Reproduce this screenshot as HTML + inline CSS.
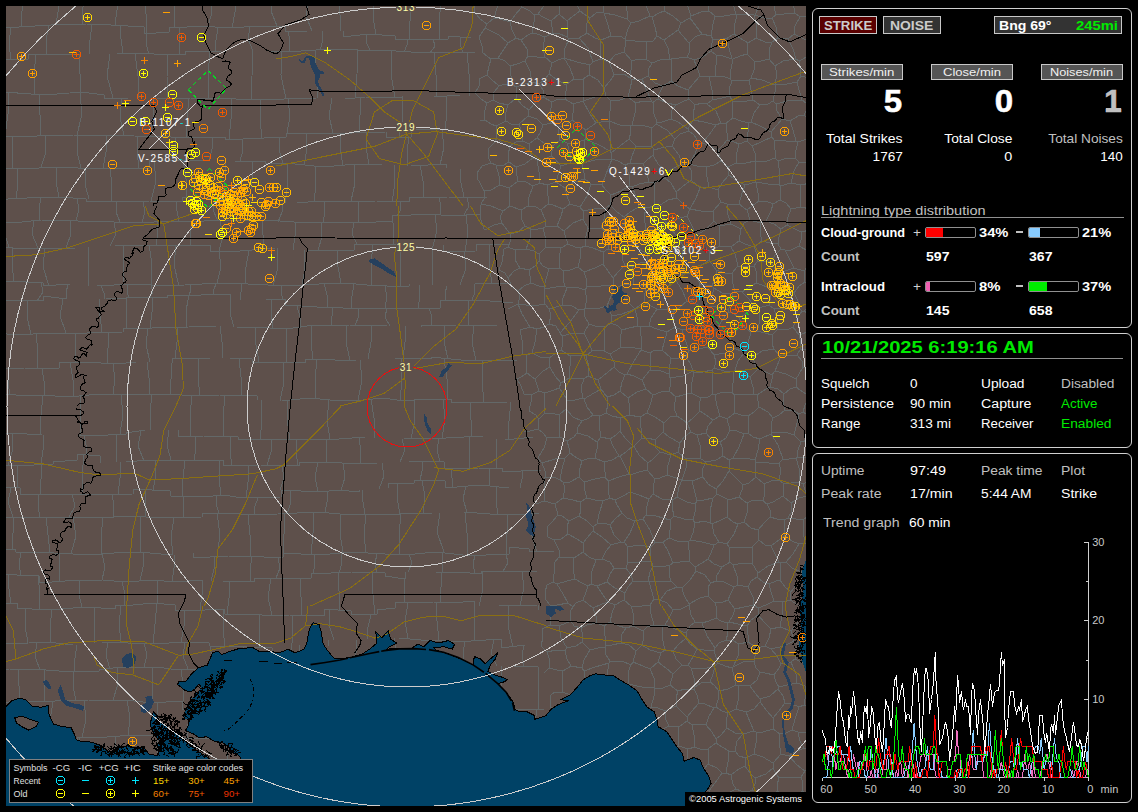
<!DOCTYPE html>
<html><head><meta charset="utf-8"><title>Lightning</title><style>
html,body{margin:0;padding:0;background:#000}
body{width:1138px;height:812px;position:relative;overflow:hidden;font-family:"Liberation Sans",sans-serif}
.t{position:absolute;white-space:nowrap;line-height:normal}
.b{position:absolute;border:1px solid #c8c8c8}
.pn{position:absolute;left:812px;width:318px;border:1px solid #d0d0d0;border-radius:6px}
.hr{position:absolute;height:1px;background:#909090}
.bar{position:absolute;width:49px;height:9px;border:1px solid #909090;border-radius:2px;overflow:hidden}
.bar i{display:block;height:9px}
</style></head><body>
<svg id="map" width="800" height="800" viewBox="6 6 800 800" style="position:absolute;left:6px;top:6px;font-family:'Liberation Sans',sans-serif" shape-rendering="crispEdges">
<defs><path id="p" fill="none" d="M-2.5-4h5M-2.5 4h5M-4-2.5v5M4-2.5v5M-3.5-3h1M2.5-3h1M-3.5 3h1M2.5 3h1M-2.5 0h5M0-2.5v5"/><path id="m" fill="none" d="M-2.5-4h5M-2.5 4h5M-4-2.5v5M4-2.5v5M-3.5-3h1M2.5-3h1M-3.5 3h1M2.5 3h1M-2.5 0h5"/><path id="P" fill="none" d="M-3.5 0h7M0-3.5v7"/><path id="M" fill="none" d="M-3.5 0h7"/></defs>
<rect x="6" y="6" width="800" height="800" fill="#5e504b"/>
<path d="M-10 -3L23 -4M23 -4L49 -5M49 -5L49 -1M49 -1L74 2M74 2L105 1M105 1L105 -5M105 -5L130 -6M130 -6L152 -6M152 -6L181 -4M181 -4L215 -4M215 -4L241 -5M241 -5L272 -5M272 -5L291 -4M291 -4L291 -1M291 -1L310 0M310 0L332 -2M332 -2L354 -1M354 -1L389 -2M389 -2L389 3M389 3L422 4M422 4L422 -1M422 -1L458 -1M-10 30L-10 27M-10 27L19 27M19 27L51 25M51 25L87 24M87 24L111 25M111 25L144 27M144 27L144 34M144 34L169 32M169 32L169 28M169 28L205 26M205 26L225 28M225 28L264 26M264 26L285 26M285 26L285 31M285 31L307 31M343 31L343 37M343 37L368 34M368 34L395 36M395 36L395 39M395 39L427 39M427 39L448 39M448 39L448 36M448 36L471 38M-10 57L9 60M9 60L28 59M28 59L28 55M28 55L56 54M56 54L81 55M116 53L154 54M154 54L185 55M185 55L185 51M185 51L221 52M240 51L240 51M271 51L301 51M301 51L331 49M331 49L358 50M358 50L358 51M358 51L380 50M380 50L411 52M411 52L443 53M443 53L476 52M-10 92L17 92M17 92L17 93M17 93L45 95M45 95L82 92M82 92L104 95M104 95L104 99M104 99L128 98M157 99L191 98M191 98L219 98M219 98L253 100M253 100L284 99M284 99L317 98M345 98L345 99M345 99L365 97M365 97L402 98M402 98L402 96M434 97L460 95M-10 129L-10 137M-10 137L10 136M10 136L37 136M37 136L74 135M74 135L111 135M111 135L134 136M134 136L171 137M171 137L201 137M201 137L225 137M225 137L225 139M225 139L243 139M243 139L264 138M264 138L286 137M286 137L286 133M286 133L325 133M325 133L352 133M352 133L386 132M386 132L386 137M386 137L411 137M411 137L411 129M411 129L449 130M-10 168L20 169M20 169L58 167M58 167L78 168M78 168L115 168M115 168L149 168M149 168L149 161M149 161L171 160M171 160L207 160M235 162L265 161M265 161L265 163M265 163L295 164M295 164L324 167M324 167L355 164M355 164L382 165M411 166L446 164M446 164L446 168M-10 194L-10 200M-10 200L27 198M27 198L59 197M59 197L86 199M86 199L86 201M86 201L111 202M111 202L150 201M150 201L182 202M182 202L182 197M182 197L221 199M221 199L245 200M266 198L266 204M297 203L320 201M320 201L338 202M338 202L376 201M376 201L409 202M409 202L409 198M409 198L448 197M448 197L487 198M-10 221L12 223M12 223L41 220M41 220L78 221M78 221L99 221M99 221L128 223M128 223L154 222M154 222L177 221M177 221L204 221M204 221L242 220M242 220L280 221M280 221L308 223M308 223L330 222M330 222L361 223M361 223L392 221M392 221L392 216M392 216L430 214M430 214L451 216M451 216L481 214M-10 247L13 248M13 248L52 248M52 248L75 248M115 246L147 245M147 245L184 245M184 245L210 245M210 245L210 251M210 251L240 251M240 251L275 248M307 250L335 251M335 251L354 250M354 250L354 244M354 244L385 244M385 244L418 247M443 245L443 252M443 252L476 251M476 251L476 244M476 244L510 245M-10 276L-10 281M-10 281L10 281M10 281L43 283M43 283L43 286M43 286L70 284M97 286L131 284M131 284L151 284M151 284L151 286M151 286L185 285M185 285L219 283M219 283L248 284M248 284L287 286M287 286L319 284M319 284L344 283M344 283L367 285M367 285L387 286M387 286L409 286M409 286L409 284M475 284L510 283M-10 301L22 300M22 300L43 301M43 301L43 296M43 296L67 299M106 299L146 297M146 297L167 298M167 298L167 295M167 295L201 295M201 295L230 294M230 294L230 300M266 300L285 299M285 299L285 305M285 305L317 307M317 307L343 308M343 308L363 308M363 308L387 309M387 309L408 308M408 308L440 308M440 308L440 300M440 300L479 300M479 300L513 303M-10 332L15 335M15 335L52 333M52 333L87 333M87 333L123 332M123 332L123 329M123 329L152 328M152 328L189 327M189 327L216 326M237 327L270 328M270 328L293 328M293 328L314 325M314 325L349 325M349 325L387 326M421 327L421 326M421 326L457 325M457 325L457 325M457 325L497 326M-10 369L25 368M25 368L59 368M59 368L59 362M59 362L85 362M85 362L117 364M117 364L136 362M172 363L172 358M172 358L210 358M230 358L252 359M252 359L252 362M252 362L279 362M279 362L305 363M305 363L305 359M305 359L335 360M335 360L356 360M394 358L431 359M431 359L431 357M431 357L461 360M461 360L461 361M461 361L492 360M492 360L517 360M-10 394L16 395M16 395L41 395M41 395L69 397M69 397L99 394M99 394L131 395M131 395L162 394M162 394L201 396M201 396L219 395M219 395L257 396M257 396L257 400M282 401L309 398M309 398L341 401M341 401L363 400M363 400L383 398M383 398L404 401M404 401L425 399M425 399L451 399M451 399L451 402M451 402L473 403M473 403L508 402M-10 430L-10 434M-10 434L12 433M12 433L42 435M79 436L108 435M108 435L126 434M126 434L126 433M126 433L145 430M178 430L178 436M178 436L203 436M203 436L238 437M238 437L238 440M238 440L265 439M265 439L297 439M297 439L326 440M326 440L365 437M404 439L427 438M427 438L446 438M446 438L446 438M446 438L483 436M505 440L533 437M-10 464L16 466M16 466L53 464M53 464L53 462M53 462L77 460M77 460L77 454M77 454L100 456M100 456L100 463M126 462L149 460M149 460L185 460M185 460L223 460M223 460L223 466M223 466L260 465M260 465L299 466M299 466L299 462M299 462L330 462M330 462L353 464M353 464L377 463M408 461L444 462M444 462L444 469M444 469L479 468M479 468L502 468M502 468L502 472M502 472L541 470M-10 486L20 488M20 488L20 495M20 495L38 494M38 494L72 494M72 494L100 495M100 495L133 494M133 494L133 489M133 489L170 491M170 491L170 496M170 496L203 497M203 497L224 495M224 495L242 498M242 498L281 497M281 497L281 490M281 490L320 492M320 492L338 490M338 490L359 492M359 492L359 490M388 488L388 483M388 483L414 483M414 483L414 480M414 480L445 481M445 481L445 488M445 488L480 485M480 485L509 488M-10 521L-10 517M-10 517L16 517M16 517L39 517M39 517L73 517M73 517L102 518M102 518L127 516M127 516L165 518M165 518L202 517M202 517L202 513M202 513L240 514M240 514L240 515M240 515L278 514M278 514L317 512M317 512L340 514M340 514L366 514M366 514L400 514M400 514L432 513M464 512L490 514M490 514L490 514M490 514L517 514M517 514L517 515M517 515L539 513M-10 550L15 549M15 549L15 552M15 552L54 553M54 553L91 555M91 555L114 553M114 553L139 552M139 552L172 555M193 553L193 558M193 558L228 556M228 556L264 557M264 557L283 557M283 557L283 553M283 553L319 555M319 555L351 552M351 552L385 554M385 554L415 554M415 554L436 552M436 552L463 555M463 555L486 555M486 555L509 554M509 554L509 547M509 547L529 549M529 549L529 552M529 552L554 551M-10 580L-10 574M-10 574L17 575M17 575L39 576M39 576L39 583M39 583L65 581M65 581L103 580M103 580L125 582M125 582L153 580M153 580L175 582M175 582L202 580M223 581L254 582M254 582L254 578M254 578L275 578M275 578L311 578M311 578L311 574M311 574L351 572M351 572L385 573M385 573L385 576M385 576L405 579M405 579L405 572M436 572L459 572M459 572L481 574M481 574L481 571M481 571L503 572M503 572L503 571M503 571L536 571M536 571L536 572M-10 609L-10 605M-10 605L17 603M17 603L17 608M17 608L47 610M47 610L86 607M86 607L115 609M115 609L115 606M115 606L133 605M133 605L153 603M153 603L175 605M175 605L175 610M175 610L205 610M205 610L224 609M224 609L224 614M224 614L262 615M262 615L289 615M289 615L324 616M324 616L324 609M324 609L351 611M351 611L351 615M351 615L377 614M377 614L377 610M377 610L395 608M395 608L395 603M395 603L434 602M434 602L452 603M452 603L474 601M474 601L474 607M499 606L538 605M538 605L538 610M-10 644L29 643M29 643L48 642M48 642L73 645M102 642L128 643M128 643L155 644M155 644L183 642M183 642L209 643M209 643L209 646M209 646L247 647M247 647L272 648M272 648L272 652M272 652L299 652M299 652L299 645M328 646L328 640M399 638L421 640M421 640L449 641M449 641L471 641M471 641L501 639M501 639L501 648M501 648L525 645M-10 676L-10 670M-10 670L9 669M9 669L46 670M46 670L72 672M72 672L99 671M99 671L99 670M99 670L120 667M120 667L156 667M156 667L179 670M179 670L212 669M212 669L248 668M248 668L248 674M248 674L276 673M276 673L276 667M302 667L322 667M322 667L355 665M355 665L387 665M417 667L451 666M451 666L486 666M486 666L486 665M514 666L538 667M-10 702L9 702M9 702L27 701M27 701L55 701M55 701L89 700M89 700L126 700M126 700L151 703M151 703L182 701M182 701L182 710M182 710L211 709M211 709L236 709M236 709L270 707M270 707L306 710M306 710L331 708M331 708L331 705M331 705L350 702M350 702L380 704M380 704L402 701M402 701L429 704M429 704L456 703M456 703L456 705M456 705L474 709M514 707L514 709M514 709L544 709M-10 734L-10 736M-10 736L28 738M28 738L28 742M28 742L52 741M52 741L77 742M77 742L77 738M77 738L107 737M107 737L133 735M133 735L159 736M159 736L178 739M178 739L212 738M212 738L212 741M244 741L244 737M244 737L274 736M274 736L294 737M294 737L294 743M294 743L322 743M358 742L396 742M396 742L432 744M465 743L500 742M500 742L524 742M524 742L524 738M524 738L545 736M-10 772L13 769M13 769L37 772M37 772L67 771M67 771L67 776M67 776L87 777M87 777L119 777M119 777L145 775M145 775L176 776M176 776L176 779M176 779L215 779M215 779L243 779M243 779L280 777M280 777L300 779M332 780L361 778M361 778L361 779M361 779L383 778M383 778L409 779M409 779L436 780M436 780L465 780M465 780L485 778M485 778L485 773M485 773L521 773M521 773L557 772M-10 800L-10 793M-10 793L10 793M10 793L10 798M40 799L67 798M67 798L102 797M102 797L140 799M140 799L176 796M176 796L203 797M203 797L222 797M222 797L258 796M258 796L291 797M291 797L323 798M323 798L343 798M343 798L343 805M343 805L374 802M374 802L406 804M406 804L406 798M429 798L452 798M452 798L452 803M452 803L484 805M484 805L507 804M507 804L507 800M507 800L543 801M-10 826L21 826M21 826L21 831M21 831L60 831M79 832L110 830M110 830L148 832M148 832L170 831M170 831L170 826M170 826L194 825M194 825L213 826M213 826L213 822M244 820L272 820M272 820L310 821M310 821L347 823M347 823L382 821M382 821L419 821M419 821L448 821M448 821L487 822M487 822L487 824M487 824L527 826M-10 857L15 858M15 858L38 857M38 857L38 853M38 853L64 854M64 854L93 855M93 855L127 853M127 853L128 848M128 848L158 848M158 848L195 849M195 849L233 847M233 847L269 850M269 850L297 851M297 851L320 850M320 850L320 853M320 853L356 855M356 855L356 859M356 859L385 860M385 860L424 862M424 862L456 860M456 860L456 858M456 858L479 858M479 858L511 857M511 857L545 857M-7 -3L-5 12L-10 27M23 -4L22 11L21 27M59 0L58 12L56 25M84 2L82 13L83 25M117 -6L117 10L115 25M145 -6L146 14L147 34M175 -4L174 12L174 28M210 -4L212 12L208 27M235 -5L235 12L232 28M274 -5L271 11L277 26M309 0L306 16L312 31M339 -2L340 15L340 31M373 -2L373 17L376 35M412 4L410 21L409 39M442 -1L439 19L439 39M11 27L9 44L11 60M49 25L46 40L46 54M92 25L90 40L89 54M120 26L121 39L123 53M147 34L146 44L149 54M180 27L179 41L180 55M218 28L216 40L215 52M250 27L248 39L253 51M288 31L290 41L289 51M322 31L323 40L320 50M366 35L366 42L370 50M407 39L407 45L404 52M433 39L435 46L430 53M460 37L460 45L463 52M-4 58L-5 75L-1 92M36 55L34 74L35 94M79 55L80 74L80 93M110 54L107 76L113 98M135 54L138 76L138 98M168 55L167 77L167 99M210 52L208 75L208 98M253 51L252 76L251 100M282 51L281 75L286 99M315 50L316 74L318 98M358 50L357 74L355 98M391 51L391 74L395 98M434 53L436 75L437 97M467 52L469 74L469 96M8 92L8 114L5 136M39 94L40 115L40 136M80 93L82 114L77 135M122 98L120 117L124 135M154 99L153 118L150 137M189 98L187 118L186 137M231 99L231 119L229 139M261 100L260 119L262 138M288 99L290 116L287 133M332 98L329 116L333 133M360 98L360 115L359 133M402 96L403 117L399 137M446 96L447 113L445 130M13 136L12 152L13 169M45 136L46 152L41 167M78 135L77 152L81 168M107 135L106 152L103 168M138 136L137 152L139 168M175 137L176 149L174 160M212 137L212 149L209 160M242 139L243 150L240 161M279 137L279 150L283 163M306 133L307 149L304 165M341 133L340 149L343 165M367 132L366 148L369 164M409 137L407 151L408 166M442 130L444 147L440 165M17 169L18 184L16 199M56 167L56 182L59 197M86 168L85 184L89 199M110 168L112 185L111 202M154 161L156 181L151 201M183 160L186 179L187 197M225 161L225 180L223 199M252 161L252 180L250 199M287 163L288 183L285 203M315 166L316 184L314 202M354 164L355 183L351 201M394 165L395 183L392 202M420 165L423 181L423 197M460 169L461 183L464 197M1 199L2 210L1 222M41 198L39 209L39 220M77 198L79 209L76 221M117 202L116 212L120 222M143 201L145 212L142 222M176 201L177 211L179 221M215 199L213 210L218 221M243 200L240 210L240 220M282 203L282 212L278 222M324 202L325 212L323 222M359 201L358 212L358 223M400 202L401 209L397 216M439 197L441 206L440 215M467 197L469 206L464 215M6 222L5 235L9 247M34 221L32 234L38 248M70 220L71 234L66 248M114 222L116 234L110 246M157 222L158 233L156 245M192 221L190 233L191 245M220 221L223 236L219 251M262 221L263 235L264 249M295 222L295 236L293 250M321 222L322 236L318 251M354 223L352 234L357 244M392 216L394 230L393 245M435 215L437 230L433 246M466 215L468 233L465 251M12 248L12 264L14 281M45 248L43 267L49 286M88 247L88 266L89 286M124 246L123 265L124 285M149 245L152 264L151 284M176 245L174 265L179 286M219 251L221 267L217 283M249 250L246 267L245 284M277 248L278 267L273 286M304 250L305 268L302 285M337 251L338 267L341 283M373 244L371 265L371 285M400 245L400 266L401 286M432 246L433 266L432 285M464 251L466 268L460 285M489 244L489 264L492 284M-3 281L-5 291L-6 301M41 282L43 292L37 301M68 285L66 292L67 299M101 286L104 293L105 299M127 285L127 291L129 298M151 286L153 292L150 297M190 285L191 290L189 295M216 284L214 289L213 294M242 284L241 292L240 300M281 286L281 293L283 299M324 283L327 295L328 307M354 284L352 296L351 308M385 286L387 297L385 308M419 285L420 296L418 308M447 286L445 293L446 300M474 284L475 292L472 300M-4 301L-5 317L-4 333M28 300L27 317L31 334M63 299L60 316L66 333M99 299L100 316L102 332M126 298L127 313L126 328M153 297L152 312L150 328M189 295L186 311L187 327M231 300L230 313L234 327M271 300L271 314L273 328M297 306L300 317L300 328M333 308L332 316L331 325M358 308L359 316L355 325M387 308L385 317L390 326M429 308L432 317L431 326M469 300L468 312L468 325M-4 333L-6 351L-8 369M36 334L38 351L37 368M75 333L76 347L75 362M109 332L108 348L107 364M148 328L146 345L150 362M177 327L177 342L175 358M220 326L222 342L222 358M255 327L256 345L259 362M286 328L286 345L287 362M311 325L311 342L313 359M346 325L346 342L350 360M371 325L371 342L368 359M405 326L405 342L403 358M445 325L444 342L448 359M474 325L472 343L476 360M9 368L8 382L10 395M42 368L44 381L44 395M70 362L73 380L73 397M113 364L115 379L113 394M147 362L149 378L150 394M171 363L171 379L170 394M198 358L198 377L200 396M239 358L241 377L242 396M283 362L284 382L280 401M317 359L315 379L315 399M360 360L362 380L358 400M401 358L402 380L400 401M444 359L447 379L447 399M482 360L482 381L484 403M-0 394L-2 414L-3 434M43 395L41 415L40 435M80 396L80 416L80 436M121 395L123 414L120 434M152 394L150 412L150 430M192 395L190 416L190 436M225 396L223 416L223 436M261 400L262 420L260 440M287 401L287 420L290 439M329 400L327 420L330 440M371 399L374 418L375 438M414 400L415 420L411 439M443 399L445 419L442 438M470 403L471 420L472 437M511 402L509 421L508 439M12 433L13 449L8 465M44 435L43 450L41 464M84 436L86 445L86 455M116 434L116 448L117 462M141 431L138 446L144 461M169 430L167 445L171 460M195 436L196 448L194 460M231 436L230 451L232 466M271 439L271 452L267 465M296 439L296 452L298 466M326 440L327 451L326 462M359 438L361 451L360 464M402 439L405 450L400 462M439 438L437 450L440 462M470 437L469 453L470 468M496 439L497 453L496 468M17 466L17 477L17 488M41 465L41 479L40 494M84 455L82 475L83 494M120 462L120 478L118 494M155 460L156 475L153 490M185 460L183 478L182 497M220 460L219 478L221 496M248 465L248 482L246 498M282 466L284 478L280 490M318 462L315 477L318 492M343 463L345 477L341 491M382 463L384 476L379 489M423 462L422 471L420 480M451 469L452 478L453 488M490 468L489 477L490 486M522 471L522 479L520 488M11 488L8 502L13 517M39 494L38 506L40 517M72 494L75 506L69 517M112 494L114 506L113 517M145 490L145 503L145 517M184 497L183 507L183 518M216 496L216 504L219 513M258 498L255 506L254 515M290 490L291 502L287 514M327 491L327 502L325 513M362 490L363 502L365 514M398 483L397 498L400 514M422 480L425 497L423 513M466 486L463 499L467 512M497 487L496 501L498 514M13 517L13 533L12 549M46 517L48 535L50 553M73 517L76 536L71 554M103 518L101 536L101 554M140 517L140 534L141 552M174 518L171 536L173 555M217 513L220 535L217 556M248 515L250 535L251 556M284 514L284 534L283 553M314 512L313 533L311 555M341 514L340 533L343 553M366 514L364 534L366 553M401 514L399 534L400 554M440 513L437 532L444 552M465 512L467 533L467 555M507 514L507 534L506 554M533 513L531 533L537 552M-5 550L-6 562L-9 575M21 552L19 564L21 575M59 553L60 568L59 582M102 554L105 567L102 580M143 553L143 567L140 581M174 555L174 568L172 582M215 556L214 569L211 581M252 557L250 569L251 582M278 557L280 568L276 578M314 555L315 564L313 574M341 553L342 563L339 573M377 554L375 563L377 573M409 554L412 563L408 572M443 553L442 562L442 572M475 555L473 564L475 573M506 554L508 563L503 571M8 575L9 589L11 604M38 576L40 593L39 610M79 581L79 594L82 608M122 582L125 594L124 606M158 581L157 592L158 603M202 580L202 595L200 610M229 582L229 598L227 614M271 578L268 597L272 615M300 578L301 597L301 616M338 573L339 591L339 610M372 573L373 594L375 615M404 579L404 591L404 603M442 572L441 587L440 603M482 571L483 589L479 606M522 571L524 588L520 605M-8 605L-10 624L-9 644M26 609L25 626L28 643M52 610L50 626L51 643M94 608L94 625L95 643M121 606L119 624L121 642M157 603L155 624L153 644M185 610L184 626L181 642M224 609L223 628L225 647M260 615L259 631L260 647M292 615L293 634L291 652M330 610L329 625L334 640M371 615L368 627L367 639M408 603L405 621L408 639M436 602L437 621L439 640M474 601L475 621L474 641M509 605L508 626L513 647M3 644L2 657L6 670M37 643L35 656L40 670M77 645L75 658L74 672M108 642L106 655L110 669M144 643L147 655L144 667M185 642L183 656L188 669M210 646L212 657L206 669M243 647L243 657L239 668M272 652L273 663L268 673M316 646L318 656L316 667M357 640L356 653L355 665M394 638L396 652L393 666M430 640L432 653L430 667M465 641L463 654L464 666M494 640L491 653L497 666M524 645L522 656L524 666M18 669L19 686L19 702M44 670L44 685L45 701M73 672L73 686L76 701M117 667L118 684L113 700M152 667L152 685L153 703M181 669L183 685L183 701M222 668L221 689L224 709M261 673L258 690L259 708M288 667L290 688L287 708M318 667L318 688L314 709M356 665L358 684L353 702M397 666L394 684L397 702M427 667L429 685L424 704M470 666L472 687L466 708M502 666L501 687L501 707M539 667L538 688L539 709M4 702L2 720L3 737M28 701L30 721L25 742M53 701L50 721L56 741M84 700L86 719L82 738M127 700L130 718L128 736M157 703L157 719L161 736M191 710L188 724L187 738M216 709L215 725L218 741M254 708L255 722L254 737M279 708L277 722L280 736M305 710L306 726L302 743M338 704L340 723L338 742M366 703L369 722L364 742M401 702L400 722L404 742M431 704L428 724L432 744M473 709L474 726L473 743M513 707L510 724L513 742M537 709L535 723L534 737M3 737L3 754L5 770M42 741L41 757L42 772M79 738L82 758L81 777M115 737L117 757L113 777M157 736L158 756L154 776M183 739L185 759L183 779M227 741L227 760L224 779M264 736L262 757L260 778M291 737L292 757L293 778M323 743L323 761L326 780M363 742L362 760L364 779M395 742L398 760L392 779M432 744L431 762L433 780M463 743L464 762L463 780M499 742L497 757L497 773M526 738L523 755L528 773M-9 772L-10 782L-12 793M31 771L34 785L32 799M59 772L61 785L56 798M93 777L94 787L94 797M124 777L123 787L122 798M163 776L161 786L163 797M194 779L195 788L191 796M219 779L221 788L216 797M252 779L253 787L250 796M284 777L281 787L288 797M309 779L308 788L308 797M344 779L342 792L344 805M382 779L382 790L384 802M409 779L406 789L412 798M438 780L438 789L435 798M477 779L474 792L473 805M501 773L502 788L505 804M536 772L535 787L537 801M4 793L5 810L3 826M37 799L37 815L37 831M62 798L61 815L63 831M88 797L89 814L92 832M127 798L128 815L125 831M170 797L167 814L167 831M207 797L205 811L209 826M234 797L236 809L236 821M265 796L265 808L266 820M289 797L292 808L293 820M325 798L324 810L328 821M360 803L360 813L363 822M387 803L385 812L389 821M423 798L421 810L419 821M460 803L458 812L461 822M493 805L490 815L490 824M527 801L527 814L526 826M8 826L10 842L5 858M38 831L37 844L36 857M77 832L79 843L76 854M105 831L105 842L107 854M130 831L131 840L132 848M165 831L165 840L166 848M206 826L208 837L210 849M250 820L248 834L254 849M278 820L277 835L277 850M319 821L316 835L315 850M346 823L348 838L343 854M376 821L376 840L375 859M411 821L410 841L413 861M444 821L444 841L441 860M468 822L467 840L469 858M508 825L507 841L509 857M536 826L533 842L533 857M772 42L778 38M772 42L765 42L756 38M772 18L776 27L778 38M772 18L764 18L755 15M755 15L754 15M756 38L757 27L754 15M769 59L769 50L772 42M769 59L761 61L755 62M755 62L747 54M756 38L748 43M747 54L748 43M769 59L775 66M778 38L788 39M775 66L783 61L796 59M788 39L793 49L796 59M775 66L777 74L775 84M775 84L787 84L797 82M797 82L801 76M801 76L800 68L799 61M796 59L799 61M735 751L739 756L746 758M735 751L737 741L743 734M743 734L754 731M754 754L756 743L756 732M754 754L746 758M756 732L754 731M745 766L739 769L731 775M745 766L746 758M731 775L726 773M735 751L729 751M726 773L728 762L729 751M755 460L758 450L760 439M755 460L756 462M760 439L771 434M756 462L769 463L779 463M779 463L783 459M783 459L778 445L771 434M773 418L768 412L759 407M773 418L771 424L772 433M748 433L753 437L760 439M748 433L749 426L748 416M748 416L754 412L759 407M772 433L771 434M785 410L779 415L773 418M785 410L793 410L799 414M799 414L797 423L794 435M772 433L785 432L794 435M799 414L803 412M803 412L810 417L818 425M816 436L808 440L801 442M794 435L801 442M783 459L789 459L796 458M801 442L798 450L797 457M796 458L797 457M745 766L750 773L755 778M731 775L733 784L736 789M736 789L741 791L750 791M750 791L752 790M755 778L755 784L752 790M816 814L807 810L796 809M791 815L796 809M713 39L711 36M713 39L719 40L727 38M711 36L713 24L715 16M727 38L734 34M734 34L735 23L737 15M715 16L724 16L736 14M736 14L737 15M754 15L745 14L737 15M748 43L740 38L734 34M733 -6L733 4L736 14M709 11L715 16M709 11L708 3L710 -6M755 15L759 6L761 -7M821 331L810 331L799 335M799 335L801 343L800 350M800 350L811 349L820 346M785 410L783 401L784 394M784 394L790 389L796 387M803 412L805 405L809 396M809 396L800 390L796 387M812 166L812 174L810 183M810 183L815 187L819 192M795 13L793 2M795 13L784 14L776 15M793 2L786 -2L780 -6M776 15L774 7L775 -4M802 -10L798 -5L793 2M772 18L776 15M788 39L794 34M795 13L800 17M794 34L795 26L800 17M815 -1L812 6L808 16M800 17L808 16M812 18L808 16M518 304L520 297L518 291M518 304L518 304M509 280L512 287L518 291M518 304L508 309M532 353L527 355M532 353L535 342L537 329M537 329L530 327M522 354L527 355M522 354L522 340L520 330M530 327L520 330M518 304L522 314L530 327M784 394L778 389L770 387M759 407L757 395M770 387L766 389L757 395M545 57L543 48L545 37M545 57L537 57L528 56M528 56L527 49L521 40M521 40L528 35L532 33M532 33L537 34L545 37M487 -8L494 -5L497 1M497 1L503 0L511 -2M585 179L591 184M585 179L574 182L565 188M591 184L587 196L580 207M565 188L567 196L570 204M580 207L570 204M563 209L570 204M563 209L561 216L557 226M564 231L557 226M564 231L573 223L583 219M583 211L583 219M583 211L580 207M583 163L599 159L612 159M583 163L585 151L584 140M584 140L585 139M585 139L599 145L610 151M612 159L611 153M610 151L611 153M582 164L583 163M582 164L584 173L585 179M602 185L591 184M602 185L606 174L612 159M612 159L612 159M646 42L646 50L647 60M646 42L635 41L626 40M624 52L625 47L626 40M624 52L632 61M632 61L638 59L647 60M795 799L796 809M795 799L802 791M802 791L810 795L820 797M648 772L658 771L671 775M648 772L651 783L652 793M671 775L672 783L671 790M671 790L660 790L652 793M693 793L683 790L672 791M693 793L693 804L691 813M671 812L670 800L672 791M671 812L675 816M582 752L592 747M582 752L574 748L568 743M568 743L568 738L566 730M592 747L596 736L597 729M597 729L593 727L584 725M566 730L574 726L584 725M568 743L565 748L558 754M553 728L561 726M566 730L561 726M542 756L552 754L558 754M581 766L582 758L582 752M581 766L575 766L567 769M558 754L562 760L567 769M606 646L605 636L604 626M606 646L612 645L621 643M621 643L622 634L626 628M626 628L619 626L610 622M610 622L604 626M597 623L604 626M597 623L587 625L581 628M590 650L598 648L605 647M590 650L582 642M605 647L606 646M582 642L583 636L581 628M636 651L629 645L621 643M636 651L633 662M610 661L606 655L605 647M610 661L622 661L631 665M633 662L631 665M667 750L671 762L674 771M667 750L673 750L679 746M674 771L686 770M686 770L687 761L688 749M679 746L688 749M648 772L647 770M667 750L662 749M662 749L654 756L646 759M674 771L671 775M647 770L646 759M516 38L508 43M516 38L512 30L510 22M487 24L485 28M487 24L494 18M494 18L500 19L510 22M508 43L499 35L485 28M511 -2L521 5M531 -8L526 -3L521 5M516 38L521 40M532 33L534 22L534 15M510 22L515 15L522 7M534 15L530 11L522 7M497 1L497 8L494 18M522 7L521 5M538 14L534 15M538 14L543 7L551 -2M587 33L586 25L590 18M587 33L595 38L601 40M590 18L596 13L603 12M611 36L601 40M611 36L608 25L604 13M604 13L603 12M669 -0L665 4L664 11M664 11L673 16L681 23M684 -5L688 7L691 16M681 23L690 18M690 18L691 16M652 17L659 13L664 11M652 17L655 27L657 36M657 36L664 40M664 40L671 35L678 30M678 30L681 23M689 43L682 35L678 30M689 43L695 37L702 34M702 34L696 26L690 18M709 11L701 12L691 16M702 34L711 36M487 24L480 19L474 11M474 11L475 4L476 -2M824 365L815 366L809 369M809 369L815 381L818 393M800 350L797 355M797 355L802 361L803 367M803 367L809 369M803 367L799 374L796 379M809 396L818 393M796 387L796 379M630 126L632 125M630 126L620 125L609 121M632 125L635 113L636 103M609 121L609 121M609 121L610 111L611 101M611 101L620 100L628 97M628 97L636 103M629 139L620 146L611 153M629 139L631 132L630 126M610 151L611 137L609 121M652 102L643 101L636 103M652 102L653 102M653 102L654 114L657 122M657 122L656 124M656 124L652 128M652 128L642 125L632 125M586 130L585 139M586 130L596 123M596 123L601 122L609 121M652 102L646 89L642 79M642 79L632 80M632 80L630 89L628 97M713 39L711 47L711 51M727 38L729 48L732 59M711 51L716 55M716 55L723 56L732 59M747 54L740 56L733 59M732 59L733 59M653 102L658 99M657 122L662 122L671 119M658 99L667 103L676 105M671 119L672 110L676 105M646 42L653 41L657 36M664 40L668 48L670 59M647 60L652 63M670 59L660 60L652 63M658 99L659 94L663 86M642 79L648 76M663 86L655 83L648 76M632 61L631 70L630 78M632 80L630 78M648 76L648 70L652 63M700 76L698 70L694 60M700 76L693 84L688 90M688 90L678 86L671 81M671 81L672 71L671 59M671 59L679 58L687 57M687 57L694 60M689 99L682 102L676 105M689 99L688 90M663 86L671 81M670 59L671 59M689 43L690 51L687 57M711 51L703 57L694 60M799 162L807 163L812 166M799 162L794 171L791 183M810 183L801 185M791 183L801 185M810 209L801 207M810 209L817 200M801 185L800 195L801 207M799 162L795 158M795 158L796 150L798 142M819 149L814 146L807 139M798 142L807 139M794 34L806 40L818 43M799 61L810 55L817 53M801 76L812 79L819 80M643 164L646 161L653 155M643 164L637 163L630 163M630 163L632 156L636 146M636 146L644 146L652 146M653 155L654 150M654 150L652 146M654 183L665 178M654 183L649 182M649 182L647 173L643 164M667 172L665 178M667 172L658 164L653 155M625 165L630 163M625 165L618 161L612 159M629 139L636 146M652 128L651 137L652 146M563 209L553 205L548 204M565 188L556 182M548 204L548 196L547 185M556 182L547 185M582 164L576 163L570 163M584 140L576 143L567 143M567 143L570 153L570 163M556 182L559 172L561 166M537 160L543 160L551 156M537 160L539 172L540 183M540 183L547 185M551 156L555 159L561 166M570 163L561 166M622 251L629 245L635 243M622 251L615 251L608 249M624 224L618 230L609 234M624 224L628 231L634 235M635 243L634 235M608 249L610 241L609 234M583 211L594 209L606 208M583 219L588 228M606 208L604 219L601 228M588 228L595 228L601 228M639 207L630 212L624 217M639 207L637 198L632 187M624 217L617 212L610 205M632 187L629 186M629 186L621 191L611 195M611 195L610 205M646 208L644 217L646 229M646 208L639 207M624 224L624 217M646 229L642 233L634 235M655 206L646 208M655 206L654 196L654 183M649 182L639 184L632 187M606 208L610 205M609 234L601 228M625 165L629 174L629 186M602 185L605 189L611 195M561 248L559 258L559 268M561 248L553 247L545 248M545 248L539 254M559 268L549 269M549 269L543 266L539 261M539 254L539 261M544 287L539 286L531 283M544 287L546 279L549 269M531 283L530 276L529 270M529 270L535 266L539 261M647 470L655 479M647 470L648 463M655 479L660 478L667 475M671 455L668 465L667 475M671 455L660 452M648 463L652 460L660 452M653 395L650 405L647 413M653 395L661 392L669 391M647 413L655 417L664 423M669 391L676 397M676 397L674 408L677 416M677 416L670 417L664 423M691 393L701 398M691 393L683 395L676 397M701 398L699 404L700 411M687 423L693 418L700 411M687 423L683 420L677 416M655 440L648 438L642 438M655 440L656 448L660 452M648 463L639 455L634 446M634 446L642 438M663 432L655 440M663 432L664 423M647 413L640 417M642 438L641 428L640 417M670 378L683 376L693 371M670 378L671 383L669 391M691 393L692 382L694 372M693 371L694 372M662 350L671 358M662 350L655 350L650 353M650 370L650 362L650 353M650 370L661 371L669 374M669 374L670 364L671 358M641 350L650 353M641 350L634 361L627 374M642 380L634 376L627 374M642 380L646 375L650 370M670 378L669 374M646 389L642 380M646 389L653 395M686 356L691 365L693 371M686 356L679 358L671 358M568 -20L570 -9L574 1M551 -2L559 3M559 3L565 1L574 1M590 18L584 14L580 11M603 12L604 6L606 -2M593 -13L585 -5L575 1M580 11L575 1M575 1L574 1M553 33L551 21M553 33L558 33L567 37M567 37L567 28L567 21M567 21L559 14M551 21L559 14M545 37L553 33M538 14L543 17L551 21M552 63L558 60L564 58M552 63L545 57M564 58L565 48L569 39M569 39L567 37M587 33L579 38M579 38L569 39M580 11L573 16L567 21M559 3L559 14M566 85L556 79L549 74M566 85L574 79M549 74L552 63M564 58L564 58M574 79L570 68L564 58M596 123L590 114L583 101M611 101L606 96M606 96L595 97L583 101M566 85L566 91L565 99M565 99L573 104M573 104L583 101M574 79L583 79M583 79L583 89L583 101M573 104L573 113L572 120M572 120L579 125L586 130M583 101L583 101M754 754L763 757L773 763M755 778L766 774L773 768M773 763L773 768M752 790L763 794L771 796M771 796L777 791M777 791L777 785L779 778M773 768L775 772L779 778M777 791L786 797L795 799M802 791L803 783L801 777M779 778L790 777L801 777M821 774L816 774L808 770M808 770L805 771M801 777L805 771M808 770L810 762L812 752M583 713L576 709L570 707M583 713L586 708L590 701M590 701L589 696L587 690M587 690L580 691L570 695M570 695L572 699L570 707M584 725L583 713M561 721L561 726M561 721L564 715L570 707M601 727L597 729M601 727L602 719L604 714M604 714L597 709L590 701M542 764L542 756M584 671L595 667L609 663M584 671L585 679L589 687M589 687L597 685L608 686M609 663L607 676L608 686M610 661L609 663M590 650L584 660L582 668M582 668L584 671M559 557L559 550L554 540M559 557L554 563M554 540L548 537M583 543L583 552M583 543L577 539L568 534M568 534L561 539L554 540M574 558L583 552M574 558L568 557L559 557M695 776L702 772L708 764M695 776L694 783L697 788M709 791L715 783L722 773M709 791L697 788M722 773L717 768L708 764M708 749L709 757L708 764M708 749L702 750L695 747M686 770L695 776M688 749L695 747M693 793L697 788M672 791L671 790M715 796L721 797L726 799M715 796L709 791M726 799L730 792L736 789M726 773L722 773M729 751L722 747L716 743M716 743L708 749M628 684L628 684M628 684L621 684L612 688M628 684L632 699L635 710M612 688L612 696L613 706M613 706L621 710L630 712M630 712L635 710M633 662L643 666L650 669M631 665L628 672L628 684M650 669L654 678L654 687M654 687L642 687L628 684M608 686L612 688M655 688L654 696L651 707M655 688L654 687M651 707L645 712M645 712L635 710M604 714L608 711L613 706M587 690L589 687M692 725L687 721M692 725L694 735L695 747M679 746L678 737L679 727M687 721L679 727M648 727L645 721L645 712M648 727L658 732M658 732L663 729L669 726M651 707L658 708L665 711M665 711L666 720L669 726M658 732L659 742L662 749M669 726L679 727M796 458L799 468L799 482M797 457L807 458L816 463M803 484L799 482M803 484L811 480L815 475M756 462L755 471L756 477M779 463L781 471L779 480M756 477L764 484M764 484L771 481L779 480M799 482L791 483L784 484M779 480L784 484M655 479L653 487L653 494M667 475L673 477L682 480M677 497L679 487L682 480M677 497L673 500M682 480L682 480M673 500L662 499L653 494M807 496L805 490L803 484M807 496L812 500M771 796L769 805L770 813M750 791L749 802L749 813M726 799L726 808L730 812M671 812L661 809L652 810M652 793L650 795M652 810L651 803L650 795M647 770L640 774L631 778M627 790L627 785L631 778M627 790L629 793M650 795L640 794L629 793M581 766L586 770L591 777M592 747L600 752L606 758M591 777L597 768L606 764M606 758L606 764M591 777L591 787M591 787L597 792L604 795M604 795L611 792M611 792L611 781L614 769M606 764L614 769M627 790L619 790L611 792M631 778L625 773L621 769M614 769L621 769M542 764L547 771L552 778M567 769L562 778M562 778L552 778M591 787L581 792M581 792L574 791L568 788M562 778L568 788M565 814L560 807L557 799M568 788L561 794L557 799M626 -1L627 11L627 19M642 -5L647 8L650 16M650 16L639 21L631 23M631 23L627 19M604 13L615 15L627 19M652 17L650 16M625 39L626 40M625 39L628 29L631 23M611 36L620 36L625 39M716 55L716 65L715 76M700 76L709 77M709 77L715 76M733 59L731 69L730 79M715 76L723 76L730 79M751 78L749 80M751 78L762 80L775 85M749 80L751 90L753 100M775 85L775 92L773 101M773 101L768 104L760 105M753 100L760 105M755 62L754 70L751 78M730 79L732 81M732 81L739 80L749 80M775 84L775 85M797 82L799 90L802 100M776 104L791 100L802 100M776 104L773 101M817 225L813 215L810 209M759 308L754 307M759 308L769 305M754 307L749 299L742 292M769 305L771 295L772 289M772 289L762 285L756 283M756 283L748 288L742 292M780 186L781 192L780 200M780 186L791 183M801 207L791 209M791 209L786 203L780 200M817 225L810 230L801 232M801 232L795 229L787 225M791 209L788 217L787 225M756 162L767 161L775 158M756 162L755 170L756 182M779 184L768 184L756 182M779 184L780 174L778 161M778 161L775 158M795 158L787 158L778 161M780 186L779 184M796 141L793 130L790 121M796 141L786 141L774 140M771 132L777 125L782 119M771 132L772 137M782 119L790 121M772 137L774 140M798 142L796 141M775 158L775 150L774 140M751 122L754 113L760 105M751 122L760 126L771 132M776 104L777 111L782 119M752 146L755 153L755 161M752 146L761 142L772 137M755 161L756 162M804 115L808 119L813 125M804 115L806 111L806 103M806 103L816 100M807 139L812 131L813 125M790 121L798 116L804 115M802 100L806 103M751 122L749 123M752 146L747 141M749 123L748 132L747 141M671 119L678 122L688 129M689 99L695 105M695 105L693 114L693 120M688 129L693 120M557 226L545 227M548 204L541 210M541 210L545 219L545 227M564 231L566 238L568 244M568 244L561 248M545 248L546 240L543 228M545 227L543 228M539 254L534 251L526 249M526 249L530 239L531 229M543 228L538 229L531 229M567 143L560 140M551 156L553 146M560 140L553 146M572 120L566 125L558 127M560 140L559 135L558 127M565 99L556 100L552 102M558 127L551 123M552 102L550 114L551 123M608 249L603 252M588 228L586 236L585 246M603 252L593 248L585 246M568 244L575 247L580 248M580 248L585 246M544 287L545 289M531 283L524 286L518 291M518 304L533 306L545 304M545 289L544 298L545 304M549 324L551 315L549 309M549 324L544 327L537 329M545 304L549 309M622 251L622 259L625 265M625 265L619 271L613 278M603 252L604 258L603 264M613 278L608 271L603 264M647 254L639 249L635 243M647 254L647 262M625 265L632 267M647 262L640 263L632 267M649 326L657 329L667 332M649 326L640 327M667 332L664 343L662 350M641 350L641 349M640 327L641 336L641 349M627 374L625 375M625 375L619 372L614 367M610 354L614 362L614 367M610 354L620 348M641 349L629 347L620 348M584 399L587 407L593 415M584 399L583 398M593 415L589 418L582 421M566 409L573 417L582 421M566 409L567 400M583 398L575 400L567 400M584 399L594 393L601 389M601 389L598 380M588 376L598 380M588 376L584 379M583 398L581 387L584 379M570 356L576 355L586 356M570 356L570 366L569 378M586 356L589 367L588 376M584 379L577 378L569 378M549 324L556 326L560 333M532 353L540 357L549 358M549 358L556 353L561 350M561 350L563 344L562 336M560 333L562 336M549 358L550 367M561 350L570 356M569 378L561 383M550 367L555 376L561 383M567 400L563 393L559 388M559 388L561 383M527 355L526 366L527 373M550 367L543 371L535 379M527 373L535 379M646 389L637 392L628 398M640 417L629 415M629 415L630 407L628 398M601 389L607 397M625 375L622 382L620 391M614 367L608 372L598 380M607 397L614 395L620 391M628 398L620 391M732 294L732 302L728 310M732 294L735 291M739 318L747 313L754 307M739 318L733 313L728 312M735 291L742 292M728 312L728 310M732 294L722 293L714 288M714 288L712 296L705 306M728 310L716 307L705 306M778 329L777 319L774 309M778 329L772 335M759 308L760 321L757 331M769 305L774 309M757 331L765 333L772 335M701 398L708 397L713 394M694 372L703 372L712 370M712 370L712 382L713 394M700 411L706 415L713 420M713 420L720 416M720 416L717 406L715 395M715 395L713 394M667 332L675 327M675 327L682 330M686 356L689 351M682 330L685 339L689 351M646 229L653 230L659 230M647 254L652 248L660 246M660 246L659 240L659 230M664 272L653 271M664 272L668 259L671 250M647 262L653 271M660 246L667 250L671 250M655 206L657 207M659 230L666 223M657 207L662 214L666 223M671 250L683 248M683 248L684 247M684 247L676 235L666 223M666 223L666 223M695 236L693 228L687 216M695 236L695 242M695 242L688 244L684 247M666 223L677 219L687 216M687 301L691 301M687 301L682 290L675 279M691 301L696 294L700 284M700 284L698 280L694 274M694 274L684 273M675 279L684 273M673 312L679 308L687 301M673 312L673 320L675 327M701 307L702 318L701 325M701 307L691 301M682 330L694 329L701 325M712 286L700 284M712 286L714 288M701 307L705 306M674 279L671 275L664 272M674 279L675 279M683 248L682 260L684 273M614 75L610 81L604 88M614 75L612 69L609 62M604 88L598 80L589 75M600 59L609 62M600 59L593 62M589 75L590 65M593 62L590 65M630 78L624 74L614 75M606 96L604 88M624 52L615 55L609 62M583 79L589 75M601 40L600 49L600 59M579 38L588 48L593 62M564 58L577 62L590 65M780 734L786 733L792 730M780 734L779 742L781 754M804 748L800 741L798 732M804 748L795 752L789 756M792 730L798 732M781 754L789 756M756 732L763 732L773 729M773 763L781 754M773 729L780 734M812 752L804 748M818 729L807 732L798 732M805 771L797 765L789 756M743 734L735 733L727 728M716 743L716 739M727 728L721 735L716 739M692 725L697 724L706 725M716 739L712 732L706 725M773 729L773 718M773 718L779 711L785 703M792 730L795 719L799 707M785 703L792 704L799 707M604 795L605 806L606 814M629 793L628 802L630 810M630 810L622 814L613 818M582 642L576 646L567 648M581 628L574 626L571 621M567 648L561 638L559 626M559 626L566 623L571 621M582 668L571 666M567 648L565 650M565 650L567 659L571 666M570 695L563 692M563 692L562 680L563 671M571 666L563 671M566 409L560 414M582 421L578 427L577 433M560 414L559 427L560 437M560 437L567 441M577 433L574 437L567 441M593 527L587 521L579 516M593 527L593 531M593 531L587 538L583 543M568 534L567 526L569 521M579 516L569 521M548 537L547 527M547 527L552 522L558 515M569 521L562 516L558 515M770 517L777 519L784 520M770 517L770 510L767 504M767 504L773 502L783 496M788 518L784 520M788 518L791 513L791 503M791 503L783 496M763 501L765 493L764 484M763 501L767 504M784 484L783 496M807 496L799 498L791 503M803 520L808 516L813 514M803 520L796 519L788 518M701 459L691 458L686 459M701 459L700 445L697 435M686 459L678 452M678 452L680 443M680 443L684 437L691 432M691 432L697 435M706 462L702 470L703 477M706 462L701 459M703 477L692 481M692 481L682 480M682 480L686 468L686 459M671 455L678 452M663 432L669 437L680 443M687 423L691 432M713 420L708 426L706 433M706 433L697 435M720 442L726 438L730 430M720 442L722 447L723 456M723 456L729 460M744 434L739 447L733 458M744 434L737 431L730 430M733 458L729 460M727 419L720 416M727 419L730 430M706 433L712 440L720 442M706 462L716 460L723 456M703 477L708 484L716 489M716 489L723 481L729 471M729 471L729 460M755 460L745 458L733 458M748 433L744 434M748 416L741 415L735 413M735 413L727 419M756 477L749 483L743 485M729 471L737 479L743 485M677 497L687 502L695 504M673 500L672 507L674 516M674 516L684 519L693 520M693 520L695 512L695 504M692 481L695 493L697 501M697 501L695 504M715 796L709 808L706 817M610 755L621 753L633 749M610 755L610 743L612 732M612 732L620 732M620 732L628 738L632 743M632 743L633 749M633 749L633 749M606 758L610 755M621 769L628 758L633 749M601 727L612 732M630 712L625 720L620 732M648 727L640 734L632 743M646 759L639 754L633 749M578 807L573 810L568 815M578 807L589 813L596 820M581 792L580 802L578 807M732 81L729 89L730 96M753 100L742 102L732 101M732 101L730 96M749 123L741 121L733 118M732 101L732 108L733 118M709 77L712 90L712 100M730 96L722 98L712 100M695 105L702 103L707 104M707 104L712 100M712 286L716 276L716 270M735 291L733 284L732 273M732 273L725 273L716 270M694 274L701 266L709 260M716 270L709 260M695 242L702 248L709 251M709 251L709 260M745 185L742 193L739 204M745 185L737 181L729 175M729 175L722 183L718 190M718 190L718 196L721 202M739 204L727 204M721 202L727 204M695 236L705 230L714 221M690 209L687 216M690 209L701 211L713 211M713 211L714 221M689 131L694 135L699 143M689 131L680 134L675 139M699 143L695 154L689 164M672 146L675 139M672 146L679 155L682 164M682 164L688 165M688 165L689 164M656 124L667 130L675 139M688 129L689 131M654 150L661 148L672 146M667 172L676 167L682 164M755 161L746 163L736 163M747 141L739 144M739 144L737 152L736 163M729 175L728 167M718 190L709 187M709 187L707 177L706 167M706 167L714 165L721 161M721 161L728 167M745 185L756 182M756 182L756 182M736 163L728 167M716 125L709 135L702 143M716 125L721 123M721 123L726 123M726 123L727 133L727 140M727 140L724 144L718 150M702 143L710 146L718 150M693 120L704 122L716 125M699 143L702 143M707 104L716 111L721 123M733 118L726 123M739 144L734 142L727 140M721 161L718 150M706 167L697 166L689 164M700 188L691 180M700 188L696 198L690 209M691 180L682 187L676 192M690 209L684 205L677 198M676 192L677 198M709 187L700 188M688 165L692 172L691 180M690 209L690 209M721 202L713 211M665 178L671 183L676 192M657 207L668 200L677 198M508 278L514 271L520 268M508 278L505 273L499 270M499 270L502 262L504 249M520 268L515 260L515 250M515 250L508 247M508 247L504 249M529 270L520 268M509 280L508 278M526 249L515 250M510 234L510 242L508 247M510 234L518 232L525 226M531 229L525 226M541 210L536 207L528 206M525 226L521 218L521 210M521 210L528 206M540 183L533 186M528 206L529 197L533 186M549 74L545 79L539 84M552 102L543 97M539 84L543 90L543 97M553 146L544 143L537 138M551 123L543 125M537 138L540 133L543 125M543 97L535 103L529 110M529 110L528 116M543 125L537 119L528 116M529 110L523 106L516 98M516 98L508 105M528 116L519 124M519 124L511 124L506 121M508 105L505 115L506 121M549 309L556 307L562 305M560 333L570 322L579 310M562 305L572 306L579 310M578 267L584 272M578 267L570 270L564 271M584 272L586 278L587 287M564 271L563 279L565 286M565 286L567 288M567 288L576 287L585 290M587 287L585 290M580 248L581 255L578 267M603 264L595 268L584 272M559 268L564 271M613 278L613 285M613 285L601 286L587 287M545 289L556 287L565 286M562 305L563 298L567 288M579 310L584 309M585 308L587 299L585 290M585 308L584 309M632 267L633 276L634 284M653 271L650 277L645 286M645 286L634 284M613 285L615 288M634 284L623 285L615 288M607 306L611 296L615 289M607 306L596 309L585 308M615 289L615 288M604 351L598 350L592 351M604 351L604 340L605 327M592 351L589 343L584 333M605 327L595 326L589 324M589 324L584 333M610 354L604 351M586 356L592 351M562 336L573 333L584 333M584 309L585 317L589 324M638 326L629 328L622 330M638 326L637 317L635 309M635 309L635 309M635 309L622 314L612 316M622 330L618 326L611 323M612 316L611 323M640 327L638 326M620 348L620 338L622 330M607 306L612 316M615 289L625 299L635 309M605 327L611 323M517 379L521 386L524 394M527 373L521 377L517 379M647 470L639 472L630 475M634 446L633 446M630 475L629 474M629 474L624 464L620 456M633 446L626 452L620 456M739 318L743 326M757 331L751 332M743 326L751 332M797 355L790 356L779 355M796 379L786 374L775 371M775 371L779 361L779 355M770 387L772 379L772 375M775 371L772 375M799 335L793 327M793 327L787 330L778 329M772 335L772 344L774 349M779 355L774 349M735 413L734 402L735 395M715 395L722 392L732 393M735 395L732 393M757 395L754 394M735 395L746 394L754 394M636 651L642 645M626 628L633 626M642 645L644 637L643 631M633 626L643 631M655 688L663 688L670 685M665 711L676 706M670 685L678 691M678 691L676 698L676 706M687 721L687 717M676 706L680 710L687 717M726 640L728 633L727 623M726 640L732 640L739 644M747 626L748 635L748 642M747 626L738 624L729 622M739 644L748 642M729 622L727 623M733 565L743 563L752 563M733 565L730 562M730 562L729 555L729 547M729 547L740 547L752 547M752 563L752 557L752 547M818 729L810 716L806 706M799 707L804 705M806 706L804 705M806 706L815 703L825 704M785 703L783 696L778 689M778 689L779 687M779 687L787 685L797 683M797 683L805 686M804 705L806 693L805 686M779 687L776 682L774 675M797 683L796 674L791 662M774 675L779 668L781 664M781 664L791 662M757 648L748 642M757 648L755 656L754 661M739 644L738 656L733 667M754 661L743 662L733 667M715 648L719 643L726 640M715 648L714 650M714 650L716 657L718 663M718 663L725 666L732 668M733 667L732 668M706 725L709 716L714 708M687 717L692 711L699 703M714 708L705 704L699 703M678 691L685 689L694 689M699 703L697 695L694 689M691 668L703 669L715 666M691 668L694 678L695 687M715 666L713 674L710 682M710 682L701 683L695 687M630 810L637 814L643 816M652 810L646 816M550 706L551 695M561 721L556 714L550 706M563 692L555 692L551 695M554 563L554 574L553 582M547 585L553 582M574 558L573 569L575 579M575 579L567 581L557 584M557 584L553 582M542 629L550 625M550 625L550 617L550 605M546 600L550 605M559 626L550 625M571 621L570 612L573 607M573 607L568 603M568 603L557 605L550 605M547 585L545 592L546 600M568 603L563 594L557 584M544 673L549 668M549 668L549 658L547 652M541 646L547 652M563 671L557 670L549 668M565 650L556 650L547 652M542 629L543 637L541 646M663 542L668 551L673 563M663 542L655 543M655 543L651 547M670 565L673 563M670 565L662 567L653 566M653 566L651 561M651 547L650 553L651 561M758 530L759 540M758 530L751 528L744 522M729 547L727 544M727 544L734 534L738 524M752 547L759 540M744 522L738 524M763 501L753 500L747 503M758 530L765 522L770 517M744 522L747 513L747 503M743 485L742 490L739 497M747 503L739 497M663 542L669 538M669 538L677 541L688 542M673 563L680 562L689 561M689 561L689 550L688 542M733 565L737 576L738 585M730 562L722 567M734 587L738 585M734 587L724 582L716 581M716 581L717 575L722 567M615 500L623 496L630 492M615 500L617 505L622 513M622 513L627 518L635 521M630 492L639 495L649 499M649 499L646 509L646 515M635 521L643 519M643 519L646 515M653 494L649 499M630 475L630 482L630 492M674 516L670 520M670 520L656 516L646 515M655 543L650 530L643 519M669 538L670 530L670 520M485 28L479 37M794 268L790 260L785 250M794 268L804 271M804 271L810 264M810 264L811 259L808 251M808 251L799 246M799 246L791 250L785 250M779 277L785 271L794 268M779 277L775 269L771 262M771 262L775 255L781 249M781 249L785 250M823 239L817 247L808 251M825 266L818 267L810 264M801 232L801 240L799 246M781 249L778 244M787 225L781 229M778 244L779 237L781 229M802 311L798 307M802 311L804 311M804 311L813 303L822 292M798 307L798 301L794 293M794 293L799 286L805 282M805 282L814 286L822 292M793 327L796 321L802 311M774 309L784 308L798 307M820 321L812 317L804 311M772 289L776 286M776 286L785 291L794 293M776 286L779 277M804 271L805 282M756 283L757 273L754 266M732 273L738 266M738 266L745 267L754 266M771 262L766 261L757 262M757 262L754 266M756 182L758 193L759 201M739 204L747 210M747 210L752 206L759 201M780 200L773 204M781 229L774 224L766 221M766 221L771 211L773 204M759 201L766 201L773 204M510 206L509 196L509 188M510 206L521 210M533 186L526 182L518 181M518 181L509 188M516 87L525 84L532 82M516 87L513 85M513 85L511 76L510 66M532 82L530 71L525 61M525 61L517 64L510 66M539 84L532 82M516 98L516 87M528 56L525 61M508 43L502 52L498 58M498 58L505 61L510 66M479 37L482 46L483 53M498 58L491 59M483 53L491 59M510 146L508 155L509 162M510 146L516 142L523 141M533 158L529 150L529 144M533 158L525 164L516 167M516 167L509 162M529 144L523 141M537 160L533 158M537 138L529 144M518 181L517 176L516 167M496 165L502 166L509 162M496 165L499 176L500 185M500 185L509 188M519 124L522 133L523 141M477 178L480 183L484 191M477 178L477 173M484 191L491 190L500 185M496 165L491 163M477 173L482 166L491 163M644 302L644 296L646 290M644 302L651 306L657 309M646 290L654 290L664 293M664 293L666 301L668 309M657 309L668 309M645 286L646 290M635 309L644 302M649 326L651 318L657 309M674 279L668 286L664 293M673 312L668 309M529 411L536 415L539 419M529 411L531 402L531 395M531 395L539 391M545 413L539 419M545 413L544 404L545 393M545 393L539 391M524 394L531 395M535 379L539 391M560 414L555 414L545 413M559 388L554 390L545 393M621 418L612 416L606 413M621 418L620 423L620 431M620 431L616 435L610 439M600 416L606 413M600 416L599 425L601 437M601 437L610 439M629 415L621 418M607 397L608 404L606 413M633 446L625 438L620 431M620 456L619 456M619 456L613 446L610 439M593 415L600 416M577 433L588 436L597 442M597 442L601 437M597 442L597 449L595 458M619 456L612 460L604 462M604 462L595 458M689 351L698 349L708 347M701 325L710 332M708 347L709 339L710 332M728 312L721 322L717 329M743 326L735 331L729 336M729 336L721 334L717 329M717 329L710 332M610 622L612 613L615 605M615 605L624 600M633 626L634 616L631 606M624 600L631 606M691 668L688 665M714 650L704 650L697 649M718 663L715 666M688 665L693 657L697 649M716 581L711 583M722 567L714 564L708 559M695 567L702 563L708 559M695 567L696 571M711 583L705 575L696 571M670 565L669 574L671 581M653 566L650 572L648 581M648 581L649 581M671 581L660 582L649 581M805 686L806 686M806 686L817 688L824 692M791 662L795 659M806 686L810 679L815 670M795 659L805 664L815 670M778 689L770 696L760 699M774 675L765 673L760 672M760 672L757 680L750 686M750 686L755 693L760 699M773 718L767 711L760 702M760 702L760 699M754 731L750 722L746 712M760 702L754 709L746 712M597 586L591 584M597 586L603 595L608 602M608 602L602 604L593 608M588 586L591 584M588 586L586 592L583 600M593 608L583 600M615 605L608 602M607 582L597 586M607 582L615 588L625 593M624 600L625 593M597 623L596 616L593 608M583 552L589 557L596 560M575 579L582 583L588 586M596 560L592 571L591 584M573 607L576 603L583 600M628 547L627 555L628 562M628 547L624 542M621 542L624 542M621 542L611 545M611 545L606 551L602 559M602 559L610 562L614 568M614 568L626 568M626 568L628 562M651 547L638 545L628 547M651 561L639 562L628 562M635 521L630 533L624 542M610 525L616 518L622 513M610 525L614 535L621 542M593 527L597 524M597 524L604 523L610 525M593 531L602 537L611 545M596 560L602 559M607 582L610 574L614 568M625 593L628 587L633 581M633 581L631 575L626 568M633 581L643 582L648 581M558 515L555 504M555 504L544 501M544 501L536 504M538 458L544 448L547 438M547 438L543 433L538 429M538 429L530 431M524 431L530 431M560 437L556 437L547 438M539 419L538 429M567 441L569 448L570 453M595 458L589 458L582 461M582 461L574 456L570 453M542 463L555 459L565 458M542 463L538 458M570 453L565 458M542 463L545 471L545 477M545 477L545 477M545 477L554 477L560 480M565 458L562 469L560 480M738 524L733 522L727 517M739 497L732 499L727 499M727 517L727 507L727 499M716 489L717 494M727 499L717 494M697 501L704 500L713 498M717 494L713 498M695 523L704 521L710 523M695 523L693 533L690 540M690 540L702 542L714 545M712 524L710 523M712 524L714 534L719 542M719 542L714 545M693 520L695 523M713 498L710 511L710 523M688 542L690 540M689 561L695 567M708 559L711 553L714 545M727 517L721 520L712 524M727 544L719 542M747 210L750 220M766 221L760 223M750 220L760 223M778 244L770 243L762 241M760 223L760 232L762 241M757 262L757 254L754 247M762 241L754 247M510 146L503 144L497 138M491 163L488 157L488 149M488 149L494 143L497 138M506 121L496 126M497 138L496 126M708 347L714 355M729 336L732 342L734 348M734 348L725 353L714 355M751 332L748 343L743 352M734 348L743 352M712 370L714 368M732 393L733 383L733 372M733 372L724 371L714 368M714 368L716 362L714 355M673 674L676 671L682 665M673 674L666 668L658 662M682 665L676 659L673 651M673 651L665 650M665 650L661 653M658 662L661 653M670 685L673 674M695 687L694 689M688 665L682 665M650 669L658 662M686 638L678 645L673 651M686 638L690 644L697 649M642 645L650 650L661 653M715 648L707 636L702 623M727 623L721 621L716 618M702 623L709 621L716 618M686 633L690 626L695 622M686 633L686 638M702 623L695 622M729 622L733 615L735 609M735 609L728 600M728 600L723 602L715 603M716 618L717 609L715 603M728 600L730 595L734 587M711 583L708 587L708 596M715 603L708 596M695 622L691 615L689 605M708 596L700 598L689 604M689 605L689 604M696 571L690 580L682 588M689 604L684 595L682 588M671 581L677 587M682 588L677 587M735 609L744 607L754 605M738 585L748 587M754 605L753 597L748 587M784 520L784 528L785 536M759 540L765 545L771 546M785 536L780 539L771 546M736 685L738 686M736 685L728 689L719 691M738 686L739 697L736 709M719 691L718 700L716 707M716 707L722 711L728 713M728 713L736 709M760 672L756 668L754 661M732 668L734 676L736 685M750 686L744 685L738 686M710 682L714 685L719 691M746 712L736 709M714 708L716 707M727 728L726 721L728 713M579 516L581 511L580 502M555 504L563 498M563 498L573 500L580 502M545 477L544 488L544 501M560 480L563 482M563 498L565 488L563 482M582 461L580 468L579 477M563 482L570 482L579 477M741 229L739 241M741 229L731 224M739 241L731 247M731 224L719 226M719 226L719 235L720 246M720 246L731 247M750 220L744 223L741 229M754 247L745 244L739 241M727 204L728 215L731 224M738 266L735 254L731 247M714 221L719 226M709 251L720 246M481 204L481 205M481 204L491 206L503 211M481 205L480 217L484 229M502 223L494 225L485 230M502 223L500 217L503 211M485 230L484 229M484 191L484 199L481 204M510 206L503 211M510 234L505 227L502 223M753 357L755 365L758 369M753 357L744 353M744 353L738 361L735 370M735 370L743 372L750 377M758 369L750 377M772 375L766 372L758 369M774 349L762 351L753 357M743 352L744 353M733 372L735 370M754 394L753 387L750 377M654 599L660 600M654 599L650 605M660 600L667 603L673 610M650 605L651 614L654 625M673 610L669 618L665 625M654 625L662 626M662 626L665 625M649 581L651 589L654 599M677 587L667 591L660 600M631 606L642 606L650 605M689 605L681 609L673 610M643 631L647 627L654 625M686 633L678 630L665 625M665 650L662 637L662 626M752 563L758 573M771 546L776 556L779 562M758 573L768 566L779 562M748 587L751 581L757 577M758 573L757 577M587 498L585 491L584 482M587 498L595 500L603 501M584 482L595 479L605 477M603 501L610 498M610 498L608 491L608 481M608 481L605 477M579 477L584 482M580 502L587 498M597 524L599 514L603 501M604 462L605 472L605 477M615 500L610 498M629 474L619 477L608 481M475 93L481 99L487 103M475 93L479 86L479 79M499 86L491 79L487 75M499 86L494 92L493 100M493 100L487 103M487 75L479 79M513 85L505 84L499 86M491 59L489 66L487 75M508 105L499 103L493 100M496 126L491 124L485 120M485 120L484 113L487 103M485 120L480 121M803 520L803 530L805 543M785 536L792 541L799 544M805 543L799 544M757 648L765 646M781 664L777 656L771 649M765 646L771 649M774 601L766 605L758 608M774 601L783 602M783 602L782 616L780 627M758 615L764 622L771 629M758 615L758 608M771 629L780 627M754 605L758 608M757 577L763 582L769 584M769 584L771 592L774 601M747 626L751 620L758 615M765 646L769 638L771 629M817 562L813 552L810 545M810 545L816 541L824 534M805 543L810 545M819 626L812 623L802 617M819 626L813 635L808 643M802 617L796 625L791 631M791 631L794 641M808 643L798 645M798 645L794 641M818 652L812 649L808 643M771 649L784 646L794 641M780 627L791 631M795 659L795 651L798 645M802 617L800 606M815 599L805 602L800 606M783 602L790 600M790 600L800 606M791 592L797 584L801 578M791 592L785 587L780 580M780 580L780 569L781 563M801 572L792 568L786 562M801 572L801 578M781 563L786 562M817 591L808 585L801 578M790 600L791 592M769 584L776 581L780 580M779 562L781 563M799 544L793 554L786 562M817 562L809 566L801 572" stroke="#636868" fill="none"/>
<polygon points="6,706.4 11.3,701 18.3,698.5 25.3,699.3 28.8,702.8 32.4,706.4 41.1,707.2 48.2,705.5 48.2,711.6 50.8,718.7 53.5,724 62.2,726.6 71,727.5 73.7,732.7 76.3,739.8 81.6,741.5 88.6,741.5 97.4,744.1 104.4,748.5 109.7,752 115,750.3 120.2,746.8 127.3,745.9 132.5,747.7 137.8,746.8 144.8,748.5 148.4,753.8 157.1,755.6 158.9,750.3 157.1,745 160.7,741.5 155.4,736.2 151.9,729.2 150.1,723.9 153.4,712 157.1,715.7 159.6,721.9 166.9,726.8 171.9,729.3 179.3,734.2 183,739.1 190,745 197.7,751.1 206.4,756.6 214,762 238,762 240.8,757.6 237.1,753.9 232.2,752.7 228.5,746.5 222.4,742.8 215,741.6 206.4,736.7 199,737.9 194,734.2 185.4,730.5 187.9,726.8 189.1,720.6 183,715.7 187.9,710.8 191.6,704.6 199,704.6 201.4,699.7 206.4,696 203,690 199,684 194,690 190,692 184.5,690 177.5,684.5 179.2,681 186.2,681 191.5,673.9 198.5,667.8 207.3,665.1 212.6,652.8 217.9,651.1 221.4,654.6 228.4,652 239,648.5 253,647.6 260,652 268.8,651.1 279.4,652.8 288.2,649.3 295.2,652.8 304,649.3 306.8,643 309.3,629.4 313,622.8 319.1,624.5 321.6,633.1 322.8,643 326.5,649.1 331.4,655.3 335.1,659 349.9,657.7 362.2,654 369.6,649.1 377,643 375.8,631.9 381.9,638 388.1,630.6 390.6,639.3 396.7,643 389.3,646.7 386.9,649.1 399.2,648.4 411.5,648.4 417.7,644.2 423.8,646.7 430,640.5 438.6,643 448.5,640.5 454.6,644.2 452.2,649.1 443.5,646.7 433.7,647.9 436.1,650.3 448.5,654 460.8,659 473.1,665.1 474.3,656.5 480.5,659 485.4,663.9 490.3,659 497.7,652.8 495.3,659 490.3,665.1 487.9,671.3 495.3,675 502.7,677.4 507.6,679.9 502.7,682.4 497.7,683.6 505.1,691 510,697.2 513.7,703.3 515,709.5 518.7,711.4 527.3,711.9 534.7,715.6 534.7,719.3 546,715.6 550.9,709.5 558.3,704.5 568.2,700.9 560.8,699.6 570.6,694.7 579.3,684.8 583,679.9 589.1,676.2 595.3,673.8 605.1,675 612.5,675 619.9,679.9 628.5,684.8 637.2,691 642.1,699.6 647,707 654.4,711.9 656.9,719.3 658.1,726.7 666.7,731.6 671.6,739 676.6,746.4 682.7,753.8 684,761.2 693.8,757.5 700,760 703.7,768.6 708.6,776 711.1,783.4 707.4,789.5 703.7,793.2 706,806 6,806" fill="#004266"/>
<polygon points="806,560 802,572 803,590 800,610 801,628 799,646 802,660 806,672" fill="#004266"/>
<polygon points="14.8,717.8 21.8,716 30.6,719.5 38.5,722.2 35.9,726.6 28.8,730.1 21.8,726.6 16.5,723" fill="#5e504b" stroke="#000"/>
<polygon points="299.4,59.4 301.1,61.1 303.3,60.7 304.6,57.7 306.7,55.5 309.7,55.5 314.5,57.7 314.9,61.6 317.1,65.9 318.8,69.7 321.4,71 323.5,71.9 323.5,73.6 320.5,74.1 319.7,77.9 317.9,80.5 318.8,84.8 321.4,88.3 323.1,91.7 324,95.2 322.7,96.5 320.5,91.7 317.1,86.6 314.5,82.2 314.5,77.9 314.9,74.5 312.8,70.2 310.6,65.9 310.2,60.7 308.4,58.1 306.3,58.5 305.4,61.6 304.1,63.3 301.6,63.3 299.4,61.1" fill="#25405e"/>
<polygon points="368.4,260.2 374.5,258.2 384.4,265.1 394.3,272 396.2,277 389.3,273.8 379.5,267.6 370.9,263.2" fill="#25405e"/>
<polygon points="439.1,377 441.6,371.1 446,367.4 448.5,363.2 451.9,365.6 448.5,369.6 445,373.5 442.5,377.5" fill="#25405e"/>
<polygon points="604.2,306.4 605.8,306.1 607,308.3 609.2,307.6 609.5,304.6 610.7,305.8 612.9,304.6 614.4,301.5 613.5,299.6 612.2,297.2 612.9,294.1 615.3,293.5 616.2,291 613.5,289.2 612.9,287.3 614.7,286.1 616.6,287.3 617.8,289.8 619.6,289.2 619.9,286.7 621.8,286.4 622.4,289.2 621.5,291 623.9,292.2 625.8,293.5 627.6,293.2 625.5,295.9 623.3,299 620.9,300.9 619.3,303.3 616.6,303.9 616.2,307 616.6,310.1 614.1,310.7 612.2,310.4 609.8,311.9 608.2,313.8 606.4,311.9 606.1,309.5 604.2,307.9" fill="#25405e"/>
<polygon points="526.1,502.1 529.8,507 532.2,516.9 535.9,526.7 533.5,536.6 529.8,534.1 526.1,530.4 528.5,524.3 526.1,516.9 527.3,509.5" fill="#25405e"/>
<polygon points="423.8,413.4 426.8,417.1 427.5,423.2 431.2,429.4 430.7,434.3 427.5,430.6 425.1,424.5 423.8,418.3" fill="#25405e"/>
<polygon points="121.8,659 126.7,654 132.9,652.8 136.6,657.7 134.1,665.1 128,668.1 123,666.4" fill="#25405e"/>
<polygon points="140.3,707 146.4,702.1 145.2,696.7 151.4,695.9 153.8,702.1 151.4,708.2 145.2,713.2 141.5,711.9" fill="#25405e"/>
<polygon points="43,681.1 46.7,679.9 50.3,684.8 51.6,689.3 47.9,688.5 44.2,684.8" fill="#25405e"/>
<polygon points="57.7,691 60.7,684.8 63.2,692.2 65.1,699.6 72.5,703.3 79.9,704.5 84.8,707 82.4,710.7 75,708.2 66.4,705.8 61.4,700.9" fill="#25405e"/>
<polygon points="546,613.4 550.9,617.1 555.9,613.4 554.6,608.5 559.6,610.9 563.7,609.7 560.8,606 546,606" fill="#25405e"/>
<polygon points="786.2,643 783.7,655.3 788.7,662.7 786.2,672.5 789.9,679.9 792.4,689.8 794.8,699.6 792.4,709.5 787.4,714.4 783.7,721.8 785,734.1 788.7,744 794.8,748.9 792.4,753.8 786.2,751.4 783,734.1 782,721.8 785.5,711.9 790.4,707 791.9,699.6 789.4,689.8 786.9,679.9 783,672.5 785.5,663.2 780.5,655.3 783.7,643" fill="#25405e"/>
<polyline points="276,59 290.8,56.5 305.6,52.8 325.3,62.7 349.9,79.9 369.6,97.2 384.4,111.9 399.2,121.8 406.6,134.1" fill="none" stroke="#8a6f12"/>
<polyline points="473.1,6 471.9,25.7 463.2,47.9 438.6,57.7 428.7,77.4 421.4,92.2 412.7,109.5 406.6,134.1" fill="none" stroke="#8a6f12"/>
<polyline points="406.6,134.1 401.6,153.8 398,178.5 396.7,206" fill="none" stroke="#8a6f12"/>
<polyline points="406.6,134.1 423.8,153.8 438.6,173.5 453.4,193.2 463.2,206" fill="none" stroke="#8a6f12"/>
<polyline points="276,166.1 300.6,161.2 337.6,153.8 374.5,146.4 406.6,134.1 436.1,131.6 473.1,136.6 497.7,139 522.4,146.4 546,163.7" fill="none" stroke="#8a6f12"/>
<polyline points="374.5,111.9 391.8,100.9 414,100.9 433.7,111.9 437.4,134.1 428.7,156.3 404.1,164.9 379.5,158.7 365.9,139 374.5,111.9" fill="none" stroke="#8a6f12"/>
<polyline points="587.9,6 587.9,20.8 603.9,45.4 603.9,92.2 590.3,111.9 607.6,134.1 612.5,148.9" fill="none" stroke="#8a6f12"/>
<polyline points="546,163.7 583,163.7 612.5,148.9 649.5,148.9 659.3,141.5 698.7,116.9 743.1,94.7 782.5,79.9 805.9,71.3" fill="none" stroke="#8a6f12"/>
<polyline points="659.3,141.5 674.1,158.7 684,178.5 703.7,188.3 743.1,182.2 792.4,173.5 805.9,176" fill="none" stroke="#8a6f12"/>
<polyline points="6,256.5 35.6,254.8 67.6,247.9 104.5,235.6 134.1,225.7 163.7,223.7" fill="none" stroke="#8a6f12"/>
<polyline points="145.2,206 148.9,215.9 163.7,223.7 193.2,213.4 208,206" fill="none" stroke="#8a6f12"/>
<polyline points="163.7,223.7 168.6,255.3 173.5,287.3 176,329.2 182.2,363.7 183.4,388.3 176,406" fill="none" stroke="#8a6f12"/>
<polyline points="398,206 398,238 394.3,255.3 396.7,277.4 396.2,304.5 400.4,334.1 402.9,353.8 404.1,368.6 405.3,383.4 404.1,406" fill="none" stroke="#8a6f12"/>
<polyline points="414,366.1 433.7,346.4 455.8,329.2 473.1,304.5 490.3,272.5 497.7,250.3 505.1,238 522.4,238 534.7,247.9 537.1,267.6 546,287.3" fill="none" stroke="#8a6f12"/>
<polyline points="414,368.6 448.5,362.4 480.5,363.7 512.5,356.3 546,351.4" fill="none" stroke="#8a6f12"/>
<polyline points="470.6,206 480.5,223.2 497.7,235.6 522.4,230.6 546,220.8" fill="none" stroke="#8a6f12"/>
<polyline points="404.1,378.5 384.4,393.2 362.2,400.6 340.1,406" fill="none" stroke="#8a6f12"/>
<polyline points="546,294.7 560.8,321.8 578,344 583,353.8 595.3,383.4 610.1,406" fill="none" stroke="#8a6f12"/>
<polyline points="546,353.8 583,353.8 627.3,363.7 674.1,368.6 718.5,373.5 755.4,368.6 805.9,344" fill="none" stroke="#8a6f12"/>
<polyline points="583,353.8 607.6,324.3 644.5,304.5 693.8,267.6 755.4,245.4 805.9,220.8" fill="none" stroke="#8a6f12"/>
<polyline points="583,353.8 570.6,378.5 555.9,406" fill="none" stroke="#8a6f12"/>
<polyline points="555.9,299.6 570.6,321.8 583,353.8" fill="none" stroke="#8a6f12"/>
<polyline points="725.8,206 743.1,225.7 760.3,255.3 762.8,279.9 782.5,309.5 805.9,304.5" fill="none" stroke="#8a6f12"/>
<polyline points="6,460.2 43,463.9 79.9,472.5 99.6,475 134.1,473 148.9,479.9 178.5,478.7 215.4,476.2 252.4,473.8 276,468.8" fill="none" stroke="#8a6f12"/>
<polyline points="176,406 163.7,430.6 160,455.3 151.4,477.4 139,504.5 132.9,529.2 129.2,566.1 126.7,606" fill="none" stroke="#8a6f12"/>
<polyline points="257.3,475 245,504.5 232.7,529.2 217.9,548.9 215.4,573.5 208,598.2 204.3,606" fill="none" stroke="#8a6f12"/>
<polyline points="433.7,467.6 463.2,471.3 490.3,462.7 510,450.3 524.8,428.2 546,408.5" fill="none" stroke="#8a6f12"/>
<polyline points="404.1,406 410.3,420.8 422.6,438 433.7,460.2 438.6,470.5 433.7,484.8 421.4,509.5 399.2,544 379.5,566.1 349.9,588.3 310.5,606" fill="none" stroke="#8a6f12"/>
<polyline points="341.3,406 320.3,428.2 300.6,447.9 283.4,465.1 276,468.8" fill="none" stroke="#8a6f12"/>
<polyline points="612.5,406 627.3,420.8 633.5,435.6 629.8,467.6 631,504.5 639.6,529.2 649.5,553.8 656.9,590.8 660.6,606" fill="none" stroke="#8a6f12"/>
<polyline points="637.2,428.2 649.5,443 681.5,459 718.5,466.4 762.8,473.8 797.3,486.1 805.9,493.5" fill="none" stroke="#8a6f12"/>
<polyline points="805.9,536.6 799.8,558.7 789.9,583.4 785,606" fill="none" stroke="#8a6f12"/>
<polyline points="6,661.4 15.9,659 43,649.1 67.6,643 104.5,640.5 144,641.7 178.5,655.3 193.2,654 210.5,650.3 242.5,643 276,643" fill="none" stroke="#8a6f12"/>
<polyline points="6,615.9 13.4,630.6 15.9,659" fill="none" stroke="#8a6f12"/>
<polyline points="126.7,606 126.7,625.7 131.6,645.4 134.1,667.6 132.9,675" fill="none" stroke="#8a6f12"/>
<polyline points="92.2,652.8 97.2,665.1 111.9,672.5 132.9,675 158.7,684.8 178.5,655.3" fill="none" stroke="#8a6f12"/>
<polyline points="203.1,606 198.2,625.7 188.3,643 184.6,655.3" fill="none" stroke="#8a6f12"/>
<polyline points="276,643 290.8,638 305.6,625.7 320.3,623.7 340.1,626.9 357.3,631.9 374.5,638 384.4,635.6 404.1,622 423.8,617.1 443.5,616.3 460.8,620.8 480.5,615.4 515,615.9 546,625.7" fill="none" stroke="#8a6f12"/>
<polyline points="308,606 305.6,625.7" fill="none" stroke="#8a6f12"/>
<polyline points="546,626.9 583,638 632.2,643 674.1,651.6 713.5,661.4 755.4,659 782.5,655.3 805.9,655.3" fill="none" stroke="#8a6f12"/>
<polyline points="661.8,606 674.1,625.7 693.8,645.4 713.5,661.4 723.4,704.5 743.1,734.1 750.5,773.5 755.4,792" fill="none" stroke="#8a6f12"/>
<polyline points="785,606 789.9,630.6 780,650.3 782.5,662.7 799.8,675 805.9,694.7" fill="none" stroke="#8a6f12"/>
<polyline points="6,706.4 11.3,701 18.3,698.5 25.3,699.3 28.8,702.8 32.4,706.4 41.1,707.2 48.2,705.5 48.2,711.6 50.8,718.7 53.5,724 62.2,726.6 71,727.5 73.7,732.7 76.3,739.8 81.6,741.5 88.6,741.5 97.4,744.1 104.4,748.5 109.7,752 115,750.3 120.2,746.8 127.3,745.9 132.5,747.7 137.8,746.8 144.8,748.5 148.4,753.8 157.1,755.6 158.9,750.3 157.1,745 160.7,741.5 155.4,736.2 151.9,729.2 150.1,723.9 153.4,712 157.1,715.7 159.6,721.9 166.9,726.8 171.9,729.3 179.3,734.2 183,739.1 190,745 197.7,751.1 206.4,756.6 214,762 238,762 240.8,757.6 237.1,753.9 232.2,752.7 228.5,746.5 222.4,742.8 215,741.6 206.4,736.7 199,737.9 194,734.2 185.4,730.5 187.9,726.8 189.1,720.6 183,715.7 187.9,710.8 191.6,704.6 199,704.6 201.4,699.7 206.4,696 203,690 199,684 194,690 190,692 184.5,690 177.5,684.5 179.2,681 186.2,681 191.5,673.9 198.5,667.8 207.3,665.1 212.6,652.8 217.9,651.1 221.4,654.6 228.4,652 239,648.5 253,647.6 260,652 268.8,651.1 279.4,652.8 288.2,649.3 295.2,652.8 304,649.3 306.8,643 309.3,629.4 313,622.8 319.1,624.5 321.6,633.1 322.8,643 326.5,649.1 331.4,655.3 335.1,659 349.9,657.7 362.2,654 369.6,649.1 377,643 375.8,631.9 381.9,638 388.1,630.6 390.6,639.3 396.7,643 389.3,646.7 386.9,649.1 399.2,648.4 411.5,648.4 417.7,644.2 423.8,646.7 430,640.5 438.6,643 448.5,640.5 454.6,644.2 452.2,649.1 443.5,646.7 433.7,647.9 436.1,650.3 448.5,654 460.8,659 473.1,665.1 474.3,656.5 480.5,659 485.4,663.9 490.3,659 497.7,652.8 495.3,659 490.3,665.1 487.9,671.3 495.3,675 502.7,677.4 507.6,679.9 502.7,682.4 497.7,683.6 505.1,691 510,697.2 513.7,703.3 515,709.5 518.7,711.4 527.3,711.9 534.7,715.6 534.7,719.3 546,715.6 550.9,709.5 558.3,704.5 568.2,700.9 560.8,699.6 570.6,694.7 579.3,684.8 583,679.9 589.1,676.2 595.3,673.8 605.1,675 612.5,675 619.9,679.9 628.5,684.8 637.2,691 642.1,699.6 647,707 654.4,711.9 656.9,719.3 658.1,726.7 666.7,731.6 671.6,739 676.6,746.4 682.7,753.8 684,761.2 693.8,757.5 700,760 703.7,768.6 708.6,776 711.1,783.4 707.4,789.5 703.7,793.2 706,806" fill="none" stroke="#000"/>
<ellipse cx="204.5" cy="696" rx="8" ry="30" transform="rotate(40.7 204.5 696)" fill="#004266"/>
<path d="M202 692l-1 2l1 -2l1 0M213 698l1 0l-1 0l-1 1M204 688l1 -1l-1 1l2 -1M192 713l-2 0l1 0M192 715l1 2l-1 0l-2 -1M200 709l-1 1l1 1l-2 1M214 691l2 -2l1 2M218 680l1 2l-1 -2l2 1M195 696l2 -1l-1 -1M207 704l2 -1l1 1l1 2l-1 -1M204 691l2 2l-2 1M212 687l-1 -2l-1 -1l-1 1M189 714l1 1l-1 -2l2 0M219 688l1 -1l1 -1l1 1l-2 1M221 679l-1 -1l1 1l2 -2M205 688l-2 1l-2 -1l-1 0l-2 -2M200 691l1 0l1 1M208 687l1 1l1 1l1 -1M220 673l1 -1l1 -1l1 -2M194 702l1 -2l-1 2l-1 -2M211 692l-1 0l-1 1l-1 2M212 695l-1 2l-1 -1l2 1l1 1M195 703l-2 2l-1 -2l-1 1M195 696l-1 1l1 0l1 -2l-2 -1M208 697l-1 -2l-1 0l-1 1M221 683l1 -1l1 1l1 1M210 689l2 -1l1 -2M202 699l-1 -2l1 -1M203 710l-2 0l1 1l-1 1l-1 -2M203 691l-1 0l-2 -1M195 710l1 -1l-1 1l1 2M196 710l-1 -2l-2 -2M219 678l1 1l-1 1l-2 2M218 684l1 1l1 0l2 -1l-1 0M189 719l1 0l-2 -1l-2 -2M213 676l-1 -2l-2 2l1 1l2 0M210 681l1 -1l-1 0M198 697l1 0l-1 -2l-1 -1M204 696l-2 1l-1 1l2 -1l-1 1M211 689l-1 1l1 -2M195 701l-2 1l1 -1l2 2M221 679l2 1l-1 0l2 1M207 691l2 2l1 -1l1 1l1 -2M221 682l-2 -2l-2 -1l2 0M212 696l1 -2l2 -2l2 1l2 -1M204 696l2 1l1 -2M208 690l-1 -2l-1 -1l2 -1l-1 2M213 681l-2 1l2 0l-2 1l2 2M191 715l-1 2l2 2l-1 1M205 694l1 0l2 -2M218 676l2 1l-1 1l1 1M225 673l-1 -2l1 -2l-1 1M202 707l-1 1l-1 -1l-2 1l-2 -1M215 684l-1 1l2 1l-1 -2M213 684l1 -2l-1 -2l1 2l1 1M196 704l1 0l-2 0l-2 0M223 674l-1 2l-2 2M192 709l1 1l-2 0l1 0l-2 0M198 713l2 -1l-1 0l1 1M186 713l-2 2l1 1l1 -1l2 -2M205 707l1 -1l2 0l1 -2l1 -1M195 711l-1 0l2 2l2 0M196 700l1 2l1 -2l-1 2l-1 -2M188 719l1 -1l1 0l1 1l-1 1M200 703l1 -2l-1 -1l-1 0M214 687l2 1l1 1M214 685l-1 -2l1 0l1 0M198 711l-2 0l-1 1l1 2M192 698l-1 -2l1 2M223 675l-2 -2l1 1l1 1l-1 -2M197 705l2 2l2 1M201 711l-1 -1l1 -2M211 684l2 0l1 2l1 2M211 689l1 1l-1 1l-1 -1M205 695l1 0l-1 2l-1 1M202 689l1 2l2 0M204 702l-2 0l-1 2l1 0l-1 1M206 702l-1 2l1 -1l-2 0l2 1M203 707l-1 -1l-1 1l-1 0M216 683l1 -1l-1 1l1 2l-2 1M197 710l-2 1l-1 1l-2 2M204 705l2 -2l-2 -1l-1 -1M189 719l-2 0l2 2l1 0l-1 1M204 697l-2 0l1 -2l1 -1M188 706l1 -2l-2 2l1 -1M186 708l-1 0l2 1l-2 2M190 703l-2 1l-2 1l-2 -2l-1 -1M224 674l-1 0l-1 1l-2 0M221 676l-1 -2l2 1l2 -2M206 701l2 1l1 0l1 1l-1 1M190 717l2 -1l1 -1l-1 0M194 696l1 -1l1 -1M199 702l1 1l1 0M196 711l-2 0l1 -2M193 712l-1 -1l-1 1l1 1l2 -1M223 674l-1 0l-1 1M194 707l-1 1l-1 -1l-1 -1M193 717l-1 -2l1 0l-1 1M202 688l2 1l-2 -2M210 702l1 0l-2 0l-1 -2M205 706l-2 0l1 -1l1 1M186 716l-2 2l1 2M209 686l-1 -1l-2 -1l-1 -2M210 681l-2 0l1 2l-1 -1M207 690l1 1l1 -2M190 703l2 1l-2 2l-1 1M215 681l2 0l1 -2l-1 2M206 687l-2 0l2 -1l1 2l1 -1M213 694l1 -2l-2 1l1 0M200 696l-2 1l-1 2M218 683l2 1l-1 -1l-1 0M199 706l-2 1l1 -1M185 715l1 0l-2 1M214 693l2 -1l1 1l1 -1M213 688l-2 1l1 -1l1 0M200 706l-2 1l2 -2l2 0M198 712l2 1l-1 1l-1 1M193 702l-1 -2l-2 1l1 1l-1 1M223 676l-1 1l1 -2l-2 -1l-1 1M187 708l-2 2l-1 -2M213 693l-2 1l1 2M209 695l1 2l2 -2M188 720l-1 -1l2 2l-1 -2l-1 1M213 687l1 -1l-1 1l1 -1M209 682l-1 0l-2 -1l-1 1M191 718l1 -1l-1 -2l1 -2M211 683l1 1l1 2l-2 0l1 2M222 683l-1 1l-1 1l-1 0M199 701l-1 1l2 -2l-1 1M188 715l2 -2l2 -2l-1 -1M188 713l1 0l-2 -1l1 -1l1 2M205 699l-1 -2l1 0l1 -1M196 700l-1 0l1 1l-1 -1M209 703l1 -2l-2 2l-1 2M218 682l-2 -2l2 1l-1 1M212 681l-1 -1l-2 -2l-2 1l-2 1M198 706l-2 1l1 2M210 695l1 1l2 1l2 2M192 701l-2 0l2 -2l2 1M206 694l2 1l-2 2l2 1l-1 -1M208 699l-2 0l2 2M211 695l-1 2l1 2M192 699l-1 2l-1 -2l1 -2M191 718l-1 2l-1 -1l1 0M209 684l1 1l2 -2l-2 1l2 -1M206 687l1 1l1 -2l1 -1M203 700l1 -1l-1 -1M208 692l2 2l2 -2l2 -2M210 690l-1 1l2 -2l2 1M201 705l-2 -2l2 -2M221 681l1 -2l-1 -2l2 -1M192 708l-2 0l-1 0l-2 2M224 674l-1 1l2 -2l1 -2l1 1M217 683l1 1l-1 2M210 692l-1 1l-2 1l-1 0M225 673l-1 1l-2 1M220 674l1 0l1 0l1 -1l-1 -1M211 694l-2 2l-2 1l2 1M221 679l-2 1l1 2l-2 1M207 694l-1 0l1 1l1 -1M187 707l1 -1l1 1l2 1M212 683l1 -1l1 2l1 2M190 709l1 -1l-1 0l1 2M214 691l-1 0l2 1l-1 2M198 707l1 1l-1 -1l-1 0M211 696l-1 2l-2 -1M186 707l2 0l1 0l-1 -2M208 689l1 1l-2 -2l1 1M216 679l1 -2l-1 0l1 2M190 703l2 1l1 2l2 1l-1 2M222 673l2 -1l2 -2l1 1M188 711l1 -1l1 2M212 686l1 1l-2 1l1 1l2 2M211 694l-2 1l1 -2l-2 0M204 691l1 0l-2 1l1 1M192 713l2 0l1 0M188 703l2 -1l1 1l-2 2M210 698l-1 0l1 1M204 700l2 2l2 0l1 0l-2 -1M191 709l1 1l-1 -1l-1 -2M221 680l2 1l2 -1l-1 0l2 2M223 680l1 0l1 2l-1 1l-1 -1M192 710l1 2l-1 1l-2 2M217 684l-1 1l1 1l1 2M200 712l-1 1l-2 -2l1 0M212 688l2 1l-2 2l-2 -1M215 695l1 -2l1 -1l-1 -1M217 683l-1 1l1 -1l1 2M211 679l-1 1l2 -1l1 -2M218 680l1 -2l-1 1M197 705l1 -2l1 1l-1 2l1 -1M199 692l-1 0l1 2M206 684l-1 1l1 2l-2 -1l2 0M206 692l2 2l-1 -2M201 691l-2 -1l2 1l2 -1M185 712l-1 1l1 1l-1 0M195 699l-1 0l-1 1M192 702l1 0l-1 2l1 -2M193 706l-1 1l2 -2l-2 1M222 673l1 0l-2 -2M205 707l1 2l-2 1l1 1l1 1M195 714l-1 -2l2 2M194 696l2 -1l-2 1M225 675l-1 -1l-1 1M221 673l1 -2l-1 -2l1 1M216 675l1 1l1 -2M223 680l1 2l1 1l-2 -2l2 1M210 678l1 1l1 -2l-2 2M195 694l1 -2l-2 2M219 673l-1 -2l-1 1M208 703l1 2l2 -1l-2 0M222 677l2 -2l-1 2l1 2M199 691l-2 2l-2 -2l-2 -2M220 687l1 0l-1 2M211 678l1 -2l-1 0l1 2l1 1M210 687l-1 2l-1 2M219 682l-1 1l-1 0l-1 -2l1 2M220 674l1 2l-2 -1l1 0M209 679l1 1l2 1l1 -1M216 685l-1 0l-1 1M192 718l-1 -1l1 -1M185 717l-1 1l-2 1l1 1l1 -1M223 678l-1 1l-2 2l1 1M222 673l1 1l1 -2M203 689l-1 1l1 1M221 687l1 1l1 -1l-1 -1M197 706l-1 1l1 0l1 1M214 689l-1 -2l-1 2l1 -2l-1 0M208 685l-2 -2l-1 1M198 693l-1 1l-2 1l1 1M174 733l-1 -1l-1 1M170 737l2 1l1 -2l1 2M163 739l-1 0l1 -1M158 719l-1 1l-1 0l-1 2l-1 -1M174 738l-2 1l-2 -2l-1 1M164 719l-2 -2l-1 0l-2 -1l2 2M164 750l1 0l-1 0M160 743l-1 1l-1 -1l2 -2l1 2M178 725l-1 -2l1 0l2 -1M170 715l-2 2l-2 1l-1 0l-1 1M174 743l-1 2l-2 -1l2 1M162 732l-1 1l1 -1l-1 -2M165 754l-1 0l1 -2l-1 1M171 731l2 2l-1 1M159 737l-1 0l1 0l-1 -1M174 742l-2 2l-1 -1l2 -2M157 740l1 -2l1 0l-1 0M154 743l-1 1l-1 -1l-1 1M169 717l1 -2l-2 1l2 1M167 726l1 2l2 2l-1 1M166 737l2 -2l1 0l-1 0l2 1M175 742l-1 2l-1 -1l-1 1l-1 -2M172 746l-1 1l1 1M175 740l-1 2l1 1l-2 0M177 720l1 1l-2 1l1 -1l-2 -1M174 733l-1 -2l-1 0l1 -2M181 737l-1 -2l1 2l1 1M155 732l-1 -2l2 -1M172 737l1 1l-1 -2l-2 -2l1 -1M160 732l-1 2l1 1l2 1M174 751l2 1l1 1l1 -2l1 -2M168 723l-1 2l1 1l-1 1M169 731l2 0l-1 1l2 2M172 736l-2 0l1 -1l1 2M173 736l1 2l-2 -2l-2 2l1 0M177 727l1 -2l-1 -2M157 733l-1 -2l-1 0M164 729l-2 1l1 1l-1 1M171 740l1 1l-1 0l-1 2M176 743l1 2l1 -1l2 1l-1 1M164 721l1 1l1 0l-2 -1M164 743l1 1l-2 0l-1 -1l-1 1M163 745l-1 -2l-2 -1l1 -2M160 727l1 1l1 0M167 728l2 2l-1 1l-1 2M160 749l1 -2l2 2l1 0M170 718l1 -2l-2 1l1 1M174 744l1 0l1 1l-2 1M174 721l2 0l-1 0l1 1M158 731l-2 2l1 1l1 0M170 746l1 1l1 1l-1 -2M171 724l-1 -1l1 -2l-2 -2M166 755l1 0l1 1l1 1M173 719l1 1l-1 -2l1 2l-1 1M179 729l-2 1l-1 1l1 2M156 729l1 1l1 1l1 1M161 748l-1 0l-1 0M181 732l-2 2l-1 2l-1 1M174 726l1 0l1 -1l1 -1M164 738l-1 1l2 2M165 718l-2 0l2 2M153 728l-2 1l-2 2l-2 -1l-1 1M168 719l1 -1l1 1l-2 -1M174 750l-2 -2l-2 -1M177 730l1 1l-2 2l-2 2l1 0M172 743l-1 -2l-1 2l-2 1M173 739l-2 -2l-1 1l1 -2l1 -2M162 728l-1 1l-1 0M181 736l-1 1l1 0l1 -2l-1 2M157 746l1 0l1 2l1 -2M169 725l-1 0l1 -1l-2 0M160 743l1 1l-1 1l2 -2M176 732l1 -1l1 -1l1 0M161 746l2 -2l-1 -1l-1 2M172 742l1 1l1 -1l-1 0M159 749l2 1l-1 0l1 1l-1 -1M175 722l1 1l1 0l1 -1M158 743l-2 2l1 -2l1 0M166 717l2 2l1 -1M164 747l2 -1l-1 0M172 753l1 0l1 0M171 752l-1 0l-1 2M160 742l2 2l-1 0l-1 -2l-1 2M171 718l-2 2l2 2l1 -1l1 0M171 731l-2 0l1 2l-1 2M163 723l1 -1l-1 -1l1 2M175 738l1 -1l1 1l2 1M167 749l-2 -2l2 0l-2 1M164 732l2 -2l-2 0l-1 0M167 729l2 1l-1 0l1 -2l-1 1M159 739l1 -2l2 2l-1 1l2 1M175 720l-1 -2l2 1l-1 -1l1 -1M179 732l-1 -2l-1 0l-1 1M177 744l-1 2l2 1l2 1M168 745l-1 2l-1 2l-1 -1l2 -1M161 730l1 1l-1 2M161 721l1 -1l-2 2l-1 -2l-1 1M168 740l-1 -1l-2 2l-1 1M173 733l1 1l-1 0l-1 1l-2 -2M182 736l-2 2l2 0l2 1l-1 -2M158 719l-1 1l-1 -2l-1 -2l2 0M157 720l2 -1l-2 -1l2 -2M176 737l-1 0l-1 2l1 2M174 751l2 1l-1 1l-1 2M171 724l-1 1l-1 0l-1 -2M178 739l-2 -1l1 1l1 2l-1 0M158 725l2 -1l-1 -1l1 2M171 734l1 1l-1 -1M167 734l-1 0l-2 2l-2 1l2 1M170 732l2 -1l2 -1M166 736l1 -1l1 -2l1 0M157 734l1 1l1 -2l-2 2M162 720l1 1l1 0l1 2M162 726l1 2l-2 -1l-1 2M166 718l2 1l-1 1l1 1M162 743l1 0l-2 -1l-1 -1l1 2M178 748l2 -2l-1 1l2 0M165 725l-1 1l1 2l-2 2l1 1M154 727l1 -1l1 1M153 734l2 2l1 -2M155 739l-1 1l1 -2l-1 0M168 730l-2 0l-2 -2l2 1M177 731l2 -1l1 -2M157 721l2 0l-1 0M167 723l-1 -2l-1 0M156 734l2 1l-2 1l-1 -2M162 744l-2 2l-1 0M159 749l1 1l-2 -2M163 735l-1 -1l1 0l2 2M163 740l1 2l-1 1l-2 -2M164 742l-2 -2l-2 -1l1 2l2 1M159 744l2 1l1 -1l1 1M175 741l-1 -1l1 1l-2 -1M171 746l-1 1l1 1l-1 0l-2 0M159 729l-1 1l1 -2M158 722l-1 1l-1 -2l1 0M160 747l2 -2l1 -2l-1 1M159 723l-1 -1l-1 2l-2 0M176 732l1 2l-1 0l1 2M164 738l2 0l1 1l-1 -1M172 715l-1 -1l-2 2l1 1M156 740l-1 1l-2 -1l-1 2M162 752l-2 -1l1 -2l1 -1M164 747l-1 2l1 2l-2 1l-1 -1M166 746l-1 2l-1 -1M165 726l1 -1l1 0l1 2l-2 -1M167 740l1 -2l-2 -2l1 0M167 734l1 2l-2 2l-1 -2M169 747l2 1l1 1M163 724l1 -2l-2 2M157 723l-1 1l-2 -2l-1 1l2 0M178 741l-1 -2l-2 -1l-1 -1M153 731l-1 1l-1 1l2 1M171 729l-1 2l1 0l2 1M168 717l2 1l2 1l1 0M160 747l-1 0l-2 1l1 -2M160 720l-1 2l-1 1l-2 -2M163 730l1 -1l-1 1l-1 2M171 742l1 -2l-1 2l-1 1M178 733l1 1l-1 0l-2 -2M166 733l2 0l-2 -1l1 1l1 1M178 729l-2 0l-2 0l2 1M167 747l1 2l-1 0l1 -1M180 733l-1 -1l-1 0l-2 0l-2 1M172 727l2 1l1 1l-1 1M180 741l-2 1l-1 1l-1 0M162 718l-2 -1l-1 -1l1 2M159 750l2 1l-2 1l-1 2l2 2M160 742l1 -1l-1 2M166 731l1 1l2 -2l2 -2M181 741l-2 -2l1 -1M166 735l2 1l-1 2l2 1M162 735l1 -2l-1 -1l-1 2M178 743l-1 0l-2 -2M168 739l-1 -2l-1 2l-2 2M159 738l2 1l2 2l-1 1M157 742l-1 1l1 1l-1 2l-2 -1M156 722l2 1l2 1l-1 -1M165 730l2 -2l1 2M155 729l1 2l-1 1l1 -2l1 2M161 723l1 1l1 -1l2 2M173 726l1 1l-1 1M160 719l2 1l2 -1M179 727l1 2l-1 1l1 1M153 726l1 0l1 -1M154 732l2 -1l-1 2l1 -1M158 720l-1 1l-1 1M171 741l1 -2l-1 0l2 1M157 733l-1 1l-1 1M164 722l2 -1l1 -1l-2 2l-1 0M155 736l1 0l1 0l-2 1M170 750l1 -1l-1 2M153 729l-1 0l1 -2l1 2M163 735l1 0l1 0l-2 2M158 739l1 1l2 1l-1 0M168 754l1 -1l2 1l-1 -2M163 725l-2 1l1 1M157 733l-2 1l1 1M179 728l1 1l-1 -2l1 1l1 -1M153 734l2 -1l1 1l-2 2M165 747l1 -2l-2 -1l-2 1l-2 -2M153 735l1 1l-2 2l-1 2M160 752l1 -1l1 -2l2 -1l-1 0M172 754l1 0l1 0l-2 0M158 746l1 1l1 1l2 -2M164 745l1 1l-1 0l-1 -1l-2 -1M158 732l2 1l2 1l-1 0l-1 -1M155 740l2 0l-2 1M180 743l-2 0l-1 1l-1 -1M164 717l1 2l1 -1l-1 -2l-1 1M170 729l-2 1l1 -1l-2 2M155 728l-1 2l2 2l2 0l-1 1M170 728l1 -2l1 -2l-1 -2M176 731l2 1l2 1l-1 -2M172 731l1 0l-1 1l-1 2M162 732l-1 1l-1 -1l2 -1M165 737l-1 2l-1 -1l2 1l2 -2M169 743l1 0l2 1l-2 -2M169 729l2 1l1 -2l-1 1M159 750l-2 -1l1 0l-1 1l1 1M167 726l-1 -1l1 0l-2 1l1 -2M176 732l2 0l-2 -1l-1 0M160 738l-1 -2l-1 -2l2 1M155 740l-1 1l1 1M170 736l1 2l2 -1M155 745l-1 2l2 2M170 742l-1 -2l2 1M164 745l-1 -2l-1 1M166 750l1 -1l-1 1l1 -2M158 734l-1 1l1 -1l-1 -1M165 720l-2 -2l-2 -2l1 2M156 728l-2 -1l-1 0l-2 1M159 744l1 -2l-2 2l1 -1M168 751l-1 -2l1 0M170 735l-1 0l-2 1l1 -1M182 736l1 -2l-2 -1l-1 2l1 2M174 751l-1 -1l-1 2l-1 2M182 732l-2 1l1 0l-2 1l2 -2M171 751l1 -2l2 2l-1 1M175 753l-1 0l2 0l-2 2l1 2M159 728l2 1l1 2l2 -2M179 743l-1 -1l-1 1l1 1M168 750l1 2l1 2M161 716l1 -2l-1 2l2 0l2 1M175 727l-2 0l1 1l-2 -2M174 725l1 0l1 -1l-1 1l-1 -2M159 750l-1 0l-2 0M172 753l2 1l-1 -2l-1 2l2 -2M157 749l-1 0l-1 0l-1 -1l-1 1M178 721l1 0l1 1l-1 -1M166 736l-2 -1l1 1l2 0M166 718l-1 0l2 1l-2 1l1 0M153 742l-1 2l2 2l2 1M179 728l2 1l1 0M166 732l1 1l1 0M167 715l-2 0l1 -1l-2 0l-1 -1M157 727l1 -1l2 1M162 726l-1 1l-2 1l1 1M159 720l1 2l-1 2l-1 0l-1 1M164 735l-1 -1l1 -2l-1 0M193 742l-2 1l-1 1l-1 2M194 749l-1 1l-1 1l1 -2l2 0M184 741l-1 -2l-1 1l1 1l1 2M199 754l-1 0l1 1M185 735l-2 0l1 0l2 1l1 0M197 745l-2 -2l1 2l1 0l-1 1M201 749l-2 1l-2 1l2 1M202 746l-1 2l-1 2l2 2M189 737l2 0l1 1l1 0l-1 -1M191 741l2 0l-1 -1l-1 2l-2 1M193 745l1 1l1 -1l1 2M187 746l-1 -1l2 -1l1 -2M207 751l-1 -1l2 2l2 1l1 0M191 738l1 -1l-1 0l-2 0M186 735l-1 -2l2 1M206 756l-1 -2l1 2l-1 1M191 745l1 1l1 -2l-2 1l1 -2M182 738l-1 1l1 -1l-1 1M195 744l-1 -1l-2 1M189 746l2 -2l1 -2l1 1M178 734l2 -2l-1 1l-1 2M197 747l1 -1l1 1l2 2l1 1M195 751l1 -1l-1 -1M206 756l1 -1l2 2M194 748l2 -2l2 2l1 2M203 752l-2 2l2 2l2 1l-1 1M187 742l-1 0l-2 -2l2 -1M189 739l2 1l-2 0M197 749l1 -2l-1 0l1 -1l-2 1M181 735l-1 0l2 -2l-1 2M187 746l2 2l1 -1l1 -1l-1 -2M202 754l-2 -2l-2 1l-2 -1l1 1M208 752l1 1l1 1l2 -1M200 750l1 -2l-2 1l-1 -1M178 736l-2 1l2 2l-2 1l-1 1M184 734l2 2l1 2l1 1M201 755l-2 2l-1 -1l-2 1l1 2M200 745l-1 -2l-1 -2M196 747l-1 2l-2 1l2 1M201 749l1 -2l1 -2l2 -2M128 754l1 1l-1 -2l1 1M119 750l1 2l-2 1M96 749l2 -2l2 1M103 748l1 2l-1 -2M126 753l-1 -2l2 2l2 -1l2 1M141 750l1 1l-1 2M139 752l-2 0l-1 0M112 753l1 1l-1 -1l-2 -2l-2 -2M137 753l1 1l1 1l1 1M101 746l-2 -2l2 2M142 751l-2 -1l1 0l1 0l2 -1M118 753l-2 0l1 -2l-1 1M133 754l1 0l-1 -1l-2 1l1 -2M106 753l-1 -2l-1 0l-2 1M121 751l1 2l-1 0l-2 1M133 752l1 -2l2 2l1 -1M136 749l2 -1l-1 0M119 745l1 2l-2 -1l1 1M109 749l1 -1l-1 0l-2 -2M113 748l1 2l2 2l1 -1M105 747l-1 -2l-2 2l-2 1l-2 -2M111 751l2 1l2 1M112 748l-1 -2l-1 0l1 1l2 2M132 754l1 0l-1 -1M145 751l-2 -1l-1 2l-1 0M98 747l-2 -1l2 2M97 748l-2 -1l1 -2l-2 1M118 751l-2 -2l-1 -2l-1 -1M134 749l-1 0l2 0l-1 0M130 754l-1 0l1 -2l-1 2M123 752l-1 -1l2 1l-1 -2l-2 -2M104 746l-1 -2l1 1l1 -2M135 752l-2 1l-2 1l1 -1l-1 1M108 751l-1 0l1 1M119 753l-2 1l-1 1M117 746l-2 -2l1 1l-2 -1l1 -1M101 750l-2 1l-1 1M136 748l-2 1l2 0l-2 -1M113 754l-2 2l1 1M117 754l2 1l2 2M142 751l2 1l-1 2l-1 -1l1 0M116 745l2 2l-1 2l-1 -2M95 747l1 -1l-2 0M108 751l-1 2l-1 1l-1 -2M98 752l-1 1l-1 -2M97 751l2 -1l1 -1l-1 1l-1 0M138 750l-1 -2l1 -1l-1 1M116 749l-1 -1l-2 -1l1 0M102 748l-1 0l-1 1l-2 0l1 -1M143 747l1 0l-2 -1l-1 1M129 753l1 0l1 2l-1 -1l2 0M143 749l-2 1l-2 -2M125 749l-1 1l-2 1l1 0M127 746l1 -1l1 2M94 749l1 1l-1 1l-2 1M136 748l2 0l2 -1l1 0M133 749l2 2l-2 1M112 748l-2 1l1 0l2 2M145 749l-1 -1l1 -2l-1 1l1 1M146 749l-1 2l2 0l1 2M100 750l2 -1l-1 -2l-2 1M131 752l2 -2l1 1l1 0l1 1M102 753l-1 -1l1 2l-2 2l2 -1M110 751l1 2l-1 2l-1 2M96 748l-1 2l-1 -1l-2 1M94 751l-1 -2l1 1M99 752l-2 -2l-1 -2M117 750l-1 0l2 -1l-2 -2M140 753l-1 1l-1 -2l1 0M110 753l-1 0l-2 -2l-1 -1l-1 -2M124 750l-1 2l-1 0l1 1M133 753l-1 2l1 1M117 751l-2 1l-2 -2l1 -1M127 754l-1 1l-2 2l1 1l1 -1M147 750l-2 2l1 -1l-1 1M99 752l-2 -1l2 -2M121 753l1 -1l-1 -1l-1 2l-1 -1M126 752l2 2l2 2l-1 1M108 754l1 0l-2 0M138 751l-1 2l-1 1l-2 -1M107 754l2 2l1 1l-1 -2M124 751l1 1l-2 0l2 1l-1 1M109 753l2 0l1 1l2 0l1 -2M134 752l-1 -2l1 -1l-2 1M116 749l2 0l1 1M134 752l2 2l-2 -2M112 754l1 -2l2 -2l-1 -1M128 746l-1 -1l-1 1l1 2l-1 0M129 752l-2 0l2 2M135 748l1 0l1 1l2 -1M117 748l1 -2l1 0l-1 -2M117 753l1 0l-1 -1l2 2M132 747l-2 -2l-1 1l-1 -2l-1 1M124 750l-1 0l-1 0l-1 0M104 748l-2 -1l-2 2l1 2M121 746l2 -2l2 -1l-1 0M118 754l1 0l-1 -1l1 2l-1 2M126 747l-1 -1l2 2l1 2M141 748l-1 1l1 2l-1 2l-1 0M118 752l-2 -2l-1 0l-2 1M142 752l1 2l1 0l1 1M109 754l-1 0l2 0l2 0l1 -2M94 747l1 1l1 -2M136 747l-1 0l1 0l2 2M134 747l1 1l1 1M129 750l-1 1l-1 1M122 747l2 1l-2 -1l-1 2M101 751l1 -1l-1 0M140 750l1 1l1 -2l2 -1M103 748l-1 -2l2 1l-2 1M220 748l1 -2l1 2l2 -1M218 742l-1 -1l2 1l-2 1M232 754l-1 1l-1 1l2 1M236 754l2 -1l2 -1l1 0M227 753l1 -1l-1 1l2 2M232 753l-1 1l1 -2l1 -2M225 747l1 2l1 -1M225 749l1 0l1 2l-1 -1M227 753l1 1l-1 0l-1 2M228 750l1 0l-2 1l-1 -1M219 745l1 0l1 1l-1 1l1 1M230 751l-1 2l1 -2M222 747l-1 0l2 2l1 2l-1 1M235 748l-2 2l1 0M219 743l1 1l-1 -1l1 2l2 2M229 743l2 0l2 1l-1 1M224 745l1 1l1 2l-1 0M234 755l1 0l1 1M222 745l-1 1l1 0M225 743l-1 1l1 1l1 0M237 754l-1 2l1 -2M226 750l-1 2l1 -2l-2 -1l-1 -2M229 746l-1 -1l-2 1l-1 -2M229 744l-1 1l1 -2M229 747l-2 2l1 2l1 1M235 755l1 -1l-1 -2l-2 -2M229 749l2 2l2 -1l-2 1M229 751l2 -1l-1 -2l1 0M223 747l1 -2l2 2l-1 -1M229 751l2 2l2 -2l1 1M222 741l1 1l-2 1l1 -2l1 2M223 748l-2 1l1 -1l1 -1M227 746l1 2l1 -2M233 748l1 1l2 2l1 0M239 752l-1 1l-1 0l-1 2M232 745l-1 2l1 0l1 0M231 754l-1 -2l1 -2l-1 1l-2 1M222 747l2 -2l-2 1l-1 -2l1 0M235 749l1 2l-1 -2l2 1l2 0M233 753l-1 -2l2 0l-1 0M801 648l1 2l2 0l1 2l-1 1M798 576l-2 2l-1 2M799 651l-1 2l1 -1l-1 1M803 621l-2 -2l-1 1M796 586l2 0l-1 1M801 631l2 -1l1 0M799 631l1 -1l-1 0l-2 -1M803 656l-2 2l1 1l1 1M801 645l-1 2l-2 2l1 -1l2 1M796 618l-1 -1l1 2l-2 1M798 657l1 1l1 0l1 0M803 635l-1 0l-2 0l1 -2M802 612l-1 1l1 1l-1 0M800 586l-2 0l1 2l-1 1l2 2M797 651l1 2l2 -1l-1 -1M798 597l2 1l-2 1l-2 -1M798 607l-1 2l-2 2M800 629l2 1l2 2l-2 0M803 624l-1 1l2 -2l1 1M798 648l-2 1l-1 -1l-1 -2M800 631l2 1l1 2l-2 -2M797 590l-2 2l-1 1l-1 1l-1 2M801 615l1 1l1 2M798 634l1 -1l-1 0l-1 1M801 629l-2 1l-2 -1l-1 1M799 608l1 1l1 -2l2 -2l-1 1M803 651l-1 0l-1 -2M802 581l-1 1l-2 -1l2 -2l1 1M800 624l-1 -2l-1 -2l-1 -2M799 626l-2 1l1 -1l2 -1M802 643l2 1l1 -1M797 596l2 -2l-1 1l-2 0M803 625l1 1l-1 -1l2 -1M796 631l-1 1l-2 2M801 645l1 -2l1 2l-1 0M799 636l-1 -2l1 1l2 1M801 620l1 -1l-1 2M803 635l-1 -1l-2 2l1 1l1 0M804 629l-1 -1l-2 1l1 -1l2 2M802 617l2 -2l-2 0M800 637l-1 -1l2 0l1 2M801 596l1 -1l-2 -1l-2 1l2 1M803 584l2 0l2 -2l-2 1M802 627l-2 0l-2 0l1 0M802 578l2 1l1 -1l-1 1l-1 1M800 596l1 1l1 -1l1 0M799 599l1 1l2 1M801 648l-2 2l2 1l-1 1M796 620l1 0l-1 1l2 -2l-1 1M798 651l-1 2l-1 1l-1 -2l-1 2M797 577l2 2l2 0l2 0l2 -2M800 626l1 -2l1 1l1 2M802 594l-1 0l1 -2l2 2M800 579l-1 0l1 -2l2 -1M804 586l-1 1l-1 0l-1 2l-1 2M801 636l-1 -2l-1 -2l1 1M802 655l1 -2l-2 0l1 1M797 637l-2 1l1 -1l1 -2M800 597l-1 -1l2 -2l1 2M800 621l-1 -2l-1 2l-1 -1M796 622l-2 -2l1 0l1 2M801 602l-2 -1l-1 1l-1 1l-1 -2M801 604l-1 2l1 -1l-1 1l-1 1M798 587l-1 1l2 1l1 -2M803 624l1 1l-1 1l1 1M802 609l-1 2l1 -2M798 657l-2 -2l-2 -1M798 638l-1 2l-1 1l-1 2l-1 -2M796 612l-1 1l-1 -1l1 0M802 582l-1 -2l1 2l-1 -2M797 651l-1 0l2 -2l-1 -1M796 638l-1 1l-2 -1l2 -1M798 585l-1 -1l-1 2l1 -1l-1 2M803 625l2 1l2 -2l1 1M798 618l-2 2l-1 2l-1 0M801 581l2 1l-1 0l1 1M802 640l-1 0l-1 0M798 581l2 1l2 0l1 -1M800 584l1 -1l-2 2l-2 -2l1 1M805 624l-1 -2l-1 1l-2 -2M798 598l2 1l1 -1M801 597l1 -2l-1 0l-1 -2M801 610l-2 -1l2 0M799 590l-1 1l1 0M800 613l2 0l-1 0M804 640l1 1l-1 1l2 1l1 1M801 581l-1 0l-1 2l1 -1M802 635l-1 -2l-1 1M803 605l1 1l-2 1l2 2M799 632l1 2l2 1l-1 1M800 582l1 1l-1 -1l2 2M800 652l-1 0l-1 2M802 632l-1 1l-2 0l-1 -1M796 602l2 -1l-1 2l-2 2M797 628l-1 -2l-1 1l-1 1l-1 0M801 660l-1 -1l-2 -1l2 1l-1 -1M796 620l2 1l1 -2l-2 -1l1 -2M803 588l1 1l-1 0M797 586l2 0l-1 -2l1 -2M802 612l-1 0l1 2l-2 -2M802 574l-1 -1l-1 -2M800 660l1 -1l-1 -2l-1 1M800 638l-2 -1l-2 -2l-1 2l-2 1M799 572l-1 0l-2 0l1 1M798 584l-1 1l-2 1l1 2M797 626l-1 -1l1 1l-1 2l-2 1M801 662l1 1l-2 -2l2 0M803 595l-2 0l2 1M797 580l-1 0l1 2l2 2l-1 -1M797 582l-2 1l1 2l-1 1M798 597l-2 2l-2 0l-2 0M799 649l-2 -2l2 2l-2 0M804 621l2 -1l1 1l2 1M800 567l1 1l-1 1M803 608l-1 1l-1 0l1 2l2 1M797 641l-2 1l-2 2l1 0M802 598l1 1l-1 0l-1 1l1 -1M796 636l-2 1l-2 1l-2 -2M797 587l1 1l2 -2l-2 -2M797 634l1 0l-1 1M801 618l2 -2l-2 1l-1 1M798 612l1 0l1 -1l-1 -2l1 2M804 609l-1 1l-2 -2l-2 1l-2 1M799 578l2 1l-1 -1l1 1M803 619l-1 1l-1 2l2 1M804 637l-1 -1l-1 -2l-1 1l1 0M799 584l1 0l1 1l-1 1l1 0M804 599l-1 1l2 -1l1 -2M804 636l-1 0l2 1l-1 1M796 624l-1 2l-2 -1M796 620l-2 -1l1 1l2 1l-1 0M798 582l1 2l1 1l1 1M802 659l1 1l-2 -2l-1 2M800 572l-1 0l1 1l-1 0M796 585l1 2l-1 -1l-2 -1M803 591l-1 -2l1 -1l-1 2l1 -1M804 608l-1 -2l-1 -1l1 -2M802 607l-2 1l2 1l-2 -2l-1 1M800 622l1 2l1 1M799 601l-1 -1l-2 0l1 -2l-2 1M804 620l1 -1l1 -1l1 1l-1 0M798 627l1 1l-1 0l1 2M798 657l1 -2l-2 0l-1 2M800 565l2 0l1 1l1 1M796 624l-2 2l1 -1l-2 -1M800 573l-1 -1l-1 1l2 0M801 641l1 -2l2 -1l-2 -1l1 -2M801 618l2 1l1 -2l1 -1l-1 -2M798 601l2 1l1 1l-2 2M800 611l1 1l-1 -1M800 619l-2 1l1 2M797 615l1 1l1 0M803 616l1 1l-2 1l1 1M798 639l2 -2l1 2l1 1l1 -2M803 640l-2 1l1 2l1 0M800 612l-1 0l1 1l1 -2l-1 2M800 575l-1 1l-1 1l1 1M801 575l1 1l2 2l1 -1l1 2M796 619l2 0l2 -2M803 648l-1 -2l2 -1M801 591l-1 2l2 2l1 1l-1 1M796 589l-1 1l1 1M802 608l-1 1l-1 0l-2 1l-1 1M802 620l1 1l2 2M803 625l1 -1l-1 1l2 -2M798 606l1 -1l1 -2l-1 -1l-1 -1M801 607l-2 -1l1 2l1 0M802 612l-1 2l2 1l2 -1M802 583l-1 1l1 -1l-1 1M803 578l2 2l-2 2l-2 -1M801 571l-1 -2l2 0l2 1M801 580l-2 -2l-1 1l-1 -1l-1 -2M800 612l-2 -1l-1 1l2 -2l1 2M799 617l-1 -1l1 1l2 0M801 578l1 -2l-1 1l-1 0M800 591l1 0l-1 2l1 0M797 647l1 -2l1 1M802 595l1 -2l-1 1l2 2M802 641l1 1l-1 1M798 585l1 2l-1 0M798 624l1 1l-1 1l1 1M802 610l2 1l-2 1l2 -2M799 650l-1 -1l1 -2l1 1l2 -1M799 575l-2 2l-1 0M798 637l2 1l-1 1l-2 -1l-2 0M796 609l1 2l-1 1l1 2l-1 -1M804 600l-1 0l1 0l1 2l1 -2M804 609l2 -2l-1 -2l-1 0M801 568l1 0l1 1l1 1M804 634l2 -1l2 -2l1 -1" stroke="#000" fill="none"/>
<polyline points="310.491,664.635 325.273,662.418 340.055,659.954 354.837,656.751 369.619,653.549 384.401,650.592 399.183,648.868 413.965,648.621 428.747,649.607 443.529,652.317 458.311,657.491 473.093,664.881 485.411,673.258 497.729,683.605 506.352,692.475 512.511,702.822 514.482,710.706" fill="none" stroke="#000" stroke-width="1.6" stroke-dasharray="38 2 30 2 45 3 60 2" shape-rendering="auto"/>
<path d="M259 661h9M274 663h8M287 662h10M224 660l8 1" fill="none" stroke="#000"/>
<path d="M249.8 679C257 690 254 705 243.5 715S232 728 224.5 731" fill="none" stroke="#000" stroke-dasharray="3 3 1 2 4 3"/>
<polyline points="6,105 153.8,105" fill="none" stroke="#000"/>
<polyline points="153.8,105 156.8,111.9 151.8,121.3 154.3,129.2 145.2,141 139,149.4 187.1,149.4" fill="none" stroke="#000"/>
<polyline points="201.9,105 276,105" fill="none" stroke="#000"/>
<polyline points="201.9,6 203.1,10.9 206.8,17.1 208.5,25.7 203.8,35.1 206,43 211,52.8 217.4,56.5 222.8,59" fill="none" stroke="#000"/>
<polyline points="222.8,59 224.8,52.8 229,46.7 235.1,41.7 242.5,39.3 251.1,41 259.8,45.4 267.1,50.3 276,54" fill="none" stroke="#000"/>
<polyline points="221.6,60.6 222.8,61.9 225.8,60.9 227.7,61.3 230.5,62.4 229.1,64.6 228.7,66.5 228.4,68.3 229.8,69.4 231,70.3 231.7,72.4 231.1,73.9 229.6,75 227.9,76 227.2,77.4 226,79.7 228,81.1 230.1,82.4 231.3,84 230.2,85.9 228.8,86.9 227.2,87.3 225.9,88.3 224.5,89.2 223.5,90.9 222.3,92.2 220.9,93.2 219,92.7 217,92.2 215.5,92.7 214.4,94.2 214.2,95 214.5,96.8 213.1,98.3 213.4,100.1 211.3,101.4 212.7,101.1 210.5,100.8 208.5,100.5 206.3,100.5 203.7,100.9 204.9,99.2 202.6,99.3 199.9,99.2 197.8,99.6 197.5,102.9 199,104.4 200.1,105.9 202.9,107 201.4,109.1 201.1,111.3 201.2,113.3 201.2,113.1 201.7,115.5 201.8,117.6 201.3,119.3 200.1,120.6 198.4,121.4 195.7,121.1 194.7,122.4 193.3,123.4 193.4,125.7 194.6,128.4 192.8,129.6 190.5,130.4 188.3,132.3 188.6,134.1 188.6,135.8 191.8,137 191.9,137.9 192.9,139.4 193,141.8 193.1,144.1 194.5,142.3 194.4,144.8 194.1,147 193.1,148.2 191.5,148.5 189.1,148.2 186.9,149.4 186.1,151.2 185.6,154.1 187.7,155.4 189.9,156.7 190,158.4 188.6,160.3 187,162.3 187.2,162.1 187.5,164.9 187.4,167.2 186.9,169.2 184.3,169.1 181.6,168.3 180.2,169.5 179.2,171.1 178.7,173.6 178.9,173.2 177.5,175.2 176.8,177.2 175.4,179.3 176,179.2 175.9,181.7 175.3,183.7 174.2,185.1 173.1,186.5 171.4,187.2 169.4,187.7 167.2,187.9 165.7,188.7 165.9,190.7 165.9,192.6 166.1,194.7 164.8,196 163.5,196.8 161.7,196.9 159.1,196 158.4,197.6 158.3,200.1 157.7,201.1 157.7,202.9 155.1,203.2 153.3,203.9 153.8,206" fill="none" stroke="#000"/>
<polyline points="276,54 280.4,50.8 283.4,43 278,33.6 285.9,24.7 300.6,19.8 309.3,14.4 306.1,6" fill="none" stroke="#000"/>
<polyline points="276,105 311.7,104.5 312.5,97.2 309.3,89.8 325.3,91.7 374.5,91.2 421.4,90.7 473.1,92.7 546,94.2" fill="none" stroke="#000"/>
<polyline points="546,95.9 635.9,97.2 718.5,95.7 787.4,94.2 805.9,97.6" fill="none" stroke="#000"/>
<polyline points="635.9,96.7 654.4,87.8 676.6,82.4 682,75 696.3,67.6 700.2,59 708.6,49.4 723.4,43 743.1,33.6 755.4,21.3 764,14.6" fill="none" stroke="#000"/>
<polyline points="764,14.6 760.8,9.9 751.7,7.5 748.5,6" fill="none" stroke="#000"/>
<polyline points="764,14.6 767.7,25.7 780,38 789.9,42 805.9,34.6" fill="none" stroke="#000"/>
<polyline points="786.7,93.9 786.3,95.6 785.6,97.2 785.4,98.9 785.4,100.8 784.8,102.2 784.1,103.8 783.4,105.3 782.6,106.9 782.1,108.5 782.1,110.2 782.5,111.9 783.2,113.6 783.2,115.3 783.3,117 783,118.7 781.3,117.9 779.5,117.4 777.5,117.3 776.6,118.8 775.6,120.1 774.4,121.2 772.8,121.8 771,122.7 770.1,124.2 769.6,125.9 769.4,127.8 768.3,129.1 767.3,130.6 765.6,131.4 764,132.3 762.8,133.5 761.7,134.9 760.9,136.5 760,138.1 758.3,139.9 756.7,139.5 755.1,139.2 753.4,138.6 751.8,138.1 750.3,137.1 748.8,137.3 747.2,137.4 745.6,137.3 743.9,137.4 742.7,136.3 741.6,135.1 740.2,134.4 738.1,133.5 737.3,134.9 736.6,136.4 736.1,138.1 734.7,138.9 733.2,139.6 731.6,140.2 730.2,141 729.8,142.8 729,144.3 728.2,145.9 726.9,146.9 725.1,147.3 723.6,148.1 722,148.8 720.8,150 720.1,151.7 718.1,153.1 717.5,151.6 717.6,149.9 717.7,148.1 717.5,146.5 716,145.3 714.3,145.5 712.6,145.5 711,145 709.3,143.7 707.6,144.5 706.8,146.2 706.1,147.9 705.3,149.5 704.1,151 702.3,151.2 700.8,151.7 699.3,152.3 698.1,153.4 697,154.6 695.8,155.7 695.2,156.6 694.3,158 692.9,159.1 692.1,160.5 691.8,162.1 691.8,163.6 690.4,164.6 688.9,165.3 687.3,165.8 685.6,166.1 683.8,166 682.2,166.5 680.8,167.5 679.6,168.7 678.4,169.9 677.3,171.1 675.6,171.4 673.8,171.5 672.2,171.9 671.2,173.4 670.2,174.8 668.9,175.7 667.3,176.1 665.7,176.5 664.1,176.7 662.8,177.7 661.6,178.7 660.6,180.2 659.3,181.1 657.4,180.9 655.8,181.4 654.4,182.1 653.6,183.5 652.7,184.9 651.6,186.1 650.3,186.8 648.6,187.2 647.5,187.8 645.9,187.9 644.4,188.3 642.9,189.6 641.3,189.8 639.7,189.3 638.1,188.6 636.5,188.2 634.9,188.8 633.4,189.1 631.8,189.4 630.4,190 629,191 627.4,191.6 625.7,191.9 623.9,191.8 622.2,192 620.9,193.2 619.6,194.5 618.4,195.2 617,196.3 615.2,196.9 613.5,197.7 612.6,199.2 612.2,200.7 611.9,202.5 611.2,204.3 610.5,206" fill="none" stroke="#000"/>
<polyline points="156.8,206 153.8,213.4 160,220.8 159.2,226.9 151.8,229.4 147.7,234.3 142.7,238" fill="none" stroke="#000"/>
<polyline points="142.7,238 276,238" fill="none" stroke="#000"/>
<polyline points="141.9,238.5 142.8,239.9 144.8,240.7 147.2,241.3 146.7,243.6 146.4,244.9 144.6,245.6 143.6,247.1 143.5,249.6 142.7,251.3 140.1,252.4 139.2,250.7 138.1,249.5 136.9,248.4 135.1,248.6 133,249.7 134.5,247 133.4,249.3 133,251.2 132,253.5 133.8,252.3 132.8,254.1 131.9,256.2 130.5,257 129.4,258.5 127.2,257.1 124.7,258.1 125,259.7 126.5,260.8 128.6,261.6 129.3,263 128.8,264.9 127.8,264.7 127.3,266.5 126.5,268 127,270.9 125.4,271.4 124.9,271 122.9,273.1 122,275 123.8,276.5 124.9,278.1 126.3,280.3 125.8,281.9 123.6,283 122.8,284.5 120.9,285.7 121.5,287.5 122.6,289.5 122.5,292.2 121.3,293.4 118.6,291.6 116.8,291.7 115.5,292.5 114.2,294.7 115.3,296.3 117,298 115.4,300.9 113.8,301 111.7,299.9 110.2,300.2 108.6,300.3 107.6,302 106.8,304.1 106.1,303.8 105.6,305.4 103.5,306.8 101.5,308.1 101.9,309.9 104.2,311.1 102.1,311.3 99.8,311.6 99.1,310.1 99.1,307.6 96,307.4 96.9,308.9 97.9,310.4 99.5,311.8 100.8,313.2 101.1,314.9 99.3,316.6 98.5,318 96.6,319 97,320.8 99,323.1 98.6,325.8 97.4,327.2 95.1,326.9 92.4,326 91.1,327.2 89.7,328.9 89.9,330.8 90.6,332.8 89.8,334.2 87.8,335.1 85.8,337.4 86.5,338.8 88.5,339.6 90.9,340.1 91.6,341.5 92,343.1 91.5,345.3 92.5,344.7 90.8,344.8 89.3,345.5 87.9,347.6 86.5,349.1 84.8,348.5 82.9,347.2 79.2,349.3 81,350.3 83,351.1 85.5,351.6 87.2,352.6 86.3,355.8 84.6,354 83,353 81.6,355.3 80.3,357.5 78.8,358.1 77.1,356.6 74.7,356.6 73.5,358.8 75.5,360 78.1,360.9 79.8,362.1 79.5,364.1 78.3,365.9 76.2,366.7 76.1,368.3 77.1,370.3 78.1,372.3 76.9,373.5 75.9,374.7 75,377 76.6,377.1 78.2,376.7 79.8,375.5 81.5,374.3 83.1,374.6 84.7,375.3 85.7,375.7 83.1,376.2 83.5,378.3 84.7,380.8 85.1,382.9 83,383.5 81.5,385.2 80.3,386.9 80,388.7 81.4,390.8 83.6,390.5 84.8,391.6 85.9,392.6 84.9,394 84.1,395.4 83,396.6 84.3,398.9 84.5,400.6 84.9,402.6 82.6,403.5 80.4,403.5 78.5,404.1 77.4,406" fill="none" stroke="#000"/>
<polyline points="276,238 299.4,237.5 335.1,238 399.2,238.5 446,238 492.8,238.8 546,238.5" fill="none" stroke="#000"/>
<polyline points="299.4,237.5 301.9,243 307.3,248.4 306.8,255.3 303.1,287.3 299.4,324.3 294.5,366.1 290.3,406" fill="none" stroke="#000"/>
<polyline points="492.8,238.8 499,279.9 506.4,321.8 513.7,363.7 519.9,406" fill="none" stroke="#000"/>
<polyline points="546,238.5 588.4,238.5 589.4,228.2 589.9,215.9 599,215.4 607.6,210.9 610.5,206" fill="none" stroke="#000"/>
<polyline points="588.4,238.5 632.2,238 674.1,237.5" fill="none" stroke="#000"/>
<polyline points="674.1,237.5 684,235.1 691.4,233.1 700,230.1 708.6,228.2 718.5,224.5 730.8,220.8 743.1,220.3 805.9,222.8" fill="none" stroke="#000"/>
<polyline points="673.7,237.2 672.2,238.1 672,239.9 671.5,241.5 670.9,243 669.7,244.1 668,244.9 666.7,245.9 666.5,247.9 667,249.6 666.6,251.2 666,252.7 664.6,254.1 664.3,255.7 664.7,257.4 665,258.6 666,259.8 666.2,261.5 666.4,263.2 667,264.6 667.5,266.1 668.3,267.5 669.8,268.4 671.2,269.4 671.8,270.8 672.3,272.4 672.6,274.2 673.7,275.3 675.1,276.1 676.6,276.7 678.1,277.2 679.8,277.7 680.5,279.3 681.4,280.7 682.4,281.9 683.9,282.7 685.7,282.6 687.3,282.9 689.1,282.6 690.6,283.9 692.1,284.7 692.9,285.4 694.5,286.3 696.1,287.3 697.2,288.6 697.4,290.4 697.6,292.3 698.6,293.6 699.8,294.8 701.5,295.7 702.1,297.2 702.5,298.7 702.9,300.2 703.2,301.9 703.2,303.6 704.5,304.7 705.2,306 706.3,307.2 706.9,308.6 707.4,310 707.6,311.6 707.1,313.3 708,314.8 709.3,315.8 710.5,317 711.9,318 712.4,319.6 712.8,321.2 713.3,322.7 713.9,324.2 714.9,325.5 716.1,326.6 717.3,328 718.3,329.5 718.9,331.2 719,333.2 720.7,334.5 722.3,334.9 724,335.1 725.2,336.2 726.5,337.1 727.6,338.4 728.7,339.8 730,340.6 731.8,340.7 733.5,341.2 734.8,342.1 735.5,343.6 736.1,345.2 736.9,346.6 738.7,347 740.1,347.8 741.2,348.9 742.3,350 743,351.5 743.6,353 744.3,354.3 745.7,355.2 747,356.1 748.5,356.9 748.9,358.6 749.6,359.9 750,361.8 751.3,362.7 752.9,363.2 754.6,363.4 756,364.2 756.6,365.8 757.5,367.2 758.7,368.1 759.6,369.2 761.3,369.9 762.6,370.9 763.9,371.9 764.9,373.1 765.6,374.7 766,376 765.5,377.6 766.5,379.3 767.1,380.9 767.1,382.5 767,384.2 766.6,385.7 767.6,387.2 768.6,388.6 769.6,390.1 771.4,390.7 773,391.6 774.5,392.7 775.1,394.3 775.7,395.8 776.2,397.5 777.6,398.5 778.8,399.5 780.1,400.5 781.4,401.6 782.5,402.9 782.8,404.7 783.7,406" fill="none" stroke="#000"/>
<polyline points="6,415.4 78.7,415.4" fill="none" stroke="#000"/>
<polyline points="75.8,407.6 76.7,409.3 78.8,409.6 80.8,410 83.1,411.5 83,413.9 81.4,415.1 78.1,415.3 75.7,416.5 77.1,418.3 78.2,420.1 79.2,421.9 77.1,422 78.6,422.1 80.5,423 82.5,424.6 83.7,423.4 84.7,421.4 87.7,421.6 87.8,423.4 84.7,423.5 81.8,423.8 81.7,425.4 81.8,427.2 82.1,429.1 82.3,430.9 82.6,432.7 79.5,433.2 78.7,435.2 78.6,436.9 80.3,438.3 82.6,439.5 84.5,440.7 83.2,442.2 83.4,444.1 83.6,446.1 84.9,446.9 86.4,447.6 88.7,447.4 90.7,447.6 91.4,449.1 91,451.6 89,452 87.8,453.1 86.9,454.5 87.4,457 86.6,458.4 86.4,458.2 85.6,460.4 84.3,462.9 85.5,464.2 87.3,465.2 89,465.4 90.7,465.6 92.4,465.8 92.8,468.4 93.5,470.5 94.8,471.3 96,472.4 98,472.2 100.7,473.6 100.2,475.6 97.7,475.5 95.9,476.2 94.1,476.8 92.2,477.4 92.1,479.8 91.9,482 90.8,483.1 88.3,482.7 86.3,482.7 85.3,483.9 83.8,484.6 83.8,487.1 83.3,489 82.1,490 80.4,488.8 80.9,491.3 82.3,492.2 83.1,494.1 85.5,492.7 87.6,491.9 88.9,492.9 90.6,495.3 88.3,495.5 87,496.5 85.2,497 85.7,499.3 85.6,501.2 85.9,503.3 83.6,503.4 81.2,503.6 80.3,504.9 79.7,506.4 80.8,509.1 79.6,510.1 79.1,511.7 76.7,511.8 74.9,512.4 74,512.7 73.3,514.8 72.8,517.2 71.9,518.8 69.8,518.6 67.5,518.1 65.9,518.8 63.3,522.4 66,522.2 68.7,521.9 70.2,522.9 71.5,524 71.5,527.4 69.6,526.6 68,526.7 66.7,527.6 65.5,529 65.7,529.6 64.6,531 62.2,532.1 60.8,533.5 60.5,535.1 60.9,536.9 63,539 61.4,541.5 59.5,542.9 57.7,541.1 55.9,539.9 52.6,540.9 52.8,542.5 55.3,543 57.5,543.7 57.2,545.5 57.6,547 56.6,549.1 56.4,550.9 58.4,550.6 58.8,553.7 57.3,554.3 56.3,555.5 53.5,554.3 52.2,555.1 50.6,555.6 49.6,556.8 49.7,558.4 52.2,559.1 51.2,561.2 51.2,563 50.3,565 50.3,566.7 52.6,567 51.8,569.1 50.8,570.6 48.9,570.1 47.5,570.8 45.4,570 43.3,571.7 44.3,573.2 45.6,574.4 47.9,575 49.1,576.4 49.8,579.2 46.4,578.3 45.4,579.7 45,581.7 45,582.8 46.6,583.5 47.3,584.9 46.9,587.3 46.9,589.3 48.3,588.7 47.3,590.2 47.8,593.1 47,594.8 44.2,594.5" fill="none" stroke="#000"/>
<polyline points="44.2,594.5 185.8,594.5 184.6,600.6 182.2,606" fill="none" stroke="#000"/>
<polyline points="290.3,406 285.9,455.3 280.4,529.2 282.2,578.5 283.4,606" fill="none" stroke="#000"/>
<polyline points="519.1,406.2 519.8,407.6 520.2,409.1 521.1,410.6 521.7,412 521.7,413.6 521.5,415.3 521.7,416.8 521.7,418.5 523.1,419.7 523.5,421.2 523.7,422.7 523.5,424.3 523.4,425.9 524,427.3 524.8,428.7 525.8,430 526.7,431.4 526.3,433 526.2,434.7 526.5,436.3 527.5,437.7 528.5,439.1 529,440.6 529.1,442.3 528.8,444 528.9,445.9 530,447 531.2,448.2 532.5,449.4 533,450.8 533.6,452.3 534,453.9 534.2,455.5 534.8,457 535.7,458.3 537.2,459.3 538.3,460.5 539.1,461.9 538.9,463.7 539.1,465 538.5,466.7 538.3,468.5 538.5,470.3 538.6,472.1 539.1,473.1 540,474.7 541.1,476 541.8,477.7 542.8,479.2 544.4,479.8 544,481.5 543.3,482.8 541.9,483.7 540.3,484.5 539.3,485.7 538.4,486.9 538,488.5 537.4,489.9 537,491.6 536.2,493.2 534.6,494.4 533.9,496 533.8,497.9 533.5,499.6 533.8,501.3 534.3,503 533.9,504.6 533,506.2 531.8,507.7 531.9,509.4 532.5,511.1 533.1,512.8 533,514.3 533,515.9 532.4,517.4 531.9,519 532,520.5 531.9,522 533.1,523.5 533.3,525 533.7,526.5 533.1,528 532.7,529.6 532.5,531.1 533.5,532.6 534,534.1 534.5,535.7 533.5,537.4 532.7,539.1 533.5,540.7 534.3,542.3 535.2,543.9 535.1,545.6 534.7,547.2 534.3,548.8 533.2,550.2 533.5,551.9 533.6,553.6 533.7,555.2 533.6,556.8 533,558.4 532.3,559.8 531.4,561.3 530.6,562.7 530.6,564.4 531,566.1 531.4,567.8 531.2,569.5 530.7,571.1 529.6,572.6 529.5,574.3 529.8,576 530.9,577.3 531.5,578.9 531.8,580.6 532,582.3 532,584 533.1,585.4 533.8,586.9 534.7,588.3 536.1,589.6 536.4,591.1 536.5,592.8 536.1,594.6 536.3,596.2 536.9,597.7 538.3,598.9 538.9,600.4 539.9,602.1 540.2,604.1 540.8,606" fill="none" stroke="#000"/>
<polyline points="341.3,606 345,594.5 537.1,594.5" fill="none" stroke="#000"/>
<polyline points="783.7,406 792.4,409.7 797.3,415.9 799.8,425.7 804.7,430.6 805.2,443 807.1,445.4" fill="none" stroke="#000"/>
<polyline points="182.2,606 178.5,613.4 179.7,623.2 184.6,633.1 189.5,643 188.3,652.8 193.2,662.7 198.2,667.6" fill="none" stroke="#000"/>
<polyline points="283.4,606 284.6,643" fill="none" stroke="#000"/>
<polyline points="341.3,606 349.9,615.9 357.3,623.2 356.1,633.1 361,640.5 359.8,645.4 354.8,652.8" fill="none" stroke="#000"/>
<polyline points="546,620.3 644.5,625.7 743.1,631.1 745.6,640.5 748,647.9 754.2,651.6 759.1,643 757.9,630.6 756.6,618.3 762.8,610.9 769,609.7 777.6,614.6 786.2,617.1 794.8,615.9 802.2,617.1 805.9,618.3" fill="none" stroke="#000"/>
<circle cx="407" cy="407" r="160" fill="none" stroke="#cdcdcd"/><circle cx="407" cy="407" r="280" fill="none" stroke="#cdcdcd"/><circle cx="407" cy="407" r="400" fill="none" stroke="#cdcdcd"/><circle cx="407" cy="407" r="520" fill="none" stroke="#cdcdcd"/><circle cx="407" cy="407" r="40" fill="none" stroke="#e81010"/>
<rect x="398.7" y="362" width="14.6" height="10" fill="#5e504b"/><text x="406" y="371" text-anchor="middle" font-size="10" letter-spacing="0.7" fill="#ffffa8">31</text><rect x="395.55" y="242" width="20.9" height="10" fill="#5e504b"/><text x="406" y="251" text-anchor="middle" font-size="10" letter-spacing="0.7" fill="#ffffa8">125</text><rect x="395.55" y="122" width="20.9" height="10" fill="#5e504b"/><text x="406" y="131" text-anchor="middle" font-size="10" letter-spacing="0.7" fill="#ffffa8">219</text><rect x="395.55" y="2" width="20.9" height="10" fill="#5e504b"/><text x="406" y="11" text-anchor="middle" font-size="10" letter-spacing="0.7" fill="#ffffa8">313</text>
<polygon points="188.3,89.8 208,70.5 226.5,88.5 208,109.5" fill="none" stroke="#00e020" stroke-dasharray="4 3"/>
<polygon points="576.2,128.9 595.3,146.2 581.7,164 557.5,147.4" fill="none" stroke="#00e020" stroke-dasharray="4 3"/>
<polygon points="209.4,168.6 227.9,186.5 208.2,208 190.3,188.9" fill="none" stroke="#00e020" stroke-dasharray="4 3"/>
<polygon points="731.1,296.6 748.3,314.7 730.5,336.2 710.8,315.3" fill="none" stroke="#00e020" stroke-dasharray="4 3"/>
<polygon points="656,236 677,215 698,236 677,257" fill="none" stroke="#ffff00" stroke-dasharray="4 3"/>
<line x1="149" y1="129" x2="193" y2="173" stroke="#d4d4d4"/>
<line x1="149" y1="149" x2="196" y2="103" stroke="#d4d4d4"/>
<line x1="518.7" y1="88.9" x2="568" y2="137" stroke="#d4d4d4"/>
<line x1="619" y1="176" x2="716" y2="302" stroke="#d4d4d4"/>
<use href="#m" x="631.5" y="241.5" stroke="#ffb800"/><use href="#p" x="662.5" y="263.5" stroke="#f58200"/><use href="#m" x="663.5" y="263.5" stroke="#ffb800"/><use href="#m" x="630.5" y="237.5" stroke="#f58200"/><use href="#m" x="606.5" y="225.5" stroke="#ffa000"/><use href="#m" x="624.5" y="223.5" stroke="#f58200"/><use href="#m" x="633.5" y="236.5" stroke="#ffb800"/><use href="#M" x="628.5" y="232.5" stroke="#ffa000"/><use href="#p" x="613.5" y="221.5" stroke="#ffa000"/><use href="#m" x="659.5" y="263.5" stroke="#ffa000"/><use href="#m" x="667.5" y="247.5" stroke="#ffb800"/><use href="#p" x="660.5" y="248.5" stroke="#ffd800"/><use href="#m" x="646.5" y="238.5" stroke="#ffd800"/><use href="#p" x="658.5" y="244.5" stroke="#ffff00"/><use href="#m" x="652.5" y="234.5" stroke="#ffd800"/><use href="#m" x="659.5" y="283.5" stroke="#ffa000"/><use href="#m" x="653.5" y="277.5" stroke="#ffb800"/><use href="#m" x="651.5" y="277.5" stroke="#ffa000"/><use href="#p" x="643.5" y="284.5" stroke="#ffa000"/><use href="#M" x="649.5" y="282.5" stroke="#ffa000"/><use href="#p" x="654.5" y="289.5" stroke="#ffa000"/><use href="#m" x="705.5" y="317.5" stroke="#f58200"/><use href="#m" x="697.5" y="329.5" stroke="#f05a00"/><use href="#M" x="722.5" y="326.5" stroke="#f05a00"/><use href="#m" x="693.5" y="315.5" stroke="#f05a00"/><use href="#m" x="709.5" y="311.5" stroke="#f05a00"/><use href="#m" x="709.5" y="334.5" stroke="#f05a00"/><use href="#m" x="723.5" y="315.5" stroke="#f58200"/><use href="#m" x="728.5" y="332.5" stroke="#f05a00"/><use href="#p" x="709.5" y="330.5" stroke="#f05a00"/><use href="#p" x="789.5" y="287.5" stroke="#ffb800"/><use href="#m" x="775.5" y="292.5" stroke="#ffa000"/><use href="#p" x="768.5" y="272.5" stroke="#ffb800"/><use href="#M" x="789.5" y="273.5" stroke="#ffb800"/><use href="#M" x="773.5" y="287.5" stroke="#ffb800"/><use href="#p" x="240.5" y="218.5" stroke="#ffa000"/><use href="#m" x="248.5" y="215.5" stroke="#ffb800"/><use href="#m" x="220.5" y="191.5" stroke="#f58200"/><use href="#M" x="258.5" y="215.5" stroke="#ffb800"/><use href="#m" x="241.5" y="211.5" stroke="#f58200"/><use href="#p" x="228.5" y="203.5" stroke="#ffb800"/><use href="#m" x="221.5" y="197.5" stroke="#ffb800"/><use href="#p" x="240.5" y="192.5" stroke="#ffa000"/><use href="#m" x="656.5" y="208.5" stroke="#ffff00"/><use href="#m" x="664.5" y="215.5" stroke="#ffff00"/><use href="#p" x="654.5" y="220.5" stroke="#ffff00"/><use href="#p" x="661.5" y="226.5" stroke="#ffff00"/><use href="#m" x="672.5" y="226.5" stroke="#ffd800"/><use href="#m" x="681.5" y="236.5" stroke="#ffff00"/><use href="#m" x="675.5" y="242.5" stroke="#ffff00"/><use href="#p" x="666.5" y="239.5" stroke="#ffff00"/><use href="#p" x="656.5" y="240.5" stroke="#ffff00"/><use href="#p" x="649.5" y="249.5" stroke="#ffff00"/><use href="#m" x="657.5" y="249.5" stroke="#ffff00"/><use href="#p" x="624.5" y="249.5" stroke="#ffff00"/><use href="#p" x="624.5" y="237.5" stroke="#ffd800"/><use href="#m" x="646.5" y="234.5" stroke="#ffd800"/><use href="#p" x="664.5" y="259.5" stroke="#ffd800"/><use href="#m" x="671.5" y="257.5" stroke="#ffd800"/><use href="#p" x="609.5" y="221.5" stroke="#ffb800"/><use href="#m" x="611.5" y="222.5" stroke="#ffa000"/><use href="#p" x="629.5" y="220.5" stroke="#ffa000"/><use href="#m" x="629.5" y="225.5" stroke="#ffb800"/><use href="#p" x="630.5" y="228.5" stroke="#ffb800"/><use href="#p" x="607.5" y="234.5" stroke="#ffa000"/><use href="#m" x="612.5" y="233.5" stroke="#ffa000"/><use href="#m" x="611.5" y="240.5" stroke="#ffa000"/><use href="#m" x="601.5" y="243.5" stroke="#ffb800"/><use href="#p" x="615.5" y="247.5" stroke="#f58200"/><use href="#m" x="636.5" y="236.5" stroke="#ffb800"/><use href="#m" x="643.5" y="240.5" stroke="#ffb800"/><use href="#m" x="631.5" y="241.5" stroke="#ffa000"/><use href="#m" x="651.5" y="230.5" stroke="#ffa000"/><use href="#p" x="654.5" y="235.5" stroke="#ffb800"/><use href="#p" x="671.5" y="225.5" stroke="#ffd800"/><use href="#m" x="665.5" y="240.5" stroke="#ffb800"/><use href="#m" x="631.5" y="265.5" stroke="#ffd800"/><use href="#m" x="637.5" y="271.5" stroke="#f58200"/><use href="#m" x="629.5" y="274.5" stroke="#ffd800"/><use href="#m" x="626.5" y="283.5" stroke="#ffa000"/><use href="#m" x="613.5" y="289.5" stroke="#ffa000"/><use href="#p" x="650.5" y="284.5" stroke="#ffb800"/><use href="#p" x="650.5" y="293.5" stroke="#ffa000"/><use href="#p" x="663.5" y="288.5" stroke="#ffa000"/><use href="#m" x="671.5" y="278.5" stroke="#ffd800"/><use href="#m" x="676.5" y="273.5" stroke="#ffa000"/><use href="#m" x="682.5" y="268.5" stroke="#ffb800"/><use href="#p" x="663.5" y="270.5" stroke="#ffb800"/><use href="#m" x="661.5" y="276.5" stroke="#ffb800"/><use href="#m" x="659.5" y="268.5" stroke="#ffa000"/><use href="#p" x="667.5" y="272.5" stroke="#ffa000"/><use href="#m" x="656.5" y="278.5" stroke="#ffb800"/><use href="#p" x="652.5" y="275.5" stroke="#ffb800"/><use href="#p" x="668.5" y="292.5" stroke="#f58200"/><use href="#m" x="694.5" y="256.5" stroke="#ffb800"/><use href="#p" x="695.5" y="272.5" stroke="#ffa000"/><use href="#P" x="699.5" y="275.5" stroke="#ffa000"/><use href="#P" x="683.5" y="260.5" stroke="#ffb800"/><use href="#P" x="671.5" y="265.5" stroke="#ffa000"/><use href="#P" x="651.5" y="260.5" stroke="#ffa000"/><use href="#p" x="720.5" y="264.5" stroke="#ffa000"/><use href="#p" x="717.5" y="278.5" stroke="#ffb800"/><use href="#p" x="718.5" y="281.5" stroke="#ffb800"/><use href="#p" x="701.5" y="292.5" stroke="#ffb800"/><use href="#p" x="697.5" y="291.5" stroke="#ffa000"/><use href="#m" x="706.5" y="293.5" stroke="#ffa000"/><use href="#P" x="687.5" y="288.5" stroke="#f58200"/><use href="#p" x="672.5" y="217.5" stroke="#f05a00"/><use href="#p" x="683.5" y="227.5" stroke="#f05a00"/><use href="#m" x="690.5" y="236.5" stroke="#f05a00"/><use href="#p" x="688.5" y="242.5" stroke="#f05a00"/><use href="#p" x="702.5" y="239.5" stroke="#f58200"/><use href="#p" x="711.5" y="242.5" stroke="#ffa000"/><use href="#m" x="695.5" y="243.5" stroke="#f05a00"/><use href="#m" x="699.5" y="245.5" stroke="#f05a00"/><use href="#P" x="683.5" y="205.5" stroke="#f05a00"/><use href="#M" x="637.5" y="202.5" stroke="#f58200"/><use href="#M" x="641.5" y="204.5" stroke="#ffa000"/><use href="#M" x="641.5" y="207.5" stroke="#ffd800"/><use href="#M" x="649.5" y="216.5" stroke="#ffa000"/><use href="#M" x="633.5" y="221.5" stroke="#ffa000"/><use href="#M" x="611.5" y="253.5" stroke="#f58200"/><use href="#M" x="631.5" y="250.5" stroke="#ffa000"/><use href="#M" x="625.5" y="254.5" stroke="#f58200"/><use href="#M" x="634.5" y="258.5" stroke="#ffa000"/><use href="#M" x="641.5" y="254.5" stroke="#ffb800"/><use href="#M" x="644.5" y="264.5" stroke="#ffd800"/><use href="#M" x="652.5" y="259.5" stroke="#ffa000"/><use href="#M" x="624.5" y="266.5" stroke="#f58200"/><use href="#M" x="643.5" y="268.5" stroke="#ffa000"/><use href="#M" x="645.5" y="275.5" stroke="#ffa000"/><use href="#M" x="636.5" y="284.5" stroke="#ffa000"/><use href="#M" x="635.5" y="288.5" stroke="#ffa000"/><use href="#M" x="639.5" y="291.5" stroke="#ffa000"/><use href="#M" x="656.5" y="296.5" stroke="#ffd800"/><use href="#M" x="716.5" y="250.5" stroke="#ffff00"/><use href="#M" x="702.5" y="260.5" stroke="#f58200"/><use href="#M" x="691.5" y="262.5" stroke="#ffa000"/><use href="#M" x="699.5" y="267.5" stroke="#f58200"/><use href="#M" x="684.5" y="277.5" stroke="#ffb800"/><use href="#M" x="705.5" y="279.5" stroke="#ffa000"/><use href="#M" x="703.5" y="282.5" stroke="#ffa000"/><use href="#M" x="708.5" y="286.5" stroke="#f58200"/><use href="#M" x="721.5" y="272.5" stroke="#ffa000"/><use href="#M" x="716.5" y="263.5" stroke="#ffa000"/><use href="#M" x="685.5" y="272.5" stroke="#ffb800"/><use href="#m" x="625.5" y="299.5" stroke="#ffa000"/><use href="#m" x="655.5" y="296.5" stroke="#ffb800"/><use href="#m" x="660.5" y="272.5" stroke="#ffd800"/><use href="#m" x="663.5" y="278.5" stroke="#ffd800"/><use href="#m" x="668.5" y="276.5" stroke="#ffb800"/><use href="#m" x="655.5" y="271.5" stroke="#ffa000"/><use href="#p" x="670.5" y="270.5" stroke="#ffa000"/><use href="#m" x="652.5" y="236.5" stroke="#ffd800"/><use href="#p" x="659.5" y="238.5" stroke="#ffff00"/><use href="#m" x="661.5" y="235.5" stroke="#ffd800"/><use href="#p" x="651.5" y="240.5" stroke="#ffd800"/><use href="#m" x="647.5" y="236.5" stroke="#ffa000"/><use href="#m" x="656.5" y="233.5" stroke="#ffd800"/><use href="#p" x="663.5" y="236.5" stroke="#ffd800"/><use href="#m" x="668.5" y="238.5" stroke="#ffff00"/><use href="#p" x="670.5" y="241.5" stroke="#ffd800"/><use href="#m" x="661.5" y="243.5" stroke="#ffff00"/><use href="#m" x="640.5" y="235.5" stroke="#ffa000"/><use href="#p" x="635.5" y="239.5" stroke="#ffb800"/><use href="#m" x="627.5" y="235.5" stroke="#ffb800"/><use href="#p" x="619.5" y="236.5" stroke="#ffa000"/><use href="#m" x="617.5" y="240.5" stroke="#ffb800"/><use href="#p" x="608.5" y="238.5" stroke="#ffa000"/><use href="#m" x="614.5" y="229.5" stroke="#ffa000"/><use href="#m" x="606.5" y="240.5" stroke="#ffa000"/><use href="#p" x="628.5" y="230.5" stroke="#ffa000"/><use href="#m" x="633.5" y="233.5" stroke="#ffd800"/><use href="#M" x="635.5" y="246.5" stroke="#ffb800"/><use href="#M" x="629.5" y="245.5" stroke="#ffa000"/><use href="#M" x="619.5" y="251.5" stroke="#ffa000"/><use href="#M" x="646.5" y="255.5" stroke="#ffa000"/><use href="#M" x="638.5" y="264.5" stroke="#ffa000"/><use href="#M" x="647.5" y="268.5" stroke="#ffb800"/><use href="#p" x="650.5" y="265.5" stroke="#ffa000"/><use href="#m" x="654.5" y="264.5" stroke="#ffa000"/><use href="#p" x="675.5" y="268.5" stroke="#ffb800"/><use href="#m" x="678.5" y="264.5" stroke="#ffa000"/><use href="#p" x="748.5" y="259.5" stroke="#ffd800"/><use href="#m" x="745.5" y="267.5" stroke="#ffd800"/><use href="#p" x="745.5" y="272.5" stroke="#ffd800"/><use href="#m" x="761.5" y="256.5" stroke="#ffd800"/><use href="#P" x="762.5" y="252.5" stroke="#ffb800"/><use href="#p" x="770.5" y="262.5" stroke="#ffd800"/><use href="#m" x="779.5" y="266.5" stroke="#ffb800"/><use href="#m" x="778.5" y="272.5" stroke="#ffb800"/><use href="#p" x="777.5" y="277.5" stroke="#ffb800"/><use href="#p" x="792.5" y="276.5" stroke="#ffb800"/><use href="#p" x="771.5" y="285.5" stroke="#ffa000"/><use href="#m" x="773.5" y="285.5" stroke="#ffb800"/><use href="#m" x="782.5" y="285.5" stroke="#ffa000"/><use href="#p" x="784.5" y="286.5" stroke="#ffb800"/><use href="#m" x="778.5" y="292.5" stroke="#ffd800"/><use href="#p" x="780.5" y="294.5" stroke="#ffd800"/><use href="#p" x="788.5" y="293.5" stroke="#ffd800"/><use href="#p" x="782.5" y="303.5" stroke="#ffb800"/><use href="#m" x="787.5" y="304.5" stroke="#ffb800"/><use href="#m" x="792.5" y="306.5" stroke="#ffb800"/><use href="#p" x="795.5" y="306.5" stroke="#ffd800"/><use href="#P" x="798.5" y="306.5" stroke="#ffb800"/><use href="#p" x="756.5" y="296.5" stroke="#ffd800"/><use href="#m" x="765.5" y="298.5" stroke="#ffd800"/><use href="#m" x="746.5" y="306.5" stroke="#ffd800"/><use href="#m" x="753.5" y="307.5" stroke="#ffd800"/><use href="#m" x="755.5" y="309.5" stroke="#ffd800"/><use href="#m" x="766.5" y="317.5" stroke="#ffff00"/><use href="#m" x="780.5" y="315.5" stroke="#ffd800"/><use href="#m" x="779.5" y="319.5" stroke="#ffd800"/><use href="#p" x="771.5" y="323.5" stroke="#ffd800"/><use href="#p" x="772.5" y="325.5" stroke="#ffd800"/><use href="#p" x="766.5" y="327.5" stroke="#ffd800"/><use href="#p" x="753.5" y="327.5" stroke="#ffa000"/><use href="#m" x="793.5" y="343.5" stroke="#ffa000"/><use href="#M" x="796.5" y="314.5" stroke="#ffd800"/><use href="#M" x="796.5" y="322.5" stroke="#ffb800"/><use href="#M" x="771.5" y="302.5" stroke="#ffd800"/><use href="#M" x="750.5" y="294.5" stroke="#ffd800"/><use href="#M" x="749.5" y="285.5" stroke="#ffff00"/><use href="#M" x="748.5" y="289.5" stroke="#ffff00"/><use href="#M" x="747.5" y="289.5" stroke="#ffff00"/><use href="#M" x="681.5" y="270.5" stroke="#ffa000"/><use href="#m" x="694.5" y="270.5" stroke="#f58200"/><use href="#M" x="693.5" y="272.5" stroke="#f58200"/><use href="#p" x="721.5" y="281.5" stroke="#ffa000"/><use href="#M" x="717.5" y="285.5" stroke="#ffb800"/><use href="#m" x="695.5" y="291.5" stroke="#f58200"/><use href="#P" x="699.5" y="296.5" stroke="#00e6ff"/><use href="#m" x="692.5" y="299.5" stroke="#f05a00"/><use href="#m" x="711.5" y="299.5" stroke="#ffa000"/><use href="#m" x="723.5" y="299.5" stroke="#ffa000"/><use href="#M" x="722.5" y="296.5" stroke="#ffd800"/><use href="#m" x="729.5" y="301.5" stroke="#ffd800"/><use href="#m" x="734.5" y="296.5" stroke="#f58200"/><use href="#M" x="735.5" y="289.5" stroke="#f58200"/><use href="#p" x="721.5" y="307.5" stroke="#ffb800"/><use href="#M" x="704.5" y="306.5" stroke="#f05a00"/><use href="#m" x="734.5" y="309.5" stroke="#f05a00"/><use href="#m" x="739.5" y="307.5" stroke="#f05a00"/><use href="#M" x="740.5" y="311.5" stroke="#f05a00"/><use href="#p" x="698.5" y="310.5" stroke="#ffff00"/><use href="#p" x="699.5" y="319.5" stroke="#ffff00"/><use href="#p" x="687.5" y="313.5" stroke="#f58200"/><use href="#m" x="683.5" y="321.5" stroke="#f58200"/><use href="#p" x="707.5" y="321.5" stroke="#f05a00"/><use href="#M" x="718.5" y="315.5" stroke="#f05a00"/><use href="#M" x="739.5" y="316.5" stroke="#ffb800"/><use href="#P" x="745.5" y="318.5" stroke="#ffff00"/><use href="#p" x="734.5" y="324.5" stroke="#ffb800"/><use href="#M" x="729.5" y="322.5" stroke="#ffd800"/><use href="#p" x="742.5" y="325.5" stroke="#f05a00"/><use href="#p" x="731.5" y="332.5" stroke="#ffa000"/><use href="#p" x="720.5" y="334.5" stroke="#f05a00"/><use href="#p" x="690.5" y="328.5" stroke="#f05a00"/><use href="#p" x="696.5" y="336.5" stroke="#f05a00"/><use href="#m" x="708.5" y="330.5" stroke="#f05a00"/><use href="#p" x="708.5" y="330.5" stroke="#f05a00"/><use href="#p" x="702.5" y="341.5" stroke="#f05a00"/><use href="#p" x="712.5" y="344.5" stroke="#ffff00"/><use href="#m" x="729.5" y="347.5" stroke="#ffa000"/><use href="#m" x="744.5" y="346.5" stroke="#00e6ff"/><use href="#m" x="680.5" y="337.5" stroke="#f05a00"/><use href="#p" x="694.5" y="347.5" stroke="#f58200"/><use href="#M" x="681.5" y="309.5" stroke="#f58200"/><use href="#p" x="776.5" y="286.5" stroke="#ffb800"/><use href="#p" x="783.5" y="289.5" stroke="#ffb800"/><use href="#m" x="785.5" y="290.5" stroke="#ffd800"/><use href="#p" x="780.5" y="283.5" stroke="#ffb800"/><use href="#p" x="790.5" y="304.5" stroke="#ffb800"/><use href="#p" x="777.5" y="274.5" stroke="#ffb800"/><use href="#m" x="645.5" y="306.5" stroke="#ffa000"/><use href="#P" x="660.5" y="304.5" stroke="#ffa000"/><use href="#m" x="672.5" y="309.5" stroke="#f58200"/><use href="#M" x="676.5" y="309.5" stroke="#ffd800"/><use href="#M" x="678.5" y="305.5" stroke="#f58200"/><use href="#M" x="670.5" y="319.5" stroke="#ffff00"/><use href="#M" x="661.5" y="324.5" stroke="#ffff00"/><use href="#M" x="660.5" y="337.5" stroke="#f58200"/><use href="#p" x="679.5" y="337.5" stroke="#f58200"/><use href="#M" x="672.5" y="340.5" stroke="#f58200"/><use href="#M" x="673.5" y="345.5" stroke="#f05a00"/><use href="#M" x="630.5" y="317.5" stroke="#ffa000"/><use href="#p" x="683.5" y="355.5" stroke="#ffa000"/><use href="#p" x="723.5" y="363.5" stroke="#ffd800"/><use href="#M" x="683.5" y="347.5" stroke="#ffd800"/><use href="#M" x="684.5" y="349.5" stroke="#f05a00"/><use href="#m" x="187.5" y="172.5" stroke="#ffff00"/><use href="#p" x="198.5" y="172.5" stroke="#ffa000"/><use href="#m" x="195.5" y="178.5" stroke="#ffb800"/><use href="#p" x="202.5" y="178.5" stroke="#ffd800"/><use href="#p" x="205.5" y="179.5" stroke="#ffff00"/><use href="#P" x="206.5" y="182.5" stroke="#ffff00"/><use href="#m" x="210.5" y="177.5" stroke="#ffb800"/><use href="#p" x="219.5" y="172.5" stroke="#ffb800"/><use href="#m" x="224.5" y="170.5" stroke="#ffa000"/><use href="#m" x="221.5" y="177.5" stroke="#ffa000"/><use href="#p" x="182.5" y="185.5" stroke="#ffb800"/><use href="#P" x="181.5" y="185.5" stroke="#ffd800"/><use href="#m" x="198.5" y="185.5" stroke="#ffb800"/><use href="#m" x="197.5" y="192.5" stroke="#ffa000"/><use href="#m" x="204.5" y="194.5" stroke="#ffa000"/><use href="#m" x="208.5" y="195.5" stroke="#ffa000"/><use href="#m" x="211.5" y="192.5" stroke="#ffb800"/><use href="#m" x="215.5" y="190.5" stroke="#ffa000"/><use href="#m" x="218.5" y="186.5" stroke="#ffb800"/><use href="#m" x="214.5" y="194.5" stroke="#ffd800"/><use href="#m" x="224.5" y="190.5" stroke="#f58200"/><use href="#P" x="231.5" y="185.5" stroke="#f58200"/><use href="#p" x="237.5" y="180.5" stroke="#ffd800"/><use href="#P" x="248.5" y="179.5" stroke="#ffa000"/><use href="#m" x="254.5" y="182.5" stroke="#ffd800"/><use href="#m" x="245.5" y="184.5" stroke="#ffb800"/><use href="#p" x="243.5" y="189.5" stroke="#ffb800"/><use href="#m" x="246.5" y="191.5" stroke="#ffa000"/><use href="#P" x="241.5" y="187.5" stroke="#ffa000"/><use href="#m" x="259.5" y="189.5" stroke="#ffb800"/><use href="#p" x="270.5" y="170.5" stroke="#ffa000"/><use href="#m" x="269.5" y="187.5" stroke="#ffa000"/><use href="#p" x="273.5" y="187.5" stroke="#ffa000"/><use href="#m" x="286.5" y="192.5" stroke="#ffb800"/><use href="#m" x="280.5" y="200.5" stroke="#ffb800"/><use href="#p" x="275.5" y="203.5" stroke="#ffa000"/><use href="#m" x="268.5" y="201.5" stroke="#ffa000"/><use href="#m" x="261.5" y="202.5" stroke="#ffb800"/><use href="#p" x="265.5" y="206.5" stroke="#ffb800"/><use href="#p" x="266.5" y="204.5" stroke="#ffa000"/><use href="#P" x="252.5" y="197.5" stroke="#ffb800"/><use href="#M" x="254.5" y="202.5" stroke="#ffd800"/><use href="#P" x="186.5" y="201.5" stroke="#ffff00"/><use href="#p" x="192.5" y="203.5" stroke="#ffff00"/><use href="#m" x="196.5" y="201.5" stroke="#ffff00"/><use href="#p" x="194.5" y="205.5" stroke="#ffff00"/><use href="#m" x="197.5" y="208.5" stroke="#ffff00"/><use href="#p" x="201.5" y="210.5" stroke="#ffff00"/><use href="#m" x="215.5" y="201.5" stroke="#ffb800"/><use href="#m" x="222.5" y="200.5" stroke="#ffb800"/><use href="#m" x="223.5" y="204.5" stroke="#ffb800"/><use href="#m" x="226.5" y="196.5" stroke="#ffd800"/><use href="#m" x="233.5" y="195.5" stroke="#ffb800"/><use href="#m" x="234.5" y="192.5" stroke="#ffa000"/><use href="#P" x="237.5" y="199.5" stroke="#ffb800"/><use href="#m" x="231.5" y="201.5" stroke="#ffd800"/><use href="#m" x="238.5" y="203.5" stroke="#ffa000"/><use href="#m" x="242.5" y="200.5" stroke="#ffb800"/><use href="#m" x="229.5" y="208.5" stroke="#ffd800"/><use href="#p" x="222.5" y="211.5" stroke="#ffa000"/><use href="#m" x="222.5" y="216.5" stroke="#ffd800"/><use href="#p" x="226.5" y="214.5" stroke="#ffb800"/><use href="#m" x="231.5" y="211.5" stroke="#ffb800"/><use href="#m" x="236.5" y="214.5" stroke="#ffb800"/><use href="#m" x="238.5" y="209.5" stroke="#ffa000"/><use href="#m" x="243.5" y="209.5" stroke="#ffb800"/><use href="#P" x="246.5" y="207.5" stroke="#ffff00"/><use href="#M" x="248.5" y="205.5" stroke="#ffff00"/><use href="#m" x="251.5" y="211.5" stroke="#ffa000"/><use href="#m" x="246.5" y="215.5" stroke="#ffb800"/><use href="#m" x="251.5" y="216.5" stroke="#ffb800"/><use href="#m" x="256.5" y="216.5" stroke="#ffb800"/><use href="#m" x="261.5" y="216.5" stroke="#ffa000"/><use href="#P" x="233.5" y="218.5" stroke="#ffff00"/><use href="#P" x="231.5" y="223.5" stroke="#f58200"/><use href="#M" x="206.5" y="217.5" stroke="#f58200"/><use href="#p" x="196.5" y="223.5" stroke="#ffb800"/><use href="#m" x="253.5" y="225.5" stroke="#ffb800"/><use href="#m" x="251.5" y="228.5" stroke="#ffa000"/><use href="#m" x="248.5" y="230.5" stroke="#ffa000"/><use href="#p" x="250.5" y="232.5" stroke="#ffa000"/><use href="#m" x="226.5" y="228.5" stroke="#ffa000"/><use href="#m" x="222.5" y="232.5" stroke="#ffff00"/><use href="#m" x="220.5" y="234.5" stroke="#ffff00"/><use href="#p" x="236.5" y="232.5" stroke="#ffa000"/><use href="#M" x="240.5" y="231.5" stroke="#ffa000"/><use href="#p" x="233.5" y="238.5" stroke="#ffa000"/><use href="#M" x="208.5" y="234.5" stroke="#ffd800"/><use href="#m" x="258.5" y="247.5" stroke="#ffb800"/><use href="#p" x="262.5" y="248.5" stroke="#ffd800"/><use href="#P" x="271.5" y="250.5" stroke="#f58200"/><use href="#P" x="271.5" y="257.5" stroke="#ffff00"/><use href="#m" x="221.5" y="160.5" stroke="#ffa000"/><use href="#M" x="206.5" y="160.5" stroke="#f05a00"/><use href="#m" x="200.5" y="180.5" stroke="#ffd800"/><use href="#m" x="206.5" y="178.5" stroke="#ffb800"/><use href="#m" x="199.5" y="176.5" stroke="#ffb800"/><use href="#m" x="209.5" y="184.5" stroke="#ffd800"/><use href="#m" x="203.5" y="188.5" stroke="#ffb800"/><use href="#m" x="193.5" y="182.5" stroke="#ffb800"/><use href="#p" x="213.5" y="187.5" stroke="#ffb800"/><use href="#m" x="206.5" y="190.5" stroke="#ffb800"/><use href="#m" x="229.5" y="198.5" stroke="#ffa000"/><use href="#m" x="235.5" y="203.5" stroke="#ffb800"/><use href="#m" x="227.5" y="203.5" stroke="#ffd800"/><use href="#m" x="225.5" y="209.5" stroke="#ffb800"/><use href="#m" x="234.5" y="208.5" stroke="#ffa000"/><use href="#m" x="241.5" y="211.5" stroke="#ffb800"/><use href="#m" x="245.5" y="203.5" stroke="#ffb800"/><use href="#m" x="237.5" y="196.5" stroke="#ffa000"/><use href="#m" x="230.5" y="194.5" stroke="#ffb800"/><use href="#p" x="248.5" y="211.5" stroke="#ffb800"/><use href="#p" x="240.5" y="205.5" stroke="#ffb800"/><use href="#m" x="220.5" y="205.5" stroke="#ffa000"/><use href="#m" x="190.5" y="200.5" stroke="#ffff00"/><use href="#m" x="198.5" y="204.5" stroke="#ffff00"/><use href="#m" x="194.5" y="209.5" stroke="#ffd800"/><use href="#p" x="499.5" y="110.5" stroke="#ffd800"/><use href="#p" x="501.5" y="131.5" stroke="#ffd800"/><use href="#p" x="516.5" y="132.5" stroke="#ffd800"/><use href="#p" x="518.5" y="134.5" stroke="#ffd800"/><use href="#m" x="531.5" y="128.5" stroke="#ffb800"/><use href="#M" x="525.5" y="124.5" stroke="#ffd800"/><use href="#M" x="525.5" y="124.5" stroke="#ffd800"/><use href="#p" x="551.5" y="116.5" stroke="#ffa000"/><use href="#m" x="557.5" y="119.5" stroke="#f58200"/><use href="#m" x="562.5" y="115.5" stroke="#ffa000"/><use href="#m" x="566.5" y="125.5" stroke="#ffa000"/><use href="#p" x="577.5" y="126.5" stroke="#f05a00"/><use href="#m" x="590.5" y="135.5" stroke="#f05a00"/><use href="#m" x="565.5" y="135.5" stroke="#ffb800"/><use href="#M" x="560.5" y="134.5" stroke="#ffb800"/><use href="#p" x="575.5" y="143.5" stroke="#ffa000"/><use href="#M" x="554.5" y="142.5" stroke="#ffd800"/><use href="#p" x="547.5" y="147.5" stroke="#ffa000"/><use href="#M" x="550.5" y="147.5" stroke="#ffb800"/><use href="#P" x="539.5" y="149.5" stroke="#ffb800"/><use href="#M" x="520.5" y="148.5" stroke="#f05a00"/><use href="#M" x="528.5" y="151.5" stroke="#f58200"/><use href="#M" x="493.5" y="155.5" stroke="#ffb800"/><use href="#p" x="563.5" y="152.5" stroke="#ffa000"/><use href="#m" x="569.5" y="156.5" stroke="#ffb800"/><use href="#p" x="576.5" y="151.5" stroke="#ffb800"/><use href="#p" x="582.5" y="152.5" stroke="#ffff00"/><use href="#p" x="580.5" y="153.5" stroke="#ffff00"/><use href="#p" x="579.5" y="159.5" stroke="#ffff00"/><use href="#p" x="578.5" y="158.5" stroke="#ffff00"/><use href="#p" x="594.5" y="151.5" stroke="#ffa000"/><use href="#p" x="546.5" y="162.5" stroke="#ffa000"/><use href="#M" x="551.5" y="158.5" stroke="#f58200"/><use href="#M" x="552.5" y="162.5" stroke="#ffb800"/><use href="#p" x="508.5" y="170.5" stroke="#ffa000"/><use href="#M" x="556.5" y="171.5" stroke="#ffa000"/><use href="#M" x="576.5" y="168.5" stroke="#f58200"/><use href="#M" x="585.5" y="168.5" stroke="#ffff00"/><use href="#M" x="594.5" y="170.5" stroke="#ffa000"/><use href="#P" x="577.5" y="172.5" stroke="#ffb800"/><use href="#p" x="565.5" y="177.5" stroke="#ffb800"/><use href="#p" x="571.5" y="176.5" stroke="#ffa000"/><use href="#p" x="573.5" y="176.5" stroke="#ffa000"/><use href="#M" x="530.5" y="176.5" stroke="#ffa000"/><use href="#M" x="537.5" y="179.5" stroke="#ffb800"/><use href="#M" x="552.5" y="179.5" stroke="#ffb800"/><use href="#M" x="558.5" y="181.5" stroke="#ffa000"/><use href="#M" x="581.5" y="181.5" stroke="#ffa000"/><use href="#M" x="586.5" y="182.5" stroke="#ffb800"/><use href="#M" x="601.5" y="181.5" stroke="#ffa000"/><use href="#M" x="554.5" y="186.5" stroke="#ffd800"/><use href="#m" x="570.5" y="188.5" stroke="#ffa000"/><use href="#M" x="600.5" y="191.5" stroke="#ffff00"/><use href="#M" x="565.5" y="194.5" stroke="#ffa000"/><use href="#M" x="604.5" y="119.5" stroke="#f58200"/><use href="#p" x="87.5" y="17.5" stroke="#ffd800"/><use href="#M" x="166.5" y="12.5" stroke="#ffa000"/><use href="#p" x="21.5" y="56.5" stroke="#ffa000"/><use href="#p" x="32.5" y="73.5" stroke="#ffa000"/><use href="#p" x="76.5" y="54.5" stroke="#f05a00"/><use href="#M" x="72.5" y="52.5" stroke="#ffb800"/><use href="#p" x="181.5" y="37.5" stroke="#f05a00"/><use href="#m" x="201.5" y="37.5" stroke="#ffff00"/><use href="#P" x="144.5" y="60.5" stroke="#f58200"/><use href="#P" x="177.5" y="63.5" stroke="#ffa000"/><use href="#p" x="143.5" y="73.5" stroke="#ffff00"/><use href="#p" x="141.5" y="96.5" stroke="#f05a00"/><use href="#m" x="172.5" y="94.5" stroke="#ffff00"/><use href="#p" x="153.5" y="102.5" stroke="#f05a00"/><use href="#m" x="169.5" y="102.5" stroke="#f05a00"/><use href="#p" x="178.5" y="105.5" stroke="#f05a00"/><use href="#P" x="117.5" y="105.5" stroke="#f58200"/><use href="#P" x="125.5" y="103.5" stroke="#ffff00"/><use href="#M" x="127.5" y="100.5" stroke="#f58200"/><use href="#P" x="165.5" y="107.5" stroke="#ffff00"/><use href="#p" x="222.5" y="112.5" stroke="#f05a00"/><use href="#m" x="167.5" y="117.5" stroke="#ffff00"/><use href="#m" x="132.5" y="121.5" stroke="#ffff00"/><use href="#m" x="145.5" y="121.5" stroke="#ffff00"/><use href="#m" x="146.5" y="129.5" stroke="#f05a00"/><use href="#m" x="203.5" y="128.5" stroke="#f58200"/><use href="#M" x="195.5" y="122.5" stroke="#ffb800"/><use href="#p" x="165.5" y="133.5" stroke="#ffb800"/><use href="#P" x="169.5" y="142.5" stroke="#ffd800"/><use href="#m" x="173.5" y="145.5" stroke="#ffff00"/><use href="#m" x="173.5" y="151.5" stroke="#ffff00"/><use href="#M" x="193.5" y="144.5" stroke="#f58200"/><use href="#m" x="195.5" y="152.5" stroke="#ffff00"/><use href="#m" x="191.5" y="154.5" stroke="#ffff00"/><use href="#m" x="206.5" y="156.5" stroke="#f05a00"/><use href="#m" x="112.5" y="164.5" stroke="#ffa000"/><use href="#p" x="147.5" y="170.5" stroke="#ffa000"/><use href="#M" x="161.5" y="185.5" stroke="#ffa000"/><use href="#m" x="426.5" y="25.5" stroke="#ffa000"/><use href="#P" x="327.5" y="50.5" stroke="#ffff00"/><use href="#M" x="545.5" y="50.5" stroke="#ffff00"/><use href="#M" x="517.5" y="99.5" stroke="#ffff00"/><use href="#p" x="536.5" y="97.5" stroke="#f05a00"/><use href="#m" x="276.5" y="187.5" stroke="#ffb800"/><use href="#M" x="564.5" y="28.5" stroke="#ffff00"/><use href="#m" x="549.5" y="50.5" stroke="#ffb800"/><use href="#p" x="722.5" y="43.5" stroke="#ffa000"/><use href="#M" x="653.5" y="79.5" stroke="#ffb800"/><use href="#p" x="784.5" y="131.5" stroke="#ffa000"/><use href="#M" x="744.5" y="128.5" stroke="#ffff00"/><use href="#p" x="697.5" y="144.5" stroke="#f05a00"/><use href="#p" x="684.5" y="162.5" stroke="#ffa000"/><use href="#m" x="625.5" y="200.5" stroke="#ffd800"/><use href="#M" x="624.5" y="194.5" stroke="#ffff00"/><use href="#M" x="640.5" y="196.5" stroke="#ffff00"/><use href="#m" x="195.5" y="223.5" stroke="#ffa000"/><use href="#m" x="269.5" y="278.5" stroke="#ffa000"/><use href="#p" x="713.5" y="441.5" stroke="#ffd800"/><use href="#p" x="768.5" y="452.5" stroke="#f58200"/><use href="#M" x="776.5" y="436.5" stroke="#ffff00"/><use href="#p" x="785.5" y="537.5" stroke="#ffa000"/><use href="#M" x="741.5" y="617.5" stroke="#ffa000"/><use href="#M" x="746.5" y="621.5" stroke="#ffa000"/><use href="#M" x="674.5" y="635.5" stroke="#ffa000"/><use href="#m" x="755.5" y="649.5" stroke="#ffb800"/><use href="#p" x="802.5" y="637.5" stroke="#f58200"/><use href="#M" x="792.5" y="652.5" stroke="#ffa000"/><use href="#m" x="739.5" y="677.5" stroke="#ffa000"/><use href="#p" x="786.5" y="715.5" stroke="#ffa000"/><use href="#M" x="795.5" y="755.5" stroke="#ffa000"/><use href="#p" x="132.5" y="741.5" stroke="#ffa000"/><use href="#P" x="592.5" y="212.5" stroke="#ffa000"/><use href="#p" x="751.5" y="355.5" stroke="#ffff00"/><use href="#p" x="743.5" y="375.5" stroke="#00e6ff"/><use href="#M" x="738.5" y="371.5" stroke="#ffff00"/><use href="#p" x="729.5" y="355.5" stroke="#ffa000"/><use href="#m" x="782.5" y="353.5" stroke="#ffa000"/><use href="#p" x="701.5" y="329.5" stroke="#f05a00"/><use href="#m" x="262.5" y="248.5" stroke="#ffb800"/>
<text x="139.5" y="125.8" font-size="10" letter-spacing="1.5" fill="#fff" style="paint-order:stroke" stroke="#5e504b" stroke-width="0"><tspan fill="#fff">B-1107</tspan><tspan fill="#00e0e0">-</tspan><tspan fill="#fff">1</tspan><tspan fill="#ff0">−</tspan></text>
<text x="138" y="161.5" font-size="10" letter-spacing="1.5" fill="#fff" style="paint-order:stroke" stroke="#5e504b" stroke-width="0"><tspan fill="#fff">V-2585</tspan><tspan fill="#00e0e0">-</tspan><tspan fill="#fff">1</tspan></text>
<text x="507" y="86" font-size="10" letter-spacing="1.5" fill="#fff" style="paint-order:stroke" stroke="#5e504b" stroke-width="0"><tspan fill="#fff">B-2313</tspan><tspan fill="#f00">+</tspan><tspan fill="#fff">1</tspan><tspan fill="#ff0">−</tspan></text>
<text x="609" y="174.5" font-size="10" letter-spacing="1.5" fill="#fff" style="paint-order:stroke" stroke="#5e504b" stroke-width="0"><tspan fill="#fff">Q-1429</tspan><tspan fill="#f00">+</tspan><tspan fill="#fff">6</tspan></text>
<path d="M665.5 169.5L668.5 175.5L672.5 169.5" fill="none" stroke="#ff0"/>
<text x="661.5" y="253.5" font-size="10" letter-spacing="1.5" fill="#fff" style="paint-order:stroke" stroke="#5e504b" stroke-width="0"><tspan fill="#fff">S-6102</tspan><tspan fill="#f00">+</tspan><tspan fill="#fff">3</tspan><tspan fill="#ff0">−</tspan></text>
<rect x="9.5" y="759.5" width="243" height="43" fill="#000" stroke="#808080"/>
<text x="13.5" y="771" font-size="9.2" fill="#e0e0e0" textLength="34" lengthAdjust="spacingAndGlyphs">Symbols</text><text x="52.6" y="771" font-size="9.2" fill="#e0e0e0" textLength="17.5" lengthAdjust="spacingAndGlyphs">-CG</text><text x="78" y="771" font-size="9.2" fill="#e0e0e0" textLength="14" lengthAdjust="spacingAndGlyphs">-IC</text><text x="98.7" y="771" font-size="9.2" fill="#e0e0e0" textLength="20" lengthAdjust="spacingAndGlyphs">+CG</text><text x="123.8" y="771" font-size="9.2" fill="#e0e0e0" textLength="17" lengthAdjust="spacingAndGlyphs">+IC</text><text x="152.7" y="771" font-size="9.2" fill="#e0e0e0" textLength="90.5" lengthAdjust="spacingAndGlyphs">Strike age color codes</text>
<text x="13.5" y="784" font-size="9.2" fill="#e0e0e0" textLength="27" lengthAdjust="spacingAndGlyphs">Recent</text><text x="13.5" y="796.5" font-size="9.2" fill="#e0e0e0" textLength="14" lengthAdjust="spacingAndGlyphs">Old</text>
<use href="#m" x="60.5" y="780.5" stroke="#00e6ff"/><use href="#M" x="85.5" y="780.5" stroke="#00e6ff"/><use href="#p" x="110.5" y="780.5" stroke="#00e6ff"/><use href="#P" x="135.5" y="780.5" stroke="#00e6ff"/>
<use href="#m" x="60.5" y="793.5" stroke="#ffff00"/><use href="#M" x="85.5" y="793.5" stroke="#ffff00"/><use href="#p" x="110.5" y="793.5" stroke="#ffff00"/><use href="#P" x="135.5" y="793.5" stroke="#ffff00"/>
<text x="153" y="784" font-size="9.2" fill="#ffd800" textLength="16.5" lengthAdjust="spacingAndGlyphs">15+</text><text x="188.3" y="784" font-size="9.2" fill="#ffb800" textLength="16.5" lengthAdjust="spacingAndGlyphs">30+</text><text x="223.5" y="784" font-size="9.2" fill="#ffa000" textLength="16.5" lengthAdjust="spacingAndGlyphs">45+</text>
<text x="153" y="796.5" font-size="9.2" fill="#f58200" textLength="16.5" lengthAdjust="spacingAndGlyphs">60+</text><text x="188.3" y="796.5" font-size="9.2" fill="#f05a00" textLength="16.5" lengthAdjust="spacingAndGlyphs">75+</text><text x="223.5" y="796.5" font-size="9.2" fill="#eb3200" textLength="16.5" lengthAdjust="spacingAndGlyphs">90+</text>
<rect x="685" y="792" width="121" height="14" fill="#000"/>
<text x="689" y="801.8" font-size="8.6" fill="#fff" textLength="113" lengthAdjust="spacingAndGlyphs">©2005 Astrogenic Systems</text>
</svg>
<div class="pn" style="top:8px;height:318px"></div>
<div class="pn" style="top:333px;height:113px"></div>
<div class="pn" style="top:453px;height:348px"></div>
<div class="b" style="left:819px;top:16px;width:56px;height:16px;background:#5a0000;border-color:#c8c8c8"></div>
<span class="t" style="top:17.60px;font-size:13px;color:#cccccc;font-weight:bold;left:824.20px;transform-origin:0 50%;transform:scaleX(1.0153);">STRIKE</span>
<div class="b" style="left:883px;top:16px;width:56px;height:16px;background:#333;border-color:#c8c8c8"></div>
<span class="t" style="top:17.60px;font-size:13px;color:#cccccc;font-weight:bold;left:890.40px;transform-origin:0 50%;transform:scaleX(1.0703);">NOISE</span>
<div class="b" style="left:994px;top:16px;width:126px;height:16px;background:#333;border-color:#c8c8c8"></div>
<span class="t" style="top:17.60px;font-size:13px;color:#fff;font-weight:bold;left:998.60px;transform-origin:0 50%;transform:scaleX(1.0796);">Bng 69°</span>
<span class="t" style="top:17.60px;font-size:13px;color:#00ea00;font-weight:bold;right:20.30px;transform-origin:100% 50%;transform:scaleX(1.1340);">245mi</span>
<div class="b" style="left:821px;top:64px;width:80px;height:14px;background:#555;border-color:#c8c8c8"></div>
<span class="t" style="top:66.40px;font-size:11.5px;color:#f0f0f0;left:829.20px;transform-origin:0 50%;transform:scaleX(1.1500);">Strikes/min</span>
<div class="b" style="left:931px;top:64px;width:80px;height:14px;background:#555;border-color:#c8c8c8"></div>
<span class="t" style="top:66.40px;font-size:11.5px;color:#f0f0f0;left:943.00px;transform-origin:0 50%;transform:scaleX(1.1345);">Close/min</span>
<div class="b" style="left:1041px;top:64px;width:80px;height:14px;background:#555;border-color:#c8c8c8"></div>
<span class="t" style="top:66.40px;font-size:11.5px;color:#f0f0f0;left:1050.00px;transform-origin:0 50%;transform:scaleX(1.1077);">Noises/min</span>
<span class="t" style="top:84.10px;font-size:31px;color:#fff;-webkit-text-stroke:0.5px currentColor;font-weight:bold;right:235.40px;transform-origin:100% 50%;transform:scaleX(1.0674);">5</span>
<span class="t" style="top:84.10px;font-size:31px;color:#fff;-webkit-text-stroke:0.5px currentColor;font-weight:bold;right:125.20px;transform-origin:100% 50%;transform:scaleX(1.0674);">0</span>
<span class="t" style="top:84.10px;font-size:31px;color:#c0c0c0;-webkit-text-stroke:0.5px currentColor;font-weight:bold;left:1104.00px;transform-origin:0 50%;transform:scaleX(1.0325);">1</span>
<div style="position:absolute;left:1106px;top:108px;width:15px;height:4px;background:#c0c0c0"></div>
<span class="t" style="top:131.00px;font-size:13px;color:#fff;left:826.20px;transform-origin:0 50%;transform:scaleX(1.0805);">Total Strikes</span>
<span class="t" style="top:148.60px;font-size:13px;color:#fff;right:235.50px;transform-origin:100% 50%;transform:scaleX(1.0478);">1767</span>
<span class="t" style="top:131.00px;font-size:13px;color:#fff;right:125.50px;transform-origin:100% 50%;transform:scaleX(1.0575);">Total Close</span>
<span class="t" style="top:148.60px;font-size:13px;color:#fff;right:125.50px;transform-origin:100% 50%;transform:scaleX(1.1066);">0</span>
<span class="t" style="top:131.00px;font-size:13px;color:#c0c0c0;right:15.50px;transform-origin:100% 50%;transform:scaleX(1.0522);">Total Noises</span>
<span class="t" style="top:148.60px;font-size:13px;color:#fff;right:15.50px;transform-origin:100% 50%;transform:scaleX(1.0375);">140</span>
<span class="t" style="top:203.00px;font-size:13px;color:#c0c0c0;left:821.10px;transform-origin:0 50%;transform:scaleX(1.1159);">Lightning type distribution</span>
<div class="hr" style="left:821px;top:217px;width:303px"></div>
<span class="t" style="top:225.70px;font-size:12px;color:#fff;font-weight:bold;left:821.30px;transform-origin:0 50%;transform:scaleX(1.0593);">Cloud-ground</span>
<span class="t" style="top:225.70px;font-size:12px;color:#d0d0d0;left:913.00px;transform-origin:0 50%;transform:scaleX(1.1414);">+</span>
<div class="bar" style="left:925px;top:227px"><i style="width:17px;background:#f00"></i></div>
<span class="t" style="top:225.70px;font-size:12px;color:#fff;font-weight:bold;left:979.00px;transform-origin:0 50%;transform:scaleX(1.2241);">34%</span>
<div style="position:absolute;left:1016px;top:231px;width:7px;height:2px;background:#c0c0c0"></div>
<div class="bar" style="left:1028px;top:227px"><i style="width:11px;background:#8cf"></i></div>
<span class="t" style="top:225.70px;font-size:12px;color:#fff;font-weight:bold;left:1082.30px;transform-origin:0 50%;transform:scaleX(1.2158);">21%</span>
<span class="t" style="top:249.80px;font-size:12px;color:#c0c0c0;font-weight:bold;left:821.30px;transform-origin:0 50%;transform:scaleX(1.1111);">Count</span>
<span class="t" style="top:249.80px;font-size:12px;color:#fff;font-weight:bold;left:925.50px;transform-origin:0 50%;transform:scaleX(1.1739);">597</span>
<span class="t" style="top:249.80px;font-size:12px;color:#fff;font-weight:bold;left:1028.50px;transform-origin:0 50%;transform:scaleX(1.1739);">367</span>
<span class="t" style="top:279.50px;font-size:12px;color:#fff;font-weight:bold;left:821.30px;transform-origin:0 50%;transform:scaleX(1.1035);">Intracloud</span>
<span class="t" style="top:279.50px;font-size:12px;color:#d0d0d0;left:913.00px;transform-origin:0 50%;transform:scaleX(1.1414);">+</span>
<div class="bar" style="left:925px;top:281px"><i style="width:4px;background:#f060b0"></i></div>
<span class="t" style="top:279.50px;font-size:12px;color:#fff;font-weight:bold;left:979.00px;transform-origin:0 50%;transform:scaleX(1.2396);">8%</span>
<div style="position:absolute;left:1016px;top:285px;width:7px;height:2px;background:#c0c0c0"></div>
<div class="bar" style="left:1028px;top:281px"><i style="width:18px;background:#0e0"></i></div>
<span class="t" style="top:279.50px;font-size:12px;color:#fff;font-weight:bold;left:1082.30px;transform-origin:0 50%;transform:scaleX(1.2158);">37%</span>
<span class="t" style="top:303.60px;font-size:12px;color:#c0c0c0;font-weight:bold;left:821.30px;transform-origin:0 50%;transform:scaleX(1.1111);">Count</span>
<span class="t" style="top:303.60px;font-size:12px;color:#fff;font-weight:bold;left:925.50px;transform-origin:0 50%;transform:scaleX(1.1739);">145</span>
<span class="t" style="top:303.60px;font-size:12px;color:#fff;font-weight:bold;left:1028.50px;transform-origin:0 50%;transform:scaleX(1.1739);">658</span>
<span class="t" style="top:338.20px;font-size:17px;color:#00ea00;font-weight:bold;left:822.40px;transform-origin:0 50%;transform:scaleX(1.1838);">10/21/2025 6:19:16 AM</span>
<div class="hr" style="left:821px;top:358px;width:302px"></div>
<span class="t" style="top:376.70px;font-size:12.5px;color:#fff;left:821.30px;transform-origin:0 50%;transform:scaleX(1.0737);">Squelch</span>
<span class="t" style="top:376.70px;font-size:12.5px;color:#fff;left:909.50px;transform-origin:0 50%;transform:scaleX(1.0790);">0</span>
<span class="t" style="top:376.70px;font-size:12.5px;color:#fff;left:981.40px;transform-origin:0 50%;transform:scaleX(1.0982);">Upload</span>
<span class="t" style="top:376.70px;font-size:12.5px;color:#c0c0c0;left:1061.20px;transform-origin:0 50%;transform:scaleX(1.0979);">Disabled</span>
<span class="t" style="top:396.60px;font-size:12.5px;color:#fff;left:821.30px;transform-origin:0 50%;transform:scaleX(1.1178);">Persistence</span>
<span class="t" style="top:396.60px;font-size:12.5px;color:#fff;left:909.50px;transform-origin:0 50%;transform:scaleX(1.0929);">90 min</span>
<span class="t" style="top:396.60px;font-size:12.5px;color:#fff;left:981.40px;transform-origin:0 50%;transform:scaleX(1.1357);">Capture</span>
<span class="t" style="top:396.60px;font-size:12.5px;color:#00ea00;left:1061.20px;transform-origin:0 50%;transform:scaleX(1.0723);">Active</span>
<span class="t" style="top:416.80px;font-size:12.5px;color:#fff;left:821.30px;transform-origin:0 50%;transform:scaleX(1.0724);">Range</span>
<span class="t" style="top:416.80px;font-size:12.5px;color:#fff;left:909.50px;transform-origin:0 50%;transform:scaleX(1.0929);">313 mi</span>
<span class="t" style="top:416.80px;font-size:12.5px;color:#fff;left:981.40px;transform-origin:0 50%;transform:scaleX(1.0645);">Receiver</span>
<span class="t" style="top:416.80px;font-size:12.5px;color:#00ea00;left:1061.20px;transform-origin:0 50%;transform:scaleX(1.1009);">Enabled</span>
<span class="t" style="top:463.60px;font-size:12.5px;color:#c0c0c0;left:821.30px;transform-origin:0 50%;transform:scaleX(1.0987);">Uptime</span>
<span class="t" style="top:463.60px;font-size:12.5px;color:#fff;left:909.50px;transform-origin:0 50%;transform:scaleX(1.1510);">97:49</span>
<span class="t" style="top:463.60px;font-size:12.5px;color:#c0c0c0;left:981.40px;transform-origin:0 50%;transform:scaleX(1.1066);">Peak time</span>
<span class="t" style="top:463.60px;font-size:12.5px;color:#c0c0c0;left:1061.20px;transform-origin:0 50%;transform:scaleX(1.1143);">Plot</span>
<span class="t" style="top:486.60px;font-size:12.5px;color:#c0c0c0;left:821.30px;transform-origin:0 50%;transform:scaleX(1.1308);">Peak rate</span>
<span class="t" style="top:486.60px;font-size:12.5px;color:#fff;left:909.50px;transform-origin:0 50%;transform:scaleX(1.1329);">17/min</span>
<span class="t" style="top:486.60px;font-size:12.5px;color:#fff;left:981.40px;transform-origin:0 50%;transform:scaleX(1.1012);">5:44 AM</span>
<span class="t" style="top:486.60px;font-size:12.5px;color:#fff;left:1061.20px;transform-origin:0 50%;transform:scaleX(1.1267);">Strike</span>
<span class="t" style="top:516.40px;font-size:12.5px;color:#c0c0c0;left:822.50px;transform-origin:0 50%;transform:scaleX(1.1312);">Trend graph</span>
<span class="t" style="top:516.40px;font-size:12.5px;color:#fff;left:908.50px;transform-origin:0 50%;transform:scaleX(1.1062);">60 min</span>
<svg width="326" height="290" viewBox="812 520 326 290" style="position:absolute;left:812px;top:520px;font-family:'Liberation Sans',sans-serif" shape-rendering="crispEdges"><path d="M822.5 777.5H1088.5V542.5" stroke="#d0d0d0" fill="none"/><path d="M822.5 777.5v3M866.5 777.5v3M911.5 777.5v3M955.5 777.5v3M999.5 777.5v3M1044.5 777.5v3M1088.5 777.5v3M1088.5 777.5h-5M1088.5 738.5h-3M1088.5 699.5h-5M1088.5 660.5h-3M1088.5 620.5h-5M1088.5 581.5h-3M1088.5 542.5h-5" stroke="#d0d0d0" fill="none"/><text x="1092.2" y="702.8" font-size="11" fill="#c8c8c8">10</text><text x="1092.2" y="624.4" font-size="11" fill="#c8c8c8">20</text><text x="1092.2" y="546.1" font-size="11" fill="#c8c8c8">30</text><text x="820.3" y="792.6" font-size="11" fill="#c8c8c8">60</text><text x="864.6" y="792.6" font-size="11" fill="#c8c8c8">50</text><text x="909.0" y="792.6" font-size="11" fill="#c8c8c8">40</text><text x="953.3" y="792.6" font-size="11" fill="#c8c8c8">30</text><text x="997.6" y="792.6" font-size="11" fill="#c8c8c8">20</text><text x="1042.0" y="792.6" font-size="11" fill="#c8c8c8">10</text><text x="1087.3" y="792.6" font-size="11" fill="#c8c8c8">0</text><text x="1100.6" y="792.6" font-size="11" fill="#c8c8c8">min</text><path d="M822.5 754.0L824.0 754.0L825.5 754.0L826.9 754.0L828.4 761.8L829.9 761.8L831.4 761.8L832.8 761.8L834.3 754.0L835.8 769.7L837.3 761.8L838.8 761.8L840.2 761.8L841.7 754.0L843.2 754.0L844.7 761.8L846.1 769.7L847.6 777.5L849.1 769.7L850.6 769.7L852.1 769.7L853.5 754.0L855.0 761.8L856.5 769.7L858.0 761.8L859.4 769.7L860.9 769.7L862.4 769.7L863.9 754.0L865.4 754.0L866.8 769.7L868.3 777.5L869.8 777.5L871.3 769.7L872.7 777.5L874.2 777.5L875.7 769.7L877.2 769.7L878.7 777.5L880.1 777.5L881.6 777.5L883.1 769.7L884.6 769.7L886.0 769.7L887.5 754.0L889.0 754.0L890.5 754.0L892.0 769.7L893.4 777.5L894.9 777.5L896.4 769.7L897.9 777.5L899.3 761.8L900.8 761.8L902.3 777.5L903.8 769.7L905.3 761.8L906.7 769.7L908.2 777.5L909.7 761.8L911.2 761.8L912.6 761.8L914.1 769.7L915.6 777.5L917.1 777.5L918.6 769.7L920.0 761.8L921.5 754.0L923.0 754.0L924.5 754.0L925.9 761.8L927.4 754.0L928.9 754.0L930.4 754.0L931.9 754.0L933.3 754.0L934.8 769.7L936.3 777.5L937.8 777.5L939.2 777.5L940.7 777.5L942.2 777.5L943.7 777.5L945.2 777.5L946.6 777.5L948.1 769.7L949.6 769.7L951.1 769.7L952.5 761.8L954.0 761.8L955.5 754.0L957.0 730.5L958.5 754.0L959.9 754.0L961.4 769.7L962.9 777.5L964.4 777.5L965.8 777.5L967.3 769.7L968.8 761.8L970.3 754.0L971.8 754.0L973.2 769.7L974.7 769.7L976.2 769.7L977.7 754.0L979.1 754.0L980.6 754.0L982.1 761.8L983.6 777.5L985.1 777.5L986.5 777.5L988.0 777.5L989.5 777.5L991.0 769.7L992.4 769.7L993.9 769.7L995.4 769.7L996.9 777.5L998.4 777.5L999.8 769.7L1001.3 761.8L1002.8 769.7L1004.3 777.5L1005.7 777.5L1007.2 777.5L1008.7 769.7L1010.2 777.5L1011.7 777.5L1013.1 777.5L1014.6 777.5L1016.1 777.5L1017.6 769.7L1019.0 777.5L1020.5 777.5L1022.0 777.5L1023.5 769.7L1025.0 754.0L1026.4 769.7L1027.9 769.7L1029.4 761.8L1030.9 769.7L1032.3 777.5L1033.8 761.8L1035.3 777.5L1036.8 777.5L1038.3 777.5L1039.7 777.5L1041.2 769.7L1042.7 761.8L1044.2 761.8L1045.6 761.8L1047.1 754.0L1048.6 761.8L1050.1 769.7L1051.6 777.5L1053.0 777.5L1054.5 777.5L1056.0 777.5L1057.5 777.5L1058.9 777.5L1060.4 777.5L1061.9 777.5L1063.4 777.5L1064.9 777.5L1066.3 777.5L1067.8 777.5L1069.3 777.5L1070.8 777.5L1072.2 769.7L1073.7 777.5L1075.2 769.7L1076.7 761.8L1078.2 761.8L1079.6 769.7L1081.1 777.5L1082.6 777.5L1084.1 777.5L1085.5 777.5L1087.0 769.7L1088.5 769.7" stroke="#f070c0" fill="none"/><path d="M822.5 777.5L824.0 777.5L825.5 777.5L826.9 777.5L828.4 761.8L829.9 746.2L831.4 746.2L832.8 769.7L834.3 754.0L835.8 754.0L837.3 746.2L838.8 746.2L840.2 746.2L841.7 754.0L843.2 754.0L844.7 754.0L846.1 754.0L847.6 754.0L849.1 761.8L850.6 746.2L852.1 761.8L853.5 769.7L855.0 777.5L856.5 777.5L858.0 777.5L859.4 761.8L860.9 761.8L862.4 769.7L863.9 769.7L865.4 777.5L866.8 777.5L868.3 769.7L869.8 761.8L871.3 746.2L872.7 761.8L874.2 769.7L875.7 777.5L877.2 777.5L878.7 769.7L880.1 761.8L881.6 769.7L883.1 769.7L884.6 754.0L886.0 738.3L887.5 754.0L889.0 769.7L890.5 777.5L892.0 761.8L893.4 777.5L894.9 777.5L896.4 777.5L897.9 777.5L899.3 777.5L900.8 777.5L902.3 777.5L903.8 777.5L905.3 769.7L906.7 769.7L908.2 769.7L909.7 761.8L911.2 761.8L912.6 746.2L914.1 722.7L915.6 746.2L917.1 761.8L918.6 769.7L920.0 777.5L921.5 769.7L923.0 769.7L924.5 769.7L925.9 761.8L927.4 746.2L928.9 761.8L930.4 769.7L931.9 769.7L933.3 769.7L934.8 754.0L936.3 754.0L937.8 754.0L939.2 769.7L940.7 769.7L942.2 777.5L943.7 777.5L945.2 777.5L946.6 777.5L948.1 777.5L949.6 777.5L951.1 777.5L952.5 777.5L954.0 777.5L955.5 777.5L957.0 769.7L958.5 769.7L959.9 777.5L961.4 761.8L962.9 777.5L964.4 777.5L965.8 777.5L967.3 777.5L968.8 777.5L970.3 761.8L971.8 754.0L973.2 730.5L974.7 754.0L976.2 769.7L977.7 761.8L979.1 761.8L980.6 761.8L982.1 761.8L983.6 761.8L985.1 746.2L986.5 761.8L988.0 746.2L989.5 722.7L991.0 746.2L992.4 761.8L993.9 769.7L995.4 769.7L996.9 777.5L998.4 777.5L999.8 769.7L1001.3 769.7L1002.8 769.7L1004.3 769.7L1005.7 769.7L1007.2 777.5L1008.7 769.7L1010.2 761.8L1011.7 761.8L1013.1 761.8L1014.6 769.7L1016.1 754.0L1017.6 738.3L1019.0 754.0L1020.5 769.7L1022.0 761.8L1023.5 769.7L1025.0 769.7L1026.4 769.7L1027.9 769.7L1029.4 777.5L1030.9 769.7L1032.3 761.8L1033.8 754.0L1035.3 746.2L1036.8 746.2L1038.3 746.2L1039.7 754.0L1041.2 738.3L1042.7 754.0L1044.2 769.7L1045.6 761.8L1047.1 761.8L1048.6 761.8L1050.1 761.8L1051.6 769.7L1053.0 754.0L1054.5 738.3L1056.0 754.0L1057.5 761.8L1058.9 761.8L1060.4 777.5L1061.9 777.5L1063.4 777.5L1064.9 777.5L1066.3 777.5L1067.8 777.5L1069.3 769.7L1070.8 769.7L1072.2 777.5L1073.7 777.5L1075.2 777.5L1076.7 777.5L1078.2 769.7L1079.6 769.7L1081.1 761.8L1082.6 746.2L1084.1 746.2L1085.5 746.2L1087.0 761.8L1088.5 746.2" stroke="#8cf" fill="none"/><path d="M822.5 761.8L824.0 761.8L825.5 754.0L826.9 746.2L828.4 746.2L829.9 746.2L831.4 754.0L832.8 746.2L834.3 754.0L835.8 754.0L837.3 754.0L838.8 754.0L840.2 746.2L841.7 761.8L843.2 769.7L844.7 769.7L846.1 769.7L847.6 761.8L849.1 746.2L850.6 769.7L852.1 769.7L853.5 769.7L855.0 777.5L856.5 777.5L858.0 777.5L859.4 777.5L860.9 769.7L862.4 769.7L863.9 761.8L865.4 754.0L866.8 754.0L868.3 769.7L869.8 761.8L871.3 761.8L872.7 761.8L874.2 761.8L875.7 769.7L877.2 754.0L878.7 738.3L880.1 754.0L881.6 761.8L883.1 769.7L884.6 761.8L886.0 754.0L887.5 754.0L889.0 746.2L890.5 761.8L892.0 769.7L893.4 769.7L894.9 754.0L896.4 761.8L897.9 769.7L899.3 761.8L900.8 761.8L902.3 761.8L903.8 761.8L905.3 761.8L906.7 761.8L908.2 761.8L909.7 746.2L911.2 761.8L912.6 769.7L914.1 777.5L915.6 761.8L917.1 777.5L918.6 777.5L920.0 777.5L921.5 777.5L923.0 769.7L924.5 769.7L925.9 769.7L927.4 777.5L928.9 761.8L930.4 746.2L931.9 746.2L933.3 746.2L934.8 714.8L936.3 746.2L937.8 761.8L939.2 777.5L940.7 769.7L942.2 761.8L943.7 761.8L945.2 761.8L946.6 761.8L948.1 777.5L949.6 777.5L951.1 777.5L952.5 777.5L954.0 777.5L955.5 769.7L957.0 777.5L958.5 769.7L959.9 769.7L961.4 769.7L962.9 777.5L964.4 769.7L965.8 769.7L967.3 761.8L968.8 777.5L970.3 761.8L971.8 746.2L973.2 746.2L974.7 746.2L976.2 746.2L977.7 746.2L979.1 746.2L980.6 746.2L982.1 761.8L983.6 754.0L985.1 746.2L986.5 754.0L988.0 746.2L989.5 746.2L991.0 761.8L992.4 777.5L993.9 769.7L995.4 777.5L996.9 769.7L998.4 769.7L999.8 754.0L1001.3 730.5L1002.8 754.0L1004.3 769.7L1005.7 761.8L1007.2 777.5L1008.7 769.7L1010.2 754.0L1011.7 738.3L1013.1 754.0L1014.6 769.7L1016.1 769.7L1017.6 761.8L1019.0 754.0L1020.5 738.3L1022.0 746.2L1023.5 746.2L1025.0 746.2L1026.4 746.2L1027.9 746.2L1029.4 746.2L1030.9 746.2L1032.3 746.2L1033.8 761.8L1035.3 761.8L1036.8 761.8L1038.3 761.8L1039.7 761.8L1041.2 761.8L1042.7 769.7L1044.2 769.7L1045.6 769.7L1047.1 769.7L1048.6 777.5L1050.1 777.5L1051.6 761.8L1053.0 777.5L1054.5 777.5L1056.0 777.5L1057.5 777.5L1058.9 777.5L1060.4 769.7L1061.9 761.8L1063.4 746.2L1064.9 761.8L1066.3 769.7L1067.8 761.8L1069.3 761.8L1070.8 761.8L1072.2 761.8L1073.7 761.8L1075.2 761.8L1076.7 777.5L1078.2 769.7L1079.6 777.5L1081.1 777.5L1082.6 777.5L1084.1 769.7L1085.5 761.8L1087.0 769.7L1088.5 777.5" stroke="#f00" fill="none"/><path d="M822.5 761.8L824.0 754.0L825.5 769.7L826.9 769.7L828.4 769.7L829.9 769.7L831.4 777.5L832.8 769.7L834.3 754.0L835.8 738.3L837.3 754.0L838.8 769.7L840.2 769.7L841.7 761.8L843.2 761.8L844.7 769.7L846.1 769.7L847.6 769.7L849.1 777.5L850.6 769.7L852.1 777.5L853.5 777.5L855.0 777.5L856.5 777.5L858.0 769.7L859.4 769.7L860.9 769.7L862.4 761.8L863.9 761.8L865.4 746.2L866.8 761.8L868.3 746.2L869.8 746.2L871.3 746.2L872.7 769.7L874.2 761.8L875.7 746.2L877.2 754.0L878.7 754.0L880.1 769.7L881.6 777.5L883.1 777.5L884.6 777.5L886.0 777.5L887.5 769.7L889.0 769.7L890.5 777.5L892.0 769.7L893.4 761.8L894.9 738.3L896.4 707.0L897.9 738.3L899.3 761.8L900.8 761.8L902.3 746.2L903.8 761.8L905.3 769.7L906.7 769.7L908.2 769.7L909.7 777.5L911.2 777.5L912.6 761.8L914.1 754.0L915.6 746.2L917.1 746.2L918.6 746.2L920.0 754.0L921.5 754.0L923.0 754.0L924.5 738.3L925.9 754.0L927.4 754.0L928.9 754.0L930.4 754.0L931.9 754.0L933.3 746.2L934.8 746.2L936.3 761.8L937.8 761.8L939.2 761.8L940.7 761.8L942.2 761.8L943.7 761.8L945.2 761.8L946.6 761.8L948.1 777.5L949.6 777.5L951.1 769.7L952.5 761.8L954.0 761.8L955.5 761.8L957.0 754.0L958.5 754.0L959.9 754.0L961.4 761.8L962.9 777.5L964.4 777.5L965.8 777.5L967.3 754.0L968.8 754.0L970.3 754.0L971.8 754.0L973.2 754.0L974.7 754.0L976.2 754.0L977.7 754.0L979.1 754.0L980.6 754.0L982.1 754.0L983.6 754.0L985.1 754.0L986.5 754.0L988.0 777.5L989.5 777.5L991.0 777.5L992.4 769.7L993.9 754.0L995.4 730.5L996.9 754.0L998.4 769.7L999.8 754.0L1001.3 738.3L1002.8 754.0L1004.3 769.7L1005.7 777.5L1007.2 769.7L1008.7 777.5L1010.2 777.5L1011.7 769.7L1013.1 777.5L1014.6 761.8L1016.1 746.2L1017.6 746.2L1019.0 746.2L1020.5 769.7L1022.0 761.8L1023.5 761.8L1025.0 761.8L1026.4 746.2L1027.9 761.8L1029.4 754.0L1030.9 761.8L1032.3 761.8L1033.8 754.0L1035.3 769.7L1036.8 769.7L1038.3 769.7L1039.7 777.5L1041.2 777.5L1042.7 761.8L1044.2 761.8L1045.6 754.0L1047.1 761.8L1048.6 761.8L1050.1 746.2L1051.6 746.2L1053.0 746.2L1054.5 761.8L1056.0 761.8L1057.5 761.8L1058.9 754.0L1060.4 761.8L1061.9 761.8L1063.4 769.7L1064.9 777.5L1066.3 777.5L1067.8 777.5L1069.3 769.7L1070.8 761.8L1072.2 746.2L1073.7 761.8L1075.2 769.7L1076.7 769.7L1078.2 761.8L1079.6 746.2L1081.1 761.8L1082.6 769.7L1084.1 761.8L1085.5 769.7L1087.0 769.7L1088.5 777.5" stroke="#0e0" fill="none"/><path d="M822.5 730.1L823.5 735.3L825.5 738.8L826.5 752.0L828.5 753.7L829.5 746.4L831.5 752.0L831.5 747.6L833.5 752.0L835.5 738.0L836.5 717.0L837.5 704.7L838.5 691.1L840.5 703.0L841.5 715.2L843.5 722.2L844.5 731.0L845.5 741.5L847.5 746.7L848.5 715.2L849.5 727.5L850.5 706.5L851.5 713.5L853.5 691.1L855.5 710.0L856.5 722.2L857.5 736.2L859.5 745.0L860.5 731.0L862.5 743.2L863.5 717.0L864.5 706.5L866.5 713.5L867.5 699.1L868.5 738.0L870.5 724.0L871.5 706.5L873.5 713.5L874.5 734.5L876.5 748.5L877.5 727.5L879.5 722.2L880.5 738.0L882.5 752.0L883.5 738.0L885.5 699.5L887.5 706.5L888.5 706.5L890.5 724.0L891.5 727.5L893.5 692.5L894.5 681.1L896.5 675.3L897.5 697.7L898.5 703.0L900.5 692.5L902.5 683.4L904.5 701.2L905.5 722.2L906.5 715.2L908.5 714.4L908.5 714.4L909.5 716.1L910.5 721.4L911.5 722.2L912.5 690.7L914.5 668.0L915.5 675.0L916.5 668.0L918.5 687.2L919.5 717.0L920.5 738.0L921.5 752.0L922.5 727.5L924.5 680.2L925.5 668.0L926.5 668.0L928.5 682.0L929.5 713.5L931.5 699.5L933.5 682.0L934.5 662.7L935.5 652.2L935.5 675.0L937.5 699.5L938.5 713.5L939.5 745.0L941.5 739.7L942.5 738.0L944.5 725.7L945.5 722.2L947.5 731.0L948.5 741.5L949.5 760.7L951.5 745.0L953.5 724.0L954.5 706.5L955.5 722.2L956.5 699.5L957.5 675.0L958.5 685.5L959.5 703.0L961.5 690.7L962.5 703.0L963.5 710.0L965.5 699.5L966.5 706.5L968.5 706.5L969.5 718.7L970.5 734.5L971.5 696.0L972.5 683.4L974.5 690.7L975.5 706.5L976.5 722.2L977.5 734.5L978.5 713.5L980.5 699.5L981.5 710.0L983.5 727.5L984.5 752.0L986.5 731.0L987.5 713.5L988.5 706.5L990.5 683.7L991.5 696.0L992.5 706.5L994.5 692.5L996.5 690.7L998.5 690.7L999.5 683.7L1000.5 664.5L1001.5 652.2L1002.5 666.2L1004.5 659.2L1004.5 701.2L1005.5 738.0L1007.5 727.5L1008.5 710.0L1010.5 691.6L1013.5 691.6L1014.5 704.7L1016.5 713.5L1018.5 707.4L1019.5 710.0L1021.5 699.5L1022.5 722.2L1024.5 715.2L1025.5 710.0L1027.5 706.5L1028.5 718.7L1030.5 731.0L1032.5 745.0L1033.5 748.5L1035.5 753.7L1037.5 752.0L1038.5 738.0L1039.5 715.2L1042.5 715.2L1043.5 731.0L1045.5 743.2L1046.5 732.7L1047.5 738.0L1049.5 752.0L1050.5 731.0L1051.5 724.0L1053.5 732.7L1054.5 715.2L1055.5 734.5L1057.5 717.0L1058.5 706.5L1061.5 699.5L1062.5 717.0L1064.5 731.0L1066.5 738.0L1067.5 743.2L1069.5 752.0L1071.5 738.0L1072.5 727.5L1073.5 722.2L1074.5 729.2L1076.5 745.0L1078.5 746.7L1079.5 738.8L1081.5 745.0L1082.5 753.7L1083.5 760.7L1085.5 748.5L1086.5 738.0L1088.5 730.1" stroke="#fff" fill="none"/></svg>
</body></html>
